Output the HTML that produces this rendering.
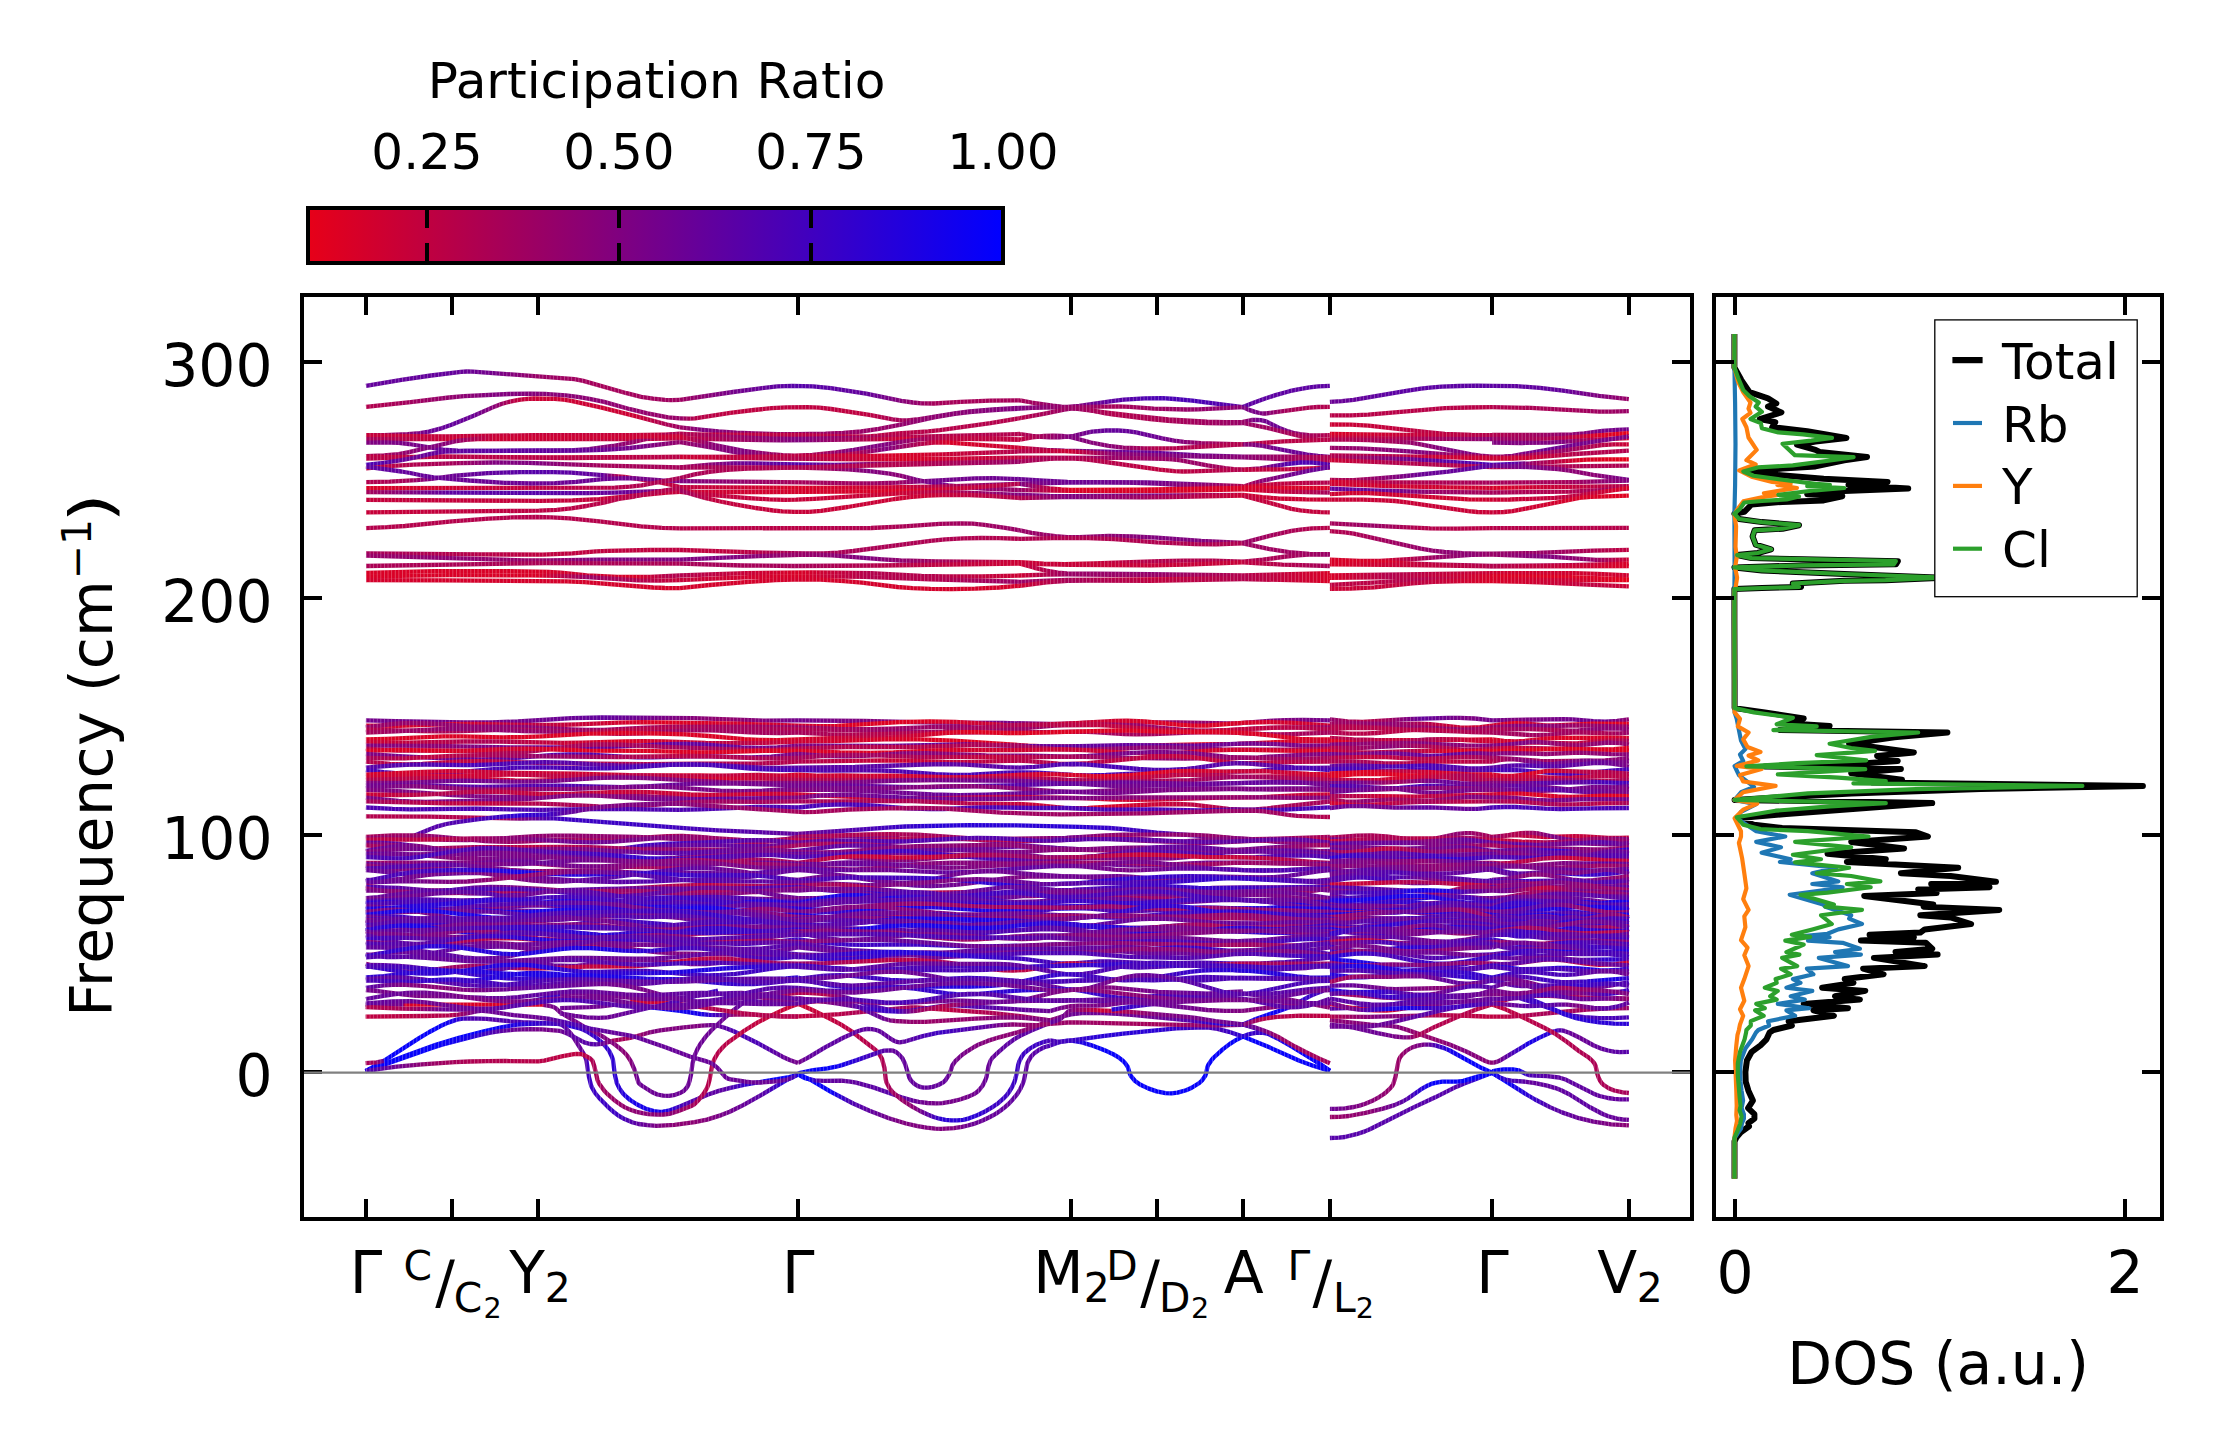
<!DOCTYPE html>
<html lang="en"><head><meta charset="utf-8"><title>Phonon band structure</title>
<style>html,body{margin:0;padding:0;background:#fff}svg{display:block}text{font-family:'DejaVu Sans','Liberation Sans',sans-serif;fill:#000}</style></head><body>
<svg width="2222" height="1455" viewBox="0 0 2222 1455">
<rect width="2222" height="1455" fill="#fff"/>
<defs><linearGradient id="cb" x1="0" x2="1" y1="0" y2="0"><stop offset="0" stop-color="#e70018"/><stop offset="1" stop-color="#0000ff"/></linearGradient><linearGradient id="g1" gradientUnits="userSpaceOnUse" x1="366" x2="680"><stop offset="0" stop-color="#63009c"/><stop offset=".274" stop-color="#63009c"/><stop offset=".411" stop-color="#75008a"/><stop offset=".548" stop-color="#990066"/><stop offset=".755" stop-color="#a60059"/><stop offset="1" stop-color="#9f0060"/></linearGradient><linearGradient id="g2" gradientUnits="userSpaceOnUse" x1="366" x2="680"><stop offset="0" stop-color="#b3004c"/><stop offset=".411" stop-color="#80007f"/><stop offset="1" stop-color="#980067"/></linearGradient><linearGradient id="g3" gradientUnits="userSpaceOnUse" x1="366" x2="680"><stop offset="0" stop-color="#a60059"/><stop offset=".137" stop-color="#8c0073"/><stop offset=".201" stop-color="#6b0094"/><stop offset=".274" stop-color="#63009c"/><stop offset=".342" stop-color="#6b0094"/><stop offset=".411" stop-color="#8c0073"/><stop offset=".478" stop-color="#bf0040"/><stop offset=".548" stop-color="#cc0033"/><stop offset=".855" stop-color="#cc0033"/><stop offset="1" stop-color="#9d0062"/></linearGradient><linearGradient id="g4" gradientUnits="userSpaceOnUse" x1="366" x2="680"><stop offset="0" stop-color="#a60059"/><stop offset=".274" stop-color="#cc0033"/><stop offset="1" stop-color="#c0003f"/></linearGradient><linearGradient id="g5" gradientUnits="userSpaceOnUse" x1="366" x2="680"><stop offset="0" stop-color="#80007f"/><stop offset=".201" stop-color="#75008a"/><stop offset=".251" stop-color="#63009c"/><stop offset=".342" stop-color="#5c00a3"/><stop offset=".548" stop-color="#5c00a3"/><stop offset="1" stop-color="#b3004c"/></linearGradient><linearGradient id="g6" gradientUnits="userSpaceOnUse" x1="366" x2="680"><stop offset="0" stop-color="#b3004c"/><stop offset=".201" stop-color="#80007f"/><stop offset=".274" stop-color="#8c0073"/><stop offset=".411" stop-color="#cc0033"/><stop offset="1" stop-color="#cc0033"/></linearGradient><linearGradient id="g7" gradientUnits="userSpaceOnUse" x1="366" x2="680"><stop offset="0" stop-color="#4a00b5"/><stop offset=".137" stop-color="#6b0094"/><stop offset=".342" stop-color="#5c00a3"/><stop offset=".654" stop-color="#63009c"/><stop offset=".855" stop-color="#75008a"/><stop offset="1" stop-color="#94006b"/></linearGradient><linearGradient id="g8" gradientUnits="userSpaceOnUse" x1="366" x2="680"><stop offset="0" stop-color="#bf0040"/><stop offset=".274" stop-color="#a60059"/><stop offset=".411" stop-color="#80007f"/><stop offset=".548" stop-color="#80007f"/><stop offset=".755" stop-color="#a60059"/><stop offset="1" stop-color="#a60059"/></linearGradient><linearGradient id="g9" gradientUnits="userSpaceOnUse" x1="366" x2="680"><stop offset="0" stop-color="#b3004c"/><stop offset=".137" stop-color="#a60059"/><stop offset=".201" stop-color="#80007f"/><stop offset=".274" stop-color="#6b0094"/><stop offset=".548" stop-color="#5500aa"/><stop offset=".755" stop-color="#63009c"/><stop offset=".805" stop-color="#b3004c"/><stop offset=".855" stop-color="#bf0040"/><stop offset="1" stop-color="#bf0040"/></linearGradient><linearGradient id="g10" gradientUnits="userSpaceOnUse" x1="366" x2="680"><stop offset="0" stop-color="#5c00a3"/><stop offset=".274" stop-color="#6b0094"/><stop offset=".755" stop-color="#6b0094"/><stop offset="1" stop-color="#80007f"/></linearGradient><linearGradient id="g11" gradientUnits="userSpaceOnUse" x1="366" x2="680"><stop offset="0" stop-color="#d90026"/><stop offset="1" stop-color="#ab0054"/></linearGradient><linearGradient id="g12" gradientUnits="userSpaceOnUse" x1="366" x2="680"><stop offset="0" stop-color="#a60059"/><stop offset=".274" stop-color="#5c00a3"/><stop offset=".548" stop-color="#5500aa"/><stop offset=".855" stop-color="#6b0094"/><stop offset="1" stop-color="#a0005f"/></linearGradient><linearGradient id="g13" gradientUnits="userSpaceOnUse" x1="366" x2="680"><stop offset="0" stop-color="#c70038"/><stop offset="1" stop-color="#b3004c"/></linearGradient><linearGradient id="g14" gradientUnits="userSpaceOnUse" x1="366" x2="680"><stop offset="0" stop-color="#a60059"/><stop offset=".548" stop-color="#bf0040"/><stop offset="1" stop-color="#bf0040"/></linearGradient><linearGradient id="g15" gradientUnits="userSpaceOnUse" x1="366" x2="680"><stop offset="0" stop-color="#990066"/><stop offset=".274" stop-color="#8c0073"/><stop offset=".548" stop-color="#990066"/><stop offset=".755" stop-color="#80007f"/><stop offset="1" stop-color="#80007f"/></linearGradient><linearGradient id="g16" gradientUnits="userSpaceOnUse" x1="366" x2="680"><stop offset="0" stop-color="#d90026"/><stop offset=".548" stop-color="#d90026"/><stop offset=".704" stop-color="#cc0033"/><stop offset=".855" stop-color="#d90026"/><stop offset=".958" stop-color="#b3004c"/><stop offset="1" stop-color="#b3004c"/></linearGradient><linearGradient id="g17" gradientUnits="userSpaceOnUse" x1="366" x2="680"><stop offset="0" stop-color="#d90026"/><stop offset=".548" stop-color="#d90026"/><stop offset=".704" stop-color="#990066"/><stop offset="1" stop-color="#c70038"/></linearGradient><linearGradient id="g18" gradientUnits="userSpaceOnUse" x1="680" x2="1020"><stop offset="0" stop-color="#9f0060"/><stop offset=".153" stop-color="#75008a"/><stop offset=".347" stop-color="#5500aa"/><stop offset=".547" stop-color="#63009c"/><stop offset=".747" stop-color="#a60059"/><stop offset="1" stop-color="#a60059"/></linearGradient><linearGradient id="g19" gradientUnits="userSpaceOnUse" x1="680" x2="1020"><stop offset="0" stop-color="#980067"/><stop offset=".046" stop-color="#b60049"/><stop offset=".153" stop-color="#bf0040"/><stop offset=".547" stop-color="#bf0040"/><stop offset=".747" stop-color="#8c0073"/><stop offset="1" stop-color="#80007f"/></linearGradient><linearGradient id="g20" gradientUnits="userSpaceOnUse" x1="680" x2="1020"><stop offset="0" stop-color="#9d0062"/><stop offset=".07" stop-color="#80007f"/><stop offset=".279" stop-color="#990066"/><stop offset=".547" stop-color="#990066"/><stop offset="1" stop-color="#80007f"/></linearGradient><linearGradient id="g21" gradientUnits="userSpaceOnUse" x1="680" x2="1020"><stop offset="0" stop-color="#c0003f"/><stop offset="1" stop-color="#b3004c"/></linearGradient><linearGradient id="g22" gradientUnits="userSpaceOnUse" x1="680" x2="1020"><stop offset="0" stop-color="#b3004c"/><stop offset=".347" stop-color="#80007f"/><stop offset=".651" stop-color="#b3004c"/><stop offset="1" stop-color="#b3004c"/></linearGradient><linearGradient id="g23" gradientUnits="userSpaceOnUse" x1="680" x2="1020"><stop offset="0" stop-color="#c0003f"/><stop offset=".347" stop-color="#80007f"/><stop offset=".651" stop-color="#cc0033"/><stop offset="1" stop-color="#bf0040"/></linearGradient><linearGradient id="g24" gradientUnits="userSpaceOnUse" x1="680" x2="1020"><stop offset="0" stop-color="#cc0033"/><stop offset=".093" stop-color="#8c0073"/><stop offset=".186" stop-color="#80007f"/><stop offset=".347" stop-color="#b3004c"/><stop offset=".418" stop-color="#a60059"/><stop offset=".511" stop-color="#80007f"/><stop offset=".604" stop-color="#80007f"/><stop offset=".79" stop-color="#bf0040"/><stop offset="1" stop-color="#bf0040"/></linearGradient><linearGradient id="g25" gradientUnits="userSpaceOnUse" x1="680" x2="1020"><stop offset="0" stop-color="#94006b"/><stop offset=".186" stop-color="#80007f"/><stop offset=".279" stop-color="#990066"/><stop offset=".347" stop-color="#cc0033"/><stop offset=".418" stop-color="#cc0033"/><stop offset=".511" stop-color="#b3004c"/><stop offset=".604" stop-color="#80007f"/><stop offset=".79" stop-color="#d90026"/><stop offset="1" stop-color="#cc0033"/></linearGradient><linearGradient id="g26" gradientUnits="userSpaceOnUse" x1="680" x2="1020"><stop offset="0" stop-color="#bf0040"/><stop offset=".347" stop-color="#bf0040"/><stop offset=".651" stop-color="#d90026"/><stop offset="1" stop-color="#b3004c"/></linearGradient><linearGradient id="g27" gradientUnits="userSpaceOnUse" x1="680" x2="1020"><stop offset="0" stop-color="#cc0033"/><stop offset=".347" stop-color="#b3004c"/><stop offset=".651" stop-color="#d90026"/><stop offset="1" stop-color="#bf0040"/></linearGradient><linearGradient id="g28" gradientUnits="userSpaceOnUse" x1="680" x2="1020"><stop offset="0" stop-color="#a60059"/><stop offset=".186" stop-color="#6b0094"/><stop offset=".347" stop-color="#5500aa"/><stop offset=".465" stop-color="#6b0094"/><stop offset=".651" stop-color="#b3004c"/><stop offset="1" stop-color="#a60059"/></linearGradient><linearGradient id="g29" gradientUnits="userSpaceOnUse" x1="680" x2="1020"><stop offset="0" stop-color="#a60059"/><stop offset=".347" stop-color="#b3004c"/><stop offset=".558" stop-color="#80007f"/><stop offset=".651" stop-color="#8c0073"/><stop offset=".744" stop-color="#6b0094"/><stop offset=".837" stop-color="#8c0073"/><stop offset="1" stop-color="#990066"/></linearGradient><linearGradient id="g30" gradientUnits="userSpaceOnUse" x1="680" x2="1020"><stop offset="0" stop-color="#ab0054"/><stop offset=".651" stop-color="#b3004c"/><stop offset="1" stop-color="#990066"/></linearGradient><linearGradient id="g31" gradientUnits="userSpaceOnUse" x1="680" x2="1020"><stop offset="0" stop-color="#80007f"/><stop offset=".347" stop-color="#a60059"/><stop offset=".651" stop-color="#990066"/><stop offset=".744" stop-color="#75008a"/><stop offset="1" stop-color="#6b0094"/></linearGradient><linearGradient id="g32" gradientUnits="userSpaceOnUse" x1="680" x2="1020"><stop offset="0" stop-color="#bf0040"/><stop offset=".347" stop-color="#d90026"/><stop offset=".651" stop-color="#cc0033"/><stop offset="1" stop-color="#80007f"/></linearGradient><linearGradient id="g33" gradientUnits="userSpaceOnUse" x1="680" x2="1020"><stop offset="0" stop-color="#b3004c"/><stop offset=".046" stop-color="#cc0033"/><stop offset=".651" stop-color="#d90026"/><stop offset="1" stop-color="#b3004c"/></linearGradient><linearGradient id="g34" gradientUnits="userSpaceOnUse" x1="680" x2="1020"><stop offset="0" stop-color="#c0003f"/><stop offset=".651" stop-color="#cc0033"/><stop offset="1" stop-color="#80007f"/></linearGradient><linearGradient id="g35" gradientUnits="userSpaceOnUse" x1="680" x2="1020"><stop offset="0" stop-color="#a0005f"/><stop offset=".093" stop-color="#c1003e"/><stop offset=".347" stop-color="#c70038"/><stop offset=".697" stop-color="#cc0033"/><stop offset="1" stop-color="#b3004c"/></linearGradient><linearGradient id="g36" gradientUnits="userSpaceOnUse" x1="680" x2="1020"><stop offset="0" stop-color="#b70048"/><stop offset=".347" stop-color="#ba0045"/><stop offset="1" stop-color="#990066"/></linearGradient><linearGradient id="g37" gradientUnits="userSpaceOnUse" x1="680" x2="1020"><stop offset="0" stop-color="#bf0040"/><stop offset=".153" stop-color="#bf0040"/><stop offset=".347" stop-color="#a60059"/><stop offset="1" stop-color="#b3004c"/></linearGradient><linearGradient id="g38" gradientUnits="userSpaceOnUse" x1="680" x2="1020"><stop offset="0" stop-color="#80007f"/><stop offset=".153" stop-color="#80007f"/><stop offset=".347" stop-color="#990066"/><stop offset=".547" stop-color="#80007f"/><stop offset="1" stop-color="#cc0033"/></linearGradient><linearGradient id="g39" gradientUnits="userSpaceOnUse" x1="680" x2="1020"><stop offset="0" stop-color="#a70058"/><stop offset=".347" stop-color="#a60059"/><stop offset="1" stop-color="#cc0033"/></linearGradient><linearGradient id="g40" gradientUnits="userSpaceOnUse" x1="680" x2="1020"><stop offset="0" stop-color="#b3004c"/><stop offset=".347" stop-color="#d90026"/><stop offset=".558" stop-color="#b3004c"/><stop offset=".744" stop-color="#b3004c"/><stop offset="1" stop-color="#cc0033"/></linearGradient><linearGradient id="g41" gradientUnits="userSpaceOnUse" x1="680" x2="1020"><stop offset="0" stop-color="#c70038"/><stop offset=".347" stop-color="#d90026"/><stop offset=".558" stop-color="#b3004c"/><stop offset=".744" stop-color="#b3004c"/><stop offset="1" stop-color="#990066"/></linearGradient><linearGradient id="g42" gradientUnits="userSpaceOnUse" x1="1020" x2="1242.8"><stop offset="0" stop-color="#a60059"/><stop offset=".228" stop-color="#8c0073"/><stop offset=".324" stop-color="#6b0094"/><stop offset=".422" stop-color="#5c00a3"/><stop offset=".613" stop-color="#4a00b5"/><stop offset=".808" stop-color="#4a00b5"/><stop offset="1" stop-color="#5c00a3"/></linearGradient><linearGradient id="g43" gradientUnits="userSpaceOnUse" x1="1020" x2="1242.8"><stop offset="0" stop-color="#80007f"/><stop offset=".422" stop-color="#a60059"/><stop offset="1" stop-color="#8c0073"/></linearGradient><linearGradient id="g44" gradientUnits="userSpaceOnUse" x1="1020" x2="1242.8"><stop offset="0" stop-color="#80007f"/><stop offset=".422" stop-color="#b3004c"/><stop offset="1" stop-color="#990066"/></linearGradient><linearGradient id="g45" gradientUnits="userSpaceOnUse" x1="1020" x2="1242.8"><stop offset="0" stop-color="#b3004c"/><stop offset=".228" stop-color="#990066"/><stop offset=".422" stop-color="#b3004c"/><stop offset="1" stop-color="#990066"/></linearGradient><linearGradient id="g46" gradientUnits="userSpaceOnUse" x1="1020" x2="1242.8"><stop offset="0" stop-color="#b3004c"/><stop offset=".324" stop-color="#6b0094"/><stop offset=".422" stop-color="#63009c"/><stop offset=".613" stop-color="#6b0094"/><stop offset=".808" stop-color="#990066"/><stop offset="1" stop-color="#b3004c"/></linearGradient><linearGradient id="g47" gradientUnits="userSpaceOnUse" x1="1020" x2="1242.8"><stop offset="0" stop-color="#bf0040"/><stop offset=".228" stop-color="#80007f"/><stop offset=".422" stop-color="#8c0073"/><stop offset=".613" stop-color="#b3004c"/><stop offset="1" stop-color="#b3004c"/></linearGradient><linearGradient id="g48" gradientUnits="userSpaceOnUse" x1="1020" x2="1242.8"><stop offset="0" stop-color="#cc0033"/><stop offset=".228" stop-color="#80007f"/><stop offset=".422" stop-color="#6b0094"/><stop offset=".613" stop-color="#63009c"/><stop offset="1" stop-color="#80007f"/></linearGradient><linearGradient id="g49" gradientUnits="userSpaceOnUse" x1="1020" x2="1242.8"><stop offset="0" stop-color="#b3004c"/><stop offset=".228" stop-color="#cc0033"/><stop offset=".422" stop-color="#8c0073"/><stop offset=".808" stop-color="#80007f"/><stop offset="1" stop-color="#8c0073"/></linearGradient><linearGradient id="g50" gradientUnits="userSpaceOnUse" x1="1020" x2="1242.8"><stop offset="0" stop-color="#bf0040"/><stop offset=".422" stop-color="#990066"/><stop offset=".808" stop-color="#990066"/><stop offset="1" stop-color="#b3004c"/></linearGradient><linearGradient id="g51" gradientUnits="userSpaceOnUse" x1="1020" x2="1242.8"><stop offset="0" stop-color="#a60059"/><stop offset=".613" stop-color="#bf0040"/><stop offset="1" stop-color="#b3004c"/></linearGradient><linearGradient id="g52" gradientUnits="userSpaceOnUse" x1="1020" x2="1242.8"><stop offset="0" stop-color="#6b0094"/><stop offset=".613" stop-color="#6b0094"/><stop offset=".808" stop-color="#80007f"/><stop offset="1" stop-color="#b3004c"/></linearGradient><linearGradient id="g53" gradientUnits="userSpaceOnUse" x1="1020" x2="1242.8"><stop offset="0" stop-color="#80007f"/><stop offset=".228" stop-color="#6b0094"/><stop offset=".613" stop-color="#75008a"/><stop offset="1" stop-color="#b3004c"/></linearGradient><linearGradient id="g54" gradientUnits="userSpaceOnUse" x1="1020" x2="1242.8"><stop offset="0" stop-color="#80007f"/><stop offset=".228" stop-color="#e60019"/><stop offset="1" stop-color="#d90026"/></linearGradient><linearGradient id="g55" gradientUnits="userSpaceOnUse" x1="1020" x2="1242.8"><stop offset="0" stop-color="#990066"/><stop offset=".228" stop-color="#d90026"/><stop offset="1" stop-color="#d90026"/></linearGradient><linearGradient id="g56" gradientUnits="userSpaceOnUse" x1="1020" x2="1242.8"><stop offset="0" stop-color="#80007f"/><stop offset=".228" stop-color="#75008a"/><stop offset=".613" stop-color="#80007f"/><stop offset="1" stop-color="#bf0040"/></linearGradient><linearGradient id="g57" gradientUnits="userSpaceOnUse" x1="1020" x2="1242.8"><stop offset="0" stop-color="#b3004c"/><stop offset=".228" stop-color="#80007f"/><stop offset="1" stop-color="#cc0033"/></linearGradient><linearGradient id="g58" gradientUnits="userSpaceOnUse" x1="1020" x2="1242.8"><stop offset="0" stop-color="#990066"/><stop offset=".228" stop-color="#990066"/><stop offset=".613" stop-color="#80007f"/><stop offset=".808" stop-color="#80007f"/><stop offset="1" stop-color="#990066"/></linearGradient><linearGradient id="g59" gradientUnits="userSpaceOnUse" x1="1020" x2="1242.8"><stop offset="0" stop-color="#cc0033"/><stop offset=".228" stop-color="#cc0033"/><stop offset=".613" stop-color="#b3004c"/><stop offset="1" stop-color="#b3004c"/></linearGradient><linearGradient id="g60" gradientUnits="userSpaceOnUse" x1="1020" x2="1242.8"><stop offset="0" stop-color="#cc0033"/><stop offset=".228" stop-color="#990066"/><stop offset=".613" stop-color="#8c0073"/><stop offset="1" stop-color="#b3004c"/></linearGradient><linearGradient id="g61" gradientUnits="userSpaceOnUse" x1="1020" x2="1242.8"><stop offset="0" stop-color="#cc0033"/><stop offset=".228" stop-color="#990066"/><stop offset=".613" stop-color="#990066"/><stop offset="1" stop-color="#b3004c"/></linearGradient><linearGradient id="g62" gradientUnits="userSpaceOnUse" x1="1020" x2="1242.8"><stop offset="0" stop-color="#990066"/><stop offset=".613" stop-color="#cc0033"/><stop offset="1" stop-color="#b3004c"/></linearGradient><linearGradient id="g63" gradientUnits="userSpaceOnUse" x1="1020" x2="1242.8"><stop offset="0" stop-color="#cc0033"/><stop offset=".228" stop-color="#a60059"/><stop offset=".613" stop-color="#bf0040"/><stop offset="1" stop-color="#b3004c"/></linearGradient><linearGradient id="g64" gradientUnits="userSpaceOnUse" x1="1242.8" x2="1329.8"><stop offset="0" stop-color="#80007f"/><stop offset=".14" stop-color="#75008a"/><stop offset=".496" stop-color="#a60059"/><stop offset="1" stop-color="#b3004c"/></linearGradient><linearGradient id="g65" gradientUnits="userSpaceOnUse" x1="1242.8" x2="1329.8"><stop offset="0" stop-color="#990066"/><stop offset=".158" stop-color="#75008a"/><stop offset=".413" stop-color="#6b0094"/><stop offset=".776" stop-color="#a60059"/><stop offset="1" stop-color="#b3004c"/></linearGradient><linearGradient id="g66" gradientUnits="userSpaceOnUse" x1="1242.8" x2="1329.8"><stop offset="0" stop-color="#990066"/><stop offset="1" stop-color="#b3004c"/></linearGradient><linearGradient id="g67" gradientUnits="userSpaceOnUse" x1="1242.8" x2="1329.8"><stop offset="0" stop-color="#8c0073"/><stop offset=".496" stop-color="#6b0094"/><stop offset=".74" stop-color="#6b0094"/><stop offset="1" stop-color="#80007f"/></linearGradient><linearGradient id="g68" gradientUnits="userSpaceOnUse" x1="1242.8" x2="1329.8"><stop offset="0" stop-color="#8c0073"/><stop offset="1" stop-color="#b3004c"/></linearGradient><linearGradient id="g69" gradientUnits="userSpaceOnUse" x1="1242.8" x2="1329.8"><stop offset="0" stop-color="#8c0073"/><stop offset="1" stop-color="#b3004c"/></linearGradient><linearGradient id="g70" gradientUnits="userSpaceOnUse" x1="1242.8" x2="1329.8"><stop offset="0" stop-color="#b3004c"/><stop offset=".496" stop-color="#5500aa"/><stop offset=".685" stop-color="#4a00b5"/><stop offset="1" stop-color="#5500aa"/></linearGradient><linearGradient id="g71" gradientUnits="userSpaceOnUse" x1="1242.8" x2="1329.8"><stop offset="0" stop-color="#b3004c"/><stop offset=".231" stop-color="#8c0073"/><stop offset=".496" stop-color="#75008a"/><stop offset="1" stop-color="#63009c"/></linearGradient><linearGradient id="g72" gradientUnits="userSpaceOnUse" x1="1242.8" x2="1329.8"><stop offset="0" stop-color="#cc0033"/><stop offset="1" stop-color="#b3004c"/></linearGradient><linearGradient id="g73" gradientUnits="userSpaceOnUse" x1="1242.8" x2="1329.8"><stop offset="0" stop-color="#d90026"/><stop offset="1" stop-color="#a60059"/></linearGradient><linearGradient id="g74" gradientUnits="userSpaceOnUse" x1="1242.8" x2="1329.8"><stop offset="0" stop-color="#990066"/><stop offset="1" stop-color="#b80047"/></linearGradient><linearGradient id="g75" gradientUnits="userSpaceOnUse" x1="1242.8" x2="1329.8"><stop offset="0" stop-color="#b3004c"/><stop offset="1" stop-color="#990066"/></linearGradient><linearGradient id="g76" gradientUnits="userSpaceOnUse" x1="1242.8" x2="1329.8"><stop offset="0" stop-color="#bf0040"/><stop offset="1" stop-color="#a60059"/></linearGradient><linearGradient id="g77" gradientUnits="userSpaceOnUse" x1="1242.8" x2="1329.8"><stop offset="0" stop-color="#b3004c"/><stop offset="1" stop-color="#d90026"/></linearGradient><linearGradient id="g78" gradientUnits="userSpaceOnUse" x1="1242.8" x2="1329.8"><stop offset="0" stop-color="#b3004c"/><stop offset="1" stop-color="#d90026"/></linearGradient><linearGradient id="g79" gradientUnits="userSpaceOnUse" x1="1242.8" x2="1329.8"><stop offset="0" stop-color="#b3004c"/><stop offset="1" stop-color="#d90026"/></linearGradient><linearGradient id="g80" gradientUnits="userSpaceOnUse" x1="1242.8" x2="1329.8"><stop offset="0" stop-color="#b3004c"/><stop offset="1" stop-color="#d90026"/></linearGradient><linearGradient id="g81" gradientUnits="userSpaceOnUse" x1="1329.9" x2="1492.1"><stop offset="0" stop-color="#6b0094"/><stop offset=".365" stop-color="#5c00a3"/><stop offset="1" stop-color="#5c00a3"/></linearGradient><linearGradient id="g82" gradientUnits="userSpaceOnUse" x1="1329.9" x2="1492.1"><stop offset="0" stop-color="#cc0033"/><stop offset="1" stop-color="#b3004c"/></linearGradient><linearGradient id="g83" gradientUnits="userSpaceOnUse" x1="1329.9" x2="1492.1"><stop offset="0" stop-color="#d90026"/><stop offset="1" stop-color="#b3004c"/></linearGradient><linearGradient id="g84" gradientUnits="userSpaceOnUse" x1="1329.9" x2="1492.1"><stop offset="0" stop-color="#cc0033"/><stop offset="1" stop-color="#8c0073"/></linearGradient><linearGradient id="g85" gradientUnits="userSpaceOnUse" x1="1329.9" x2="1492.1"><stop offset="0" stop-color="#b3004c"/><stop offset=".365" stop-color="#a60059"/><stop offset=".706" stop-color="#80007f"/><stop offset=".852" stop-color="#80007f"/><stop offset="1" stop-color="#990066"/></linearGradient><linearGradient id="g86" gradientUnits="userSpaceOnUse" x1="1329.9" x2="1492.1"><stop offset="0" stop-color="#990066"/><stop offset=".559" stop-color="#80007f"/><stop offset="1" stop-color="#bf0040"/></linearGradient><linearGradient id="g87" gradientUnits="userSpaceOnUse" x1="1329.9" x2="1492.1"><stop offset="0" stop-color="#b3004c"/><stop offset=".365" stop-color="#b3004c"/><stop offset=".657" stop-color="#cc0033"/><stop offset="1" stop-color="#cc0033"/></linearGradient><linearGradient id="g88" gradientUnits="userSpaceOnUse" x1="1329.9" x2="1492.1"><stop offset="0" stop-color="#b3004c"/><stop offset=".657" stop-color="#5c00a3"/><stop offset="1" stop-color="#4a00b5"/></linearGradient><linearGradient id="g89" gradientUnits="userSpaceOnUse" x1="1329.9" x2="1492.1"><stop offset="0" stop-color="#cc0033"/><stop offset=".365" stop-color="#b3004c"/><stop offset="1" stop-color="#b3004c"/></linearGradient><linearGradient id="g90" gradientUnits="userSpaceOnUse" x1="1329.9" x2="1492.1"><stop offset="0" stop-color="#b3004c"/><stop offset=".17" stop-color="#a60059"/><stop offset=".559" stop-color="#6b0094"/><stop offset="1" stop-color="#5c00a3"/></linearGradient><linearGradient id="g91" gradientUnits="userSpaceOnUse" x1="1329.9" x2="1492.1"><stop offset="0" stop-color="#d90026"/><stop offset=".365" stop-color="#b3004c"/><stop offset="1" stop-color="#a60059"/></linearGradient><linearGradient id="g92" gradientUnits="userSpaceOnUse" x1="1329.9" x2="1492.1"><stop offset="0" stop-color="#63009c"/><stop offset=".365" stop-color="#6b0094"/><stop offset=".657" stop-color="#990066"/><stop offset="1" stop-color="#a60059"/></linearGradient><linearGradient id="g93" gradientUnits="userSpaceOnUse" x1="1329.9" x2="1492.1"><stop offset="0" stop-color="#a60059"/><stop offset=".267" stop-color="#990066"/><stop offset=".559" stop-color="#b3004c"/><stop offset="1" stop-color="#ba0045"/></linearGradient><linearGradient id="g94" gradientUnits="userSpaceOnUse" x1="1329.9" x2="1492.1"><stop offset="0" stop-color="#b3004c"/><stop offset=".754" stop-color="#8c0073"/><stop offset="1" stop-color="#990066"/></linearGradient><linearGradient id="g95" gradientUnits="userSpaceOnUse" x1="1329.9" x2="1492.1"><stop offset="0" stop-color="#d90026"/><stop offset=".365" stop-color="#cc0033"/><stop offset=".657" stop-color="#990066"/><stop offset=".852" stop-color="#8c0073"/><stop offset="1" stop-color="#990066"/></linearGradient><linearGradient id="g96" gradientUnits="userSpaceOnUse" x1="1329.9" x2="1492.1"><stop offset="0" stop-color="#d90026"/><stop offset=".365" stop-color="#d90026"/><stop offset=".657" stop-color="#b3004c"/><stop offset="1" stop-color="#a60059"/></linearGradient><linearGradient id="g97" gradientUnits="userSpaceOnUse" x1="1329.9" x2="1492.1"><stop offset="0" stop-color="#d90026"/><stop offset="1" stop-color="#b3004c"/></linearGradient><linearGradient id="g98" gradientUnits="userSpaceOnUse" x1="1329.9" x2="1492.1"><stop offset="0" stop-color="#d90026"/><stop offset=".365" stop-color="#b3004c"/><stop offset="1" stop-color="#cc0033"/></linearGradient><linearGradient id="g99" gradientUnits="userSpaceOnUse" x1="1329.9" x2="1492.1"><stop offset="0" stop-color="#d90026"/><stop offset=".365" stop-color="#b3004c"/><stop offset="1" stop-color="#d90026"/></linearGradient><linearGradient id="g100" gradientUnits="userSpaceOnUse" x1="1329.9" x2="1492.1"><stop offset="0" stop-color="#bf0040"/><stop offset=".559" stop-color="#b3004c"/><stop offset="1" stop-color="#d90026"/></linearGradient><linearGradient id="g101" gradientUnits="userSpaceOnUse" x1="1329.9" x2="1492.1"><stop offset="0" stop-color="#cc0033"/><stop offset=".559" stop-color="#bf0040"/><stop offset="1" stop-color="#d90026"/></linearGradient><linearGradient id="g102" gradientUnits="userSpaceOnUse" x1="1492.1" x2="1628.8"><stop offset="0" stop-color="#5c00a3"/><stop offset=".518" stop-color="#63009c"/><stop offset="1" stop-color="#990066"/></linearGradient><linearGradient id="g103" gradientUnits="userSpaceOnUse" x1="1492.1" x2="1628.8"><stop offset="0" stop-color="#b3004c"/><stop offset="1" stop-color="#990066"/></linearGradient><linearGradient id="g104" gradientUnits="userSpaceOnUse" x1="1492.1" x2="1628.8"><stop offset="0" stop-color="#b3004c"/><stop offset=".634" stop-color="#8c0073"/><stop offset=".807" stop-color="#75008a"/><stop offset="1" stop-color="#75008a"/></linearGradient><linearGradient id="g105" gradientUnits="userSpaceOnUse" x1="1492.1" x2="1628.8"><stop offset="0" stop-color="#990066"/><stop offset=".518" stop-color="#b3004c"/><stop offset=".749" stop-color="#d90026"/><stop offset="1" stop-color="#e60019"/></linearGradient><linearGradient id="g106" gradientUnits="userSpaceOnUse" x1="1492.1" x2="1628.8"><stop offset="0" stop-color="#80007f"/><stop offset=".518" stop-color="#80007f"/><stop offset=".749" stop-color="#b3004c"/><stop offset="1" stop-color="#cc0033"/></linearGradient><linearGradient id="g107" gradientUnits="userSpaceOnUse" x1="1492.1" x2="1628.8"><stop offset="0" stop-color="#990066"/><stop offset=".402" stop-color="#6b0094"/><stop offset="1" stop-color="#80007f"/></linearGradient><linearGradient id="g108" gradientUnits="userSpaceOnUse" x1="1492.1" x2="1628.8"><stop offset="0" stop-color="#bf0040"/><stop offset=".518" stop-color="#990066"/><stop offset="1" stop-color="#cc0033"/></linearGradient><linearGradient id="g109" gradientUnits="userSpaceOnUse" x1="1492.1" x2="1628.8"><stop offset="0" stop-color="#cc0033"/><stop offset=".287" stop-color="#cc0033"/><stop offset=".634" stop-color="#b3004c"/><stop offset="1" stop-color="#b3004c"/></linearGradient><linearGradient id="g110" gradientUnits="userSpaceOnUse" x1="1492.1" x2="1628.8"><stop offset="0" stop-color="#4a00b5"/><stop offset=".171" stop-color="#5c00a3"/><stop offset=".287" stop-color="#990066"/><stop offset=".634" stop-color="#d90026"/><stop offset="1" stop-color="#e60019"/></linearGradient><linearGradient id="g111" gradientUnits="userSpaceOnUse" x1="1492.1" x2="1628.8"><stop offset="0" stop-color="#6b0094"/><stop offset=".518" stop-color="#8c0073"/><stop offset=".749" stop-color="#8c0073"/><stop offset="1" stop-color="#75008a"/></linearGradient><linearGradient id="g112" gradientUnits="userSpaceOnUse" x1="1492.1" x2="1628.8"><stop offset="0" stop-color="#a60059"/><stop offset=".518" stop-color="#a60059"/><stop offset="1" stop-color="#80007f"/></linearGradient><linearGradient id="g113" gradientUnits="userSpaceOnUse" x1="1492.1" x2="1628.8"><stop offset="0" stop-color="#d90026"/><stop offset="1" stop-color="#b3004c"/></linearGradient><linearGradient id="g114" gradientUnits="userSpaceOnUse" x1="1492.1" x2="1628.8"><stop offset="0" stop-color="#a60059"/><stop offset=".518" stop-color="#b3004c"/><stop offset="1" stop-color="#990066"/></linearGradient><linearGradient id="g115" gradientUnits="userSpaceOnUse" x1="1492.1" x2="1628.8"><stop offset="0" stop-color="#cc0033"/><stop offset=".634" stop-color="#bf0040"/><stop offset="1" stop-color="#d90026"/></linearGradient><linearGradient id="g116" gradientUnits="userSpaceOnUse" x1="1492.1" x2="1628.8"><stop offset="0" stop-color="#c70038"/><stop offset="1" stop-color="#e0001f"/></linearGradient><linearGradient id="g117" gradientUnits="userSpaceOnUse" x1="1492.1" x2="1628.8"><stop offset="0" stop-color="#990066"/><stop offset=".402" stop-color="#990066"/><stop offset="1" stop-color="#bf0040"/></linearGradient><linearGradient id="g118" gradientUnits="userSpaceOnUse" x1="1492.1" x2="1628.8"><stop offset="0" stop-color="#990066"/><stop offset=".402" stop-color="#80007f"/><stop offset=".749" stop-color="#990066"/><stop offset="1" stop-color="#cc0033"/></linearGradient><linearGradient id="g119" gradientUnits="userSpaceOnUse" x1="1492.1" x2="1628.8"><stop offset="0" stop-color="#a60059"/><stop offset=".518" stop-color="#b3004c"/><stop offset="1" stop-color="#d90026"/></linearGradient><linearGradient id="g120" gradientUnits="userSpaceOnUse" x1="1492.1" x2="1628.8"><stop offset="0" stop-color="#b3004c"/><stop offset="1" stop-color="#d90026"/></linearGradient><linearGradient id="g121" gradientUnits="userSpaceOnUse" x1="1492.1" x2="1628.8"><stop offset="0" stop-color="#d90026"/><stop offset=".518" stop-color="#cc0033"/><stop offset="1" stop-color="#e60019"/></linearGradient><linearGradient id="g122" gradientUnits="userSpaceOnUse" x1="1492.1" x2="1628.8"><stop offset="0" stop-color="#d90026"/><stop offset=".749" stop-color="#bf0040"/><stop offset="1" stop-color="#cc0033"/></linearGradient><linearGradient id="g123" gradientUnits="userSpaceOnUse" x1="365.6" x2="798"><stop offset="0" stop-color="#0500fa"/><stop offset=".167" stop-color="#0500fa"/><stop offset=".2" stop-color="#1600e9"/><stop offset=".235" stop-color="#4a00b5"/><stop offset=".289" stop-color="#5500aa"/><stop offset=".399" stop-color="#4a00b5"/><stop offset=".45" stop-color="#1600e9"/><stop offset=".504" stop-color="#3b00c4"/><stop offset=".59" stop-color="#2900d6"/><stop offset=".612" stop-color="#1600e9"/><stop offset=".688" stop-color="#1600e9"/><stop offset=".734" stop-color="#4a00b5"/><stop offset=".774" stop-color="#5c00a3"/><stop offset=".828" stop-color="#5c00a3"/><stop offset=".937" stop-color="#0500fa"/><stop offset="1" stop-color="#0500fa"/></linearGradient><linearGradient id="g124" gradientUnits="userSpaceOnUse" x1="365.6" x2="798"><stop offset="0" stop-color="#0500fa"/><stop offset=".289" stop-color="#0500fa"/><stop offset=".45" stop-color="#4a00b5"/><stop offset=".478" stop-color="#6b0094"/><stop offset=".505" stop-color="#63009c"/><stop offset=".515" stop-color="#3b00c4"/><stop offset=".58" stop-color="#3b00c4"/><stop offset=".68" stop-color="#80007f"/><stop offset=".72" stop-color="#8c0073"/><stop offset=".761" stop-color="#8c0073"/><stop offset=".923" stop-color="#5500aa"/><stop offset="1" stop-color="#0500fa"/></linearGradient><linearGradient id="g125" gradientUnits="userSpaceOnUse" x1="365.6" x2="798"><stop offset="0" stop-color="#0500fa"/><stop offset=".153" stop-color="#0500fa"/><stop offset=".235" stop-color="#1600e9"/><stop offset=".289" stop-color="#4a00b5"/><stop offset=".343" stop-color="#6b0094"/><stop offset=".399" stop-color="#75008a"/><stop offset=".437" stop-color="#75008a"/><stop offset=".477" stop-color="#5c00a3"/><stop offset=".531" stop-color="#5500aa"/><stop offset=".552" stop-color="#6b0094"/><stop offset=".571" stop-color="#a60059"/><stop offset=".612" stop-color="#a60059"/><stop offset=".666" stop-color="#80007f"/><stop offset=".774" stop-color="#80007f"/><stop offset=".856" stop-color="#4a00b5"/><stop offset=".91" stop-color="#4a00b5"/><stop offset="1" stop-color="#75008a"/></linearGradient><linearGradient id="g126" gradientUnits="userSpaceOnUse" x1="365.6" x2="798"><stop offset="0" stop-color="#4a00b5"/><stop offset=".153" stop-color="#990066"/><stop offset=".235" stop-color="#ad0052"/><stop offset=".498" stop-color="#bf0040"/><stop offset=".55" stop-color="#9e0061"/><stop offset=".626" stop-color="#8c0073"/><stop offset=".707" stop-color="#8c0073"/><stop offset=".788" stop-color="#b3004c"/><stop offset="1" stop-color="#cc0033"/></linearGradient><linearGradient id="g127" gradientUnits="userSpaceOnUse" x1="365.6" x2="383.9"><stop offset="0" stop-color="#a60059"/><stop offset=".427" stop-color="#a60059"/><stop offset="1" stop-color="#6b0094"/></linearGradient><linearGradient id="g128" gradientUnits="userSpaceOnUse" x1="365.6" x2="798"><stop offset="0" stop-color="#6b0094"/><stop offset=".086" stop-color="#75008a"/><stop offset=".091" stop-color="#d90026"/><stop offset=".408" stop-color="#d90026"/><stop offset=".413" stop-color="#80007f"/><stop offset=".437" stop-color="#75008a"/><stop offset=".504" stop-color="#75008a"/><stop offset=".607" stop-color="#8c0073"/><stop offset=".631" stop-color="#6b0094"/><stop offset=".842" stop-color="#6b0094"/><stop offset=".883" stop-color="#5c00a3"/><stop offset="1" stop-color="#6b0094"/></linearGradient><linearGradient id="g129" gradientUnits="userSpaceOnUse" x1="365.6" x2="798"><stop offset="0" stop-color="#b3004c"/><stop offset=".099" stop-color="#a60059"/><stop offset=".18" stop-color="#6b0094"/><stop offset=".399" stop-color="#6b0094"/><stop offset=".478" stop-color="#4a00b5"/><stop offset=".558" stop-color="#63009c"/><stop offset=".937" stop-color="#6b0094"/><stop offset=".975" stop-color="#63009c"/><stop offset="1" stop-color="#2900d6"/></linearGradient><linearGradient id="g130" gradientUnits="userSpaceOnUse" x1="365.6" x2="572.3"><stop offset="0" stop-color="#bf0040"/><stop offset=".419" stop-color="#b3004c"/><stop offset=".547" stop-color="#6b0094"/><stop offset=".887" stop-color="#3b00c4"/><stop offset="1" stop-color="#3b00c4"/></linearGradient><linearGradient id="g131" gradientUnits="userSpaceOnUse" x1="624.4" x2="798"><stop offset="0" stop-color="#2900d6"/><stop offset=".168" stop-color="#0500fa"/><stop offset=".438" stop-color="#1600e9"/><stop offset=".573" stop-color="#5c00a3"/><stop offset=".64" stop-color="#990066"/><stop offset=".775" stop-color="#b3004c"/><stop offset="1" stop-color="#bf0040"/></linearGradient><linearGradient id="g132" gradientUnits="userSpaceOnUse" x1="630.2" x2="798"><stop offset="0" stop-color="#cc0033"/><stop offset=".209" stop-color="#cc0033"/><stop offset=".488" stop-color="#b3004c"/><stop offset="1" stop-color="#b3004c"/></linearGradient><linearGradient id="g133" gradientUnits="userSpaceOnUse" x1="560" x2="718"><stop offset="0" stop-color="#6b0094"/><stop offset=".333" stop-color="#6b0094"/><stop offset="1" stop-color="#3b00c4"/></linearGradient><linearGradient id="g134" gradientUnits="userSpaceOnUse" x1="560" x2="798"><stop offset="0" stop-color="#75008a"/><stop offset=".344" stop-color="#75008a"/><stop offset=".59" stop-color="#5c00a3"/><stop offset=".737" stop-color="#5c00a3"/><stop offset=".885" stop-color="#990066"/><stop offset="1" stop-color="#b3004c"/></linearGradient><linearGradient id="g135" gradientUnits="userSpaceOnUse" x1="735.5" x2="798"><stop offset="0" stop-color="#5c00a3"/><stop offset=".375" stop-color="#5c00a3"/><stop offset="1" stop-color="#80007f"/></linearGradient><linearGradient id="g136" gradientUnits="userSpaceOnUse" x1="798" x2="1050"><stop offset="0" stop-color="#0500fa"/><stop offset=".131" stop-color="#0500fa"/><stop offset=".201" stop-color="#4a00b5"/><stop offset=".409" stop-color="#80007f"/><stop offset=".618" stop-color="#80007f"/><stop offset=".688" stop-color="#6b0094"/><stop offset=".925" stop-color="#5c00a3"/><stop offset="1" stop-color="#4a00b5"/></linearGradient><linearGradient id="g137" gradientUnits="userSpaceOnUse" x1="798" x2="1050"><stop offset="0" stop-color="#0500fa"/><stop offset=".038" stop-color="#0500fa"/><stop offset=".084" stop-color="#5c00a3"/><stop offset=".177" stop-color="#63009c"/><stop offset=".386" stop-color="#5500aa"/><stop offset=".526" stop-color="#75008a"/><stop offset=".665" stop-color="#75008a"/><stop offset=".827" stop-color="#5c00a3"/><stop offset="1" stop-color="#5c00a3"/></linearGradient><linearGradient id="g138" gradientUnits="userSpaceOnUse" x1="798" x2="1050"><stop offset="0" stop-color="#cc0033"/><stop offset=".317" stop-color="#b3004c"/><stop offset=".456" stop-color="#8c0073"/><stop offset=".572" stop-color="#2900d6"/><stop offset=".711" stop-color="#2900d6"/><stop offset=".758" stop-color="#3b00c4"/><stop offset=".967" stop-color="#3b00c4"/><stop offset="1" stop-color="#4a00b5"/></linearGradient><linearGradient id="g139" gradientUnits="userSpaceOnUse" x1="798" x2="1050"><stop offset="0" stop-color="#0500fa"/><stop offset=".131" stop-color="#0500fa"/><stop offset=".368" stop-color="#63009c"/><stop offset=".586" stop-color="#63009c"/><stop offset=".632" stop-color="#75008a"/><stop offset=".804" stop-color="#8c0073"/><stop offset="1" stop-color="#8c0073"/></linearGradient><linearGradient id="g140" gradientUnits="userSpaceOnUse" x1="798" x2="1050"><stop offset="0" stop-color="#75008a"/><stop offset=".038" stop-color="#63009c"/><stop offset=".108" stop-color="#5c00a3"/><stop offset=".396" stop-color="#63009c"/><stop offset=".572" stop-color="#3b00c4"/><stop offset=".758" stop-color="#63009c"/><stop offset=".851" stop-color="#8c0073"/><stop offset="1" stop-color="#990066"/></linearGradient><linearGradient id="g141" gradientUnits="userSpaceOnUse" x1="798" x2="1050"><stop offset="0" stop-color="#bf0040"/><stop offset=".108" stop-color="#bf0040"/><stop offset=".386" stop-color="#990066"/><stop offset=".572" stop-color="#bf0040"/><stop offset="1" stop-color="#990066"/></linearGradient><linearGradient id="g142" gradientUnits="userSpaceOnUse" x1="798" x2="1050"><stop offset="0" stop-color="#bf0040"/><stop offset=".084" stop-color="#b3004c"/><stop offset=".247" stop-color="#5c00a3"/><stop offset=".34" stop-color="#6b0094"/><stop offset=".386" stop-color="#8c0073"/><stop offset=".526" stop-color="#990066"/><stop offset="1" stop-color="#80007f"/></linearGradient><linearGradient id="g143" gradientUnits="userSpaceOnUse" x1="798" x2="1050"><stop offset="0" stop-color="#b3004c"/><stop offset=".108" stop-color="#b3004c"/><stop offset=".201" stop-color="#5c00a3"/><stop offset=".27" stop-color="#4a00b5"/><stop offset=".433" stop-color="#5500aa"/><stop offset=".618" stop-color="#4a00b5"/><stop offset="1" stop-color="#6b0094"/></linearGradient><linearGradient id="g144" gradientUnits="userSpaceOnUse" x1="798" x2="1050"><stop offset="0" stop-color="#80007f"/><stop offset=".108" stop-color="#80007f"/><stop offset=".201" stop-color="#6b0094"/><stop offset=".293" stop-color="#3b00c4"/><stop offset=".386" stop-color="#3b00c4"/><stop offset=".479" stop-color="#990066"/><stop offset=".572" stop-color="#b3004c"/><stop offset=".665" stop-color="#80007f"/><stop offset=".804" stop-color="#6b0094"/><stop offset="1" stop-color="#6b0094"/></linearGradient><linearGradient id="g145" gradientUnits="userSpaceOnUse" x1="1050" x2="1242.9"><stop offset="0" stop-color="#4a00b5"/><stop offset=".263" stop-color="#0500fa"/><stop offset="1" stop-color="#0500fa"/></linearGradient><linearGradient id="g146" gradientUnits="userSpaceOnUse" x1="1050" x2="1242.9"><stop offset="0" stop-color="#4a00b5"/><stop offset=".228" stop-color="#2900d6"/><stop offset=".553" stop-color="#2900d6"/><stop offset=".858" stop-color="#4a00b5"/><stop offset="1" stop-color="#2900d6"/></linearGradient><linearGradient id="g147" gradientUnits="userSpaceOnUse" x1="1050" x2="1242.9"><stop offset="0" stop-color="#990066"/><stop offset=".553" stop-color="#a60059"/><stop offset="1" stop-color="#80007f"/></linearGradient><linearGradient id="g148" gradientUnits="userSpaceOnUse" x1="1050" x2="1242.9"><stop offset="0" stop-color="#8c0073"/><stop offset=".108" stop-color="#6b0094"/><stop offset=".553" stop-color="#6b0094"/><stop offset=".718" stop-color="#5500aa"/><stop offset=".858" stop-color="#2900d6"/><stop offset="1" stop-color="#2900d6"/></linearGradient><linearGradient id="g149" gradientUnits="userSpaceOnUse" x1="1050" x2="1242.9"><stop offset="0" stop-color="#5c00a3"/><stop offset=".108" stop-color="#80007f"/><stop offset=".263" stop-color="#cc0033"/><stop offset=".553" stop-color="#80007f"/><stop offset="1" stop-color="#6b0094"/></linearGradient><linearGradient id="g150" gradientUnits="userSpaceOnUse" x1="1111.6" x2="1242.9"><stop offset="0" stop-color="#2900d6"/><stop offset=".343" stop-color="#4a00b5"/><stop offset="1" stop-color="#63009c"/></linearGradient><linearGradient id="g151" gradientUnits="userSpaceOnUse" x1="1050" x2="1242.9"><stop offset="0" stop-color="#6b0094"/><stop offset=".108" stop-color="#5c00a3"/><stop offset=".298" stop-color="#5c00a3"/><stop offset="1" stop-color="#80007f"/></linearGradient><linearGradient id="g152" gradientUnits="userSpaceOnUse" x1="1050" x2="1242.9"><stop offset="0" stop-color="#6b0094"/><stop offset=".108" stop-color="#80007f"/><stop offset=".508" stop-color="#6b0094"/><stop offset="1" stop-color="#6b0094"/></linearGradient><linearGradient id="g153" gradientUnits="userSpaceOnUse" x1="1242.9" x2="1329.9"><stop offset="0" stop-color="#2900d6"/><stop offset=".151" stop-color="#3b00c4"/><stop offset=".616" stop-color="#0500fa"/><stop offset="1" stop-color="#0500fa"/></linearGradient><linearGradient id="g154" gradientUnits="userSpaceOnUse" x1="1242.9" x2="1329.9"><stop offset="0" stop-color="#2900d6"/><stop offset=".151" stop-color="#3b00c4"/><stop offset=".616" stop-color="#0500fa"/><stop offset="1" stop-color="#0500fa"/></linearGradient><linearGradient id="g155" gradientUnits="userSpaceOnUse" x1="1242.9" x2="1329.9"><stop offset="0" stop-color="#6b0094"/><stop offset=".151" stop-color="#6b0094"/><stop offset=".399" stop-color="#990066"/><stop offset="1" stop-color="#a60059"/></linearGradient><linearGradient id="g156" gradientUnits="userSpaceOnUse" x1="1242.9" x2="1323.5"><stop offset="0" stop-color="#2900d6"/><stop offset=".33" stop-color="#0500fa"/><stop offset="1" stop-color="#4a00b5"/></linearGradient><linearGradient id="g157" gradientUnits="userSpaceOnUse" x1="1242.9" x2="1329.9"><stop offset="0" stop-color="#80007f"/><stop offset=".228" stop-color="#b3004c"/><stop offset="1" stop-color="#bf0040"/></linearGradient><linearGradient id="g158" gradientUnits="userSpaceOnUse" x1="1242.9" x2="1329.9"><stop offset="0" stop-color="#80007f"/><stop offset="1" stop-color="#990066"/></linearGradient><linearGradient id="g159" gradientUnits="userSpaceOnUse" x1="1242.9" x2="1329.9"><stop offset="0" stop-color="#63009c"/><stop offset="1" stop-color="#8c0073"/></linearGradient><linearGradient id="g160" gradientUnits="userSpaceOnUse" x1="1329.9" x2="1492.1"><stop offset="0" stop-color="#5500aa"/><stop offset=".782" stop-color="#5500aa"/><stop offset="1" stop-color="#0500fa"/></linearGradient><linearGradient id="g161" gradientUnits="userSpaceOnUse" x1="1329.9" x2="1492.1"><stop offset="0" stop-color="#990066"/><stop offset=".25" stop-color="#8c0073"/><stop offset=".472" stop-color="#5500aa"/><stop offset=".631" stop-color="#0500fa"/><stop offset="1" stop-color="#0500fa"/></linearGradient><linearGradient id="g162" gradientUnits="userSpaceOnUse" x1="1329.9" x2="1492.1"><stop offset="0" stop-color="#6b0094"/><stop offset=".427" stop-color="#990066"/><stop offset=".578" stop-color="#75008a"/><stop offset=".738" stop-color="#1600e9"/><stop offset=".827" stop-color="#0500fa"/><stop offset="1" stop-color="#0500fa"/></linearGradient><linearGradient id="g163" gradientUnits="userSpaceOnUse" x1="1329.9" x2="1628.9"><stop offset="0" stop-color="#8c0073"/><stop offset=".208" stop-color="#80007f"/><stop offset=".304" stop-color="#990066"/><stop offset=".448" stop-color="#80007f"/><stop offset=".542" stop-color="#8c0073"/><stop offset=".665" stop-color="#1600e9"/><stop offset=".737" stop-color="#2900d6"/><stop offset=".786" stop-color="#63009c"/><stop offset=".834" stop-color="#6b0094"/><stop offset="1" stop-color="#5500aa"/></linearGradient><linearGradient id="g164" gradientUnits="userSpaceOnUse" x1="1329.9" x2="1628.9"><stop offset="0" stop-color="#6b0094"/><stop offset=".159" stop-color="#6b0094"/><stop offset=".256" stop-color="#80007f"/><stop offset=".294" stop-color="#a60059"/><stop offset=".352" stop-color="#b3004c"/><stop offset=".542" stop-color="#b3004c"/><stop offset=".593" stop-color="#bf0040"/><stop offset=".786" stop-color="#b3004c"/><stop offset="1" stop-color="#80007f"/></linearGradient><linearGradient id="g165" gradientUnits="userSpaceOnUse" x1="1329.9" x2="1628.9"><stop offset="0" stop-color="#b3004c"/><stop offset=".159" stop-color="#80007f"/><stop offset=".256" stop-color="#8c0073"/><stop offset=".352" stop-color="#b3004c"/><stop offset=".542" stop-color="#bf0040"/><stop offset=".737" stop-color="#a60059"/><stop offset="1" stop-color="#990066"/></linearGradient><linearGradient id="g166" gradientUnits="userSpaceOnUse" x1="1492.1" x2="1628.9"><stop offset="0" stop-color="#0500fa"/><stop offset=".111" stop-color="#0500fa"/><stop offset=".426" stop-color="#5500aa"/><stop offset="1" stop-color="#8c0073"/></linearGradient><linearGradient id="g167" gradientUnits="userSpaceOnUse" x1="1492.1" x2="1628.9"><stop offset="0" stop-color="#0500fa"/><stop offset=".111" stop-color="#3b00c4"/><stop offset=".268" stop-color="#63009c"/><stop offset=".689" stop-color="#5c00a3"/><stop offset="1" stop-color="#6b0094"/></linearGradient><linearGradient id="g168" gradientUnits="userSpaceOnUse" x1="1492.1" x2="1628.9"><stop offset="0" stop-color="#0500fa"/><stop offset=".184" stop-color="#0500fa"/><stop offset=".268" stop-color="#4a00b5"/><stop offset=".426" stop-color="#5c00a3"/><stop offset="1" stop-color="#63009c"/></linearGradient><linearGradient id="g169" gradientUnits="userSpaceOnUse" x1="1492.1" x2="1628.9"><stop offset="0" stop-color="#bf0040"/><stop offset="1" stop-color="#a60059"/></linearGradient><linearGradient id="g170" gradientUnits="userSpaceOnUse" x1="1492.1" x2="1628.9"><stop offset="0" stop-color="#4a00b5"/><stop offset=".374" stop-color="#3b00c4"/><stop offset="1" stop-color="#4a00b5"/></linearGradient><linearGradient id="g171" gradientUnits="userSpaceOnUse" x1="1507.2" x2="1628.9"><stop offset="0" stop-color="#4a00b5"/><stop offset=".473" stop-color="#2900d6"/><stop offset="1" stop-color="#2900d6"/></linearGradient><linearGradient id="g172" gradientUnits="userSpaceOnUse" x1="1329.9" x2="1492.1"><stop offset="0" stop-color="#5c00a3"/><stop offset=".383" stop-color="#4a00b5"/><stop offset="1" stop-color="#5c00a3"/></linearGradient><linearGradient id="g173" gradientUnits="userSpaceOnUse" x1="1329.9" x2="1492.1"><stop offset="0" stop-color="#d90026"/><stop offset=".205" stop-color="#e0001f"/><stop offset=".383" stop-color="#cc0033"/><stop offset=".56" stop-color="#80007f"/><stop offset=".738" stop-color="#6b0094"/><stop offset="1" stop-color="#6b0094"/></linearGradient><linearGradient id="g174" gradientUnits="userSpaceOnUse" x1="1329.9" x2="1628.9"><stop offset="0" stop-color="#a60059"/><stop offset=".111" stop-color="#990066"/><stop offset=".256" stop-color="#5c00a3"/><stop offset=".4" stop-color="#5c00a3"/><stop offset=".689" stop-color="#990066"/><stop offset="1" stop-color="#75008a"/></linearGradient><linearGradient id="g175" gradientUnits="userSpaceOnUse" x1="1329.9" x2="1492.1"><stop offset="0" stop-color="#6b0094"/><stop offset=".294" stop-color="#6b0094"/><stop offset=".649" stop-color="#5500aa"/><stop offset="1" stop-color="#6b0094"/></linearGradient><linearGradient id="g176" gradientUnits="userSpaceOnUse" x1="365.9" x2="798"><stop offset="0" stop-color="#73008c"/><stop offset=".306" stop-color="#770088"/><stop offset=".556" stop-color="#62009d"/><stop offset=".833" stop-color="#93006c"/><stop offset="1" stop-color="#73008c"/></linearGradient><linearGradient id="g177" gradientUnits="userSpaceOnUse" x1="365.9" x2="798"><stop offset="0" stop-color="#cc0033"/><stop offset=".139" stop-color="#d80027"/><stop offset=".389" stop-color="#bc0043"/><stop offset=".694" stop-color="#de0021"/><stop offset="1" stop-color="#cc0033"/></linearGradient><linearGradient id="g178" gradientUnits="userSpaceOnUse" x1="365.9" x2="798"><stop offset="0" stop-color="#990066"/><stop offset=".361" stop-color="#8b0074"/><stop offset=".667" stop-color="#a5005a"/><stop offset="1" stop-color="#990066"/></linearGradient><linearGradient id="g179" gradientUnits="userSpaceOnUse" x1="365.9" x2="798"><stop offset="0" stop-color="#b2004c"/><stop offset=".333" stop-color="#a3005c"/><stop offset=".611" stop-color="#bc0043"/><stop offset=".861" stop-color="#a1005e"/><stop offset="1" stop-color="#b2004d"/></linearGradient><linearGradient id="g180" gradientUnits="userSpaceOnUse" x1="365.9" x2="798"><stop offset="0" stop-color="#a60059"/><stop offset=".194" stop-color="#8f0070"/><stop offset="1" stop-color="#a60059"/></linearGradient><linearGradient id="g181" gradientUnits="userSpaceOnUse" x1="365.9" x2="798"><stop offset="0" stop-color="#cc0033"/><stop offset=".278" stop-color="#ab0054"/><stop offset=".583" stop-color="#dc0023"/><stop offset=".861" stop-color="#b90046"/><stop offset="1" stop-color="#cc0033"/></linearGradient><linearGradient id="g182" gradientUnits="userSpaceOnUse" x1="365.9" x2="798"><stop offset="0" stop-color="#800080"/><stop offset=".167" stop-color="#8d0072"/><stop offset=".417" stop-color="#680097"/><stop offset=".806" stop-color="#5e00a1"/><stop offset="1" stop-color="#800080"/></linearGradient><linearGradient id="g183" gradientUnits="userSpaceOnUse" x1="365.9" x2="798"><stop offset="0" stop-color="#b2004c"/><stop offset=".75" stop-color="#a3005c"/><stop offset="1" stop-color="#b2004c"/></linearGradient><linearGradient id="g184" gradientUnits="userSpaceOnUse" x1="365.9" x2="798"><stop offset="0" stop-color="#d90026"/><stop offset=".139" stop-color="#dd0022"/><stop offset=".333" stop-color="#cc0033"/><stop offset=".5" stop-color="#de0021"/><stop offset="1" stop-color="#d90026"/></linearGradient><linearGradient id="g185" gradientUnits="userSpaceOnUse" x1="365.9" x2="798"><stop offset="0" stop-color="#800080"/><stop offset=".583" stop-color="#4700b8"/><stop offset="1" stop-color="#800080"/></linearGradient><linearGradient id="g186" gradientUnits="userSpaceOnUse" x1="365.9" x2="798"><stop offset="0" stop-color="#a60059"/><stop offset=".139" stop-color="#c1003e"/><stop offset=".417" stop-color="#960069"/><stop offset=".722" stop-color="#bb0044"/><stop offset="1" stop-color="#a60059"/></linearGradient><linearGradient id="g187" gradientUnits="userSpaceOnUse" x1="365.9" x2="798"><stop offset="0" stop-color="#b2004c"/><stop offset=".167" stop-color="#c3003c"/><stop offset=".472" stop-color="#af0050"/><stop offset="1" stop-color="#b2004c"/></linearGradient><linearGradient id="g188" gradientUnits="userSpaceOnUse" x1="365.9" x2="798"><stop offset="0" stop-color="#5900a6"/><stop offset=".25" stop-color="#4700b8"/><stop offset=".611" stop-color="#64009b"/><stop offset="1" stop-color="#5900a6"/></linearGradient><linearGradient id="g189" gradientUnits="userSpaceOnUse" x1="365.9" x2="798"><stop offset="0" stop-color="#d90026"/><stop offset=".278" stop-color="#c90036"/><stop offset="1" stop-color="#d90026"/></linearGradient><linearGradient id="g190" gradientUnits="userSpaceOnUse" x1="365.9" x2="798"><stop offset="0" stop-color="#cc0033"/><stop offset=".194" stop-color="#d2002d"/><stop offset=".556" stop-color="#b5004a"/><stop offset="1" stop-color="#cc0033"/></linearGradient><linearGradient id="g191" gradientUnits="userSpaceOnUse" x1="365.9" x2="798"><stop offset="0" stop-color="#b2004c"/><stop offset=".333" stop-color="#cf0030"/><stop offset=".611" stop-color="#b4004b"/><stop offset=".833" stop-color="#d4002b"/><stop offset="1" stop-color="#b3004c"/></linearGradient><linearGradient id="g192" gradientUnits="userSpaceOnUse" x1="365.9" x2="798"><stop offset="0" stop-color="#800080"/><stop offset=".194" stop-color="#70008f"/><stop offset=".778" stop-color="#860079"/><stop offset="1" stop-color="#800080"/></linearGradient><linearGradient id="g193" gradientUnits="userSpaceOnUse" x1="365.9" x2="798"><stop offset="0" stop-color="#73008c"/><stop offset=".194" stop-color="#5900a6"/><stop offset=".5" stop-color="#5000af"/><stop offset=".833" stop-color="#75008a"/><stop offset="1" stop-color="#73008c"/></linearGradient><linearGradient id="g194" gradientUnits="userSpaceOnUse" x1="365.9" x2="798"><stop offset="0" stop-color="#73008c"/><stop offset=".306" stop-color="#9e0061"/><stop offset=".611" stop-color="#770088"/><stop offset=".861" stop-color="#7e0081"/><stop offset="1" stop-color="#73008c"/></linearGradient><linearGradient id="g195" gradientUnits="userSpaceOnUse" x1="365.9" x2="798"><stop offset="0" stop-color="#800080"/><stop offset=".333" stop-color="#7e0081"/><stop offset=".583" stop-color="#91006e"/><stop offset=".861" stop-color="#7b0084"/><stop offset="1" stop-color="#800080"/></linearGradient><linearGradient id="g196" gradientUnits="userSpaceOnUse" x1="365.9" x2="798"><stop offset="0" stop-color="#cc0033"/><stop offset=".167" stop-color="#b1004e"/><stop offset=".417" stop-color="#c5003a"/><stop offset="1" stop-color="#cc0033"/></linearGradient><linearGradient id="g197" gradientUnits="userSpaceOnUse" x1="365.9" x2="798"><stop offset="0" stop-color="#800080"/><stop offset=".306" stop-color="#770088"/><stop offset=".556" stop-color="#870078"/><stop offset=".833" stop-color="#63009c"/><stop offset="1" stop-color="#800080"/></linearGradient><linearGradient id="g198" gradientUnits="userSpaceOnUse" x1="365.9" x2="798"><stop offset="0" stop-color="#a60059"/><stop offset=".25" stop-color="#c4003b"/><stop offset=".639" stop-color="#990066"/><stop offset="1" stop-color="#a60059"/></linearGradient><linearGradient id="g199" gradientUnits="userSpaceOnUse" x1="365.9" x2="798"><stop offset="0" stop-color="#4d00b2"/><stop offset="1" stop-color="#4d00b2"/></linearGradient><linearGradient id="g200" gradientUnits="userSpaceOnUse" x1="798" x2="1329.9"><stop offset="0" stop-color="#73008c"/><stop offset=".136" stop-color="#82007d"/><stop offset=".386" stop-color="#770088"/><stop offset=".659" stop-color="#a1005e"/><stop offset="1" stop-color="#73008c"/></linearGradient><linearGradient id="g201" gradientUnits="userSpaceOnUse" x1="798" x2="1329.9"><stop offset="0" stop-color="#cc0033"/><stop offset=".091" stop-color="#de0021"/><stop offset=".227" stop-color="#dc0023"/><stop offset=".432" stop-color="#bf0040"/><stop offset=".727" stop-color="#dd0022"/><stop offset="1" stop-color="#cc0033"/></linearGradient><linearGradient id="g202" gradientUnits="userSpaceOnUse" x1="798" x2="1329.9"><stop offset="0" stop-color="#990066"/><stop offset="1" stop-color="#990066"/></linearGradient><linearGradient id="g203" gradientUnits="userSpaceOnUse" x1="798" x2="1329.9"><stop offset="0" stop-color="#b2004c"/><stop offset=".182" stop-color="#95006a"/><stop offset=".545" stop-color="#bf0040"/><stop offset=".818" stop-color="#c4003b"/><stop offset="1" stop-color="#b2004c"/></linearGradient><linearGradient id="g204" gradientUnits="userSpaceOnUse" x1="798" x2="1329.9"><stop offset="0" stop-color="#a60059"/><stop offset=".159" stop-color="#b60049"/><stop offset=".455" stop-color="#a3005c"/><stop offset="1" stop-color="#a60059"/></linearGradient><linearGradient id="g205" gradientUnits="userSpaceOnUse" x1="798" x2="1329.9"><stop offset="0" stop-color="#d90026"/><stop offset=".136" stop-color="#bd0042"/><stop offset=".318" stop-color="#de0021"/><stop offset="1" stop-color="#d90026"/></linearGradient><linearGradient id="g206" gradientUnits="userSpaceOnUse" x1="798" x2="1329.9"><stop offset="0" stop-color="#cc0033"/><stop offset=".273" stop-color="#de0021"/><stop offset=".886" stop-color="#de0021"/><stop offset="1" stop-color="#cc0033"/></linearGradient><linearGradient id="g207" gradientUnits="userSpaceOnUse" x1="798" x2="1329.9"><stop offset="0" stop-color="#800080"/><stop offset=".182" stop-color="#660099"/><stop offset=".682" stop-color="#61009e"/><stop offset="1" stop-color="#800080"/></linearGradient><linearGradient id="g208" gradientUnits="userSpaceOnUse" x1="798" x2="1329.9"><stop offset="0" stop-color="#b2004c"/><stop offset=".227" stop-color="#b70048"/><stop offset=".75" stop-color="#82007d"/><stop offset=".864" stop-color="#8c0073"/><stop offset="1" stop-color="#b2004d"/></linearGradient><linearGradient id="g209" gradientUnits="userSpaceOnUse" x1="798" x2="1329.9"><stop offset="0" stop-color="#d90026"/><stop offset=".182" stop-color="#dc0023"/><stop offset=".523" stop-color="#c80037"/><stop offset="1" stop-color="#d90026"/></linearGradient><linearGradient id="g210" gradientUnits="userSpaceOnUse" x1="798" x2="1329.9"><stop offset="0" stop-color="#800080"/><stop offset=".341" stop-color="#8b0074"/><stop offset=".614" stop-color="#770088"/><stop offset=".864" stop-color="#85007a"/><stop offset="1" stop-color="#800080"/></linearGradient><linearGradient id="g211" gradientUnits="userSpaceOnUse" x1="798" x2="1329.9"><stop offset="0" stop-color="#a60059"/><stop offset=".136" stop-color="#a0005f"/><stop offset=".364" stop-color="#c5003a"/><stop offset=".659" stop-color="#8b0074"/><stop offset="1" stop-color="#a60059"/></linearGradient><linearGradient id="g212" gradientUnits="userSpaceOnUse" x1="798" x2="1329.9"><stop offset="0" stop-color="#b2004c"/><stop offset=".182" stop-color="#cb0034"/><stop offset=".455" stop-color="#b4004b"/><stop offset=".773" stop-color="#c2003d"/><stop offset="1" stop-color="#b2004c"/></linearGradient><linearGradient id="g213" gradientUnits="userSpaceOnUse" x1="798" x2="1329.9"><stop offset="0" stop-color="#5900a6"/><stop offset=".364" stop-color="#5b00a4"/><stop offset=".591" stop-color="#4700b8"/><stop offset=".864" stop-color="#5d00a2"/><stop offset="1" stop-color="#5900a6"/></linearGradient><linearGradient id="g214" gradientUnits="userSpaceOnUse" x1="798" x2="1329.9"><stop offset="0" stop-color="#4d00b2"/><stop offset=".114" stop-color="#5900a6"/><stop offset=".25" stop-color="#4700b8"/><stop offset="1" stop-color="#4d00b2"/></linearGradient><linearGradient id="g215" gradientUnits="userSpaceOnUse" x1="798" x2="1329.9"><stop offset="0" stop-color="#d90026"/><stop offset=".341" stop-color="#cd0032"/><stop offset=".659" stop-color="#de0021"/><stop offset=".864" stop-color="#c60039"/><stop offset="1" stop-color="#d90026"/></linearGradient><linearGradient id="g216" gradientUnits="userSpaceOnUse" x1="798" x2="1329.9"><stop offset="0" stop-color="#cc0033"/><stop offset=".523" stop-color="#ce0031"/><stop offset=".818" stop-color="#b1004e"/><stop offset="1" stop-color="#cc0033"/></linearGradient><linearGradient id="g217" gradientUnits="userSpaceOnUse" x1="798" x2="1329.9"><stop offset="0" stop-color="#b2004c"/><stop offset=".841" stop-color="#a1005e"/><stop offset="1" stop-color="#b2004c"/></linearGradient><linearGradient id="g218" gradientUnits="userSpaceOnUse" x1="798" x2="1329.9"><stop offset="0" stop-color="#800080"/><stop offset=".614" stop-color="#680097"/><stop offset="1" stop-color="#800080"/></linearGradient><linearGradient id="g219" gradientUnits="userSpaceOnUse" x1="798" x2="1329.9"><stop offset="0" stop-color="#73008c"/><stop offset=".341" stop-color="#4c00b3"/><stop offset=".614" stop-color="#73008c"/><stop offset=".864" stop-color="#61009e"/><stop offset="1" stop-color="#73008c"/></linearGradient><linearGradient id="g220" gradientUnits="userSpaceOnUse" x1="798" x2="1329.9"><stop offset="0" stop-color="#73008c"/><stop offset=".386" stop-color="#8d0072"/><stop offset=".727" stop-color="#73008c"/><stop offset="1" stop-color="#73008c"/></linearGradient><linearGradient id="g221" gradientUnits="userSpaceOnUse" x1="798" x2="1329.9"><stop offset="0" stop-color="#800080"/><stop offset=".341" stop-color="#63009c"/><stop offset=".705" stop-color="#7c0083"/><stop offset="1" stop-color="#800080"/></linearGradient><linearGradient id="g222" gradientUnits="userSpaceOnUse" x1="798" x2="1329.9"><stop offset="0" stop-color="#cc0033"/><stop offset=".364" stop-color="#b90046"/><stop offset=".591" stop-color="#d2002d"/><stop offset=".841" stop-color="#bb0044"/><stop offset="1" stop-color="#cc0033"/></linearGradient><linearGradient id="g223" gradientUnits="userSpaceOnUse" x1="798" x2="1329.9"><stop offset="0" stop-color="#800080"/><stop offset=".182" stop-color="#670098"/><stop offset=".818" stop-color="#960069"/><stop offset="1" stop-color="#80007f"/></linearGradient><linearGradient id="g224" gradientUnits="userSpaceOnUse" x1="798" x2="1329.9"><stop offset="0" stop-color="#a60059"/><stop offset=".25" stop-color="#ae0051"/><stop offset=".568" stop-color="#db0024"/><stop offset=".864" stop-color="#aa0055"/><stop offset="1" stop-color="#a60059"/></linearGradient><linearGradient id="g225" gradientUnits="userSpaceOnUse" x1="1329.9" x2="1492.1"><stop offset="0" stop-color="#93006c"/><stop offset=".214" stop-color="#b70048"/><stop offset=".357" stop-color="#a3005c"/><stop offset=".571" stop-color="#64009b"/><stop offset=".857" stop-color="#7d0082"/><stop offset="1" stop-color="#73008c"/></linearGradient><linearGradient id="g226" gradientUnits="userSpaceOnUse" x1="1329.9" x2="1492.1"><stop offset="0" stop-color="#a2005d"/><stop offset=".357" stop-color="#8a0075"/><stop offset=".714" stop-color="#c60039"/><stop offset="1" stop-color="#cc0033"/></linearGradient><linearGradient id="g227" gradientUnits="userSpaceOnUse" x1="1329.9" x2="1492.1"><stop offset="0" stop-color="#b3004c"/><stop offset=".143" stop-color="#b2004d"/><stop offset=".429" stop-color="#92006d"/><stop offset="1" stop-color="#990066"/></linearGradient><linearGradient id="g228" gradientUnits="userSpaceOnUse" x1="1329.9" x2="1492.1"><stop offset="0" stop-color="#b60049"/><stop offset=".5" stop-color="#b60049"/><stop offset=".786" stop-color="#90006f"/><stop offset="1" stop-color="#b2004d"/></linearGradient><linearGradient id="g229" gradientUnits="userSpaceOnUse" x1="1329.9" x2="1492.1"><stop offset="0" stop-color="#ab0054"/><stop offset=".143" stop-color="#b80047"/><stop offset=".714" stop-color="#b70048"/><stop offset="1" stop-color="#a60059"/></linearGradient><linearGradient id="g230" gradientUnits="userSpaceOnUse" x1="1329.9" x2="1492.1"><stop offset="0" stop-color="#ba0045"/><stop offset=".214" stop-color="#b3004c"/><stop offset=".571" stop-color="#d80027"/><stop offset="1" stop-color="#d90026"/></linearGradient><linearGradient id="g231" gradientUnits="userSpaceOnUse" x1="1329.9" x2="1492.1"><stop offset="0" stop-color="#de0021"/><stop offset=".571" stop-color="#a90056"/><stop offset=".857" stop-color="#cd0032"/><stop offset="1" stop-color="#cc0033"/></linearGradient><linearGradient id="g232" gradientUnits="userSpaceOnUse" x1="1329.9" x2="1492.1"><stop offset="0" stop-color="#80007f"/><stop offset=".357" stop-color="#980067"/><stop offset=".571" stop-color="#81007e"/><stop offset=".857" stop-color="#8d0072"/><stop offset="1" stop-color="#800080"/></linearGradient><linearGradient id="g233" gradientUnits="userSpaceOnUse" x1="1329.9" x2="1492.1"><stop offset="0" stop-color="#b80047"/><stop offset=".357" stop-color="#890076"/><stop offset=".643" stop-color="#b1004e"/><stop offset="1" stop-color="#b2004c"/></linearGradient><linearGradient id="g234" gradientUnits="userSpaceOnUse" x1="1329.9" x2="1492.1"><stop offset="0" stop-color="#cb0034"/><stop offset=".143" stop-color="#b70048"/><stop offset=".5" stop-color="#b4004b"/><stop offset=".786" stop-color="#de0021"/><stop offset="1" stop-color="#d90026"/></linearGradient><linearGradient id="g235" gradientUnits="userSpaceOnUse" x1="1329.9" x2="1492.1"><stop offset="0" stop-color="#73008c"/><stop offset=".214" stop-color="#7e0081"/><stop offset=".714" stop-color="#5b00a4"/><stop offset="1" stop-color="#800080"/></linearGradient><linearGradient id="g236" gradientUnits="userSpaceOnUse" x1="1329.9" x2="1492.1"><stop offset="0" stop-color="#b2004d"/><stop offset=".214" stop-color="#c4003b"/><stop offset="1" stop-color="#a60059"/></linearGradient><linearGradient id="g237" gradientUnits="userSpaceOnUse" x1="1329.9" x2="1492.1"><stop offset="0" stop-color="#ac0053"/><stop offset=".214" stop-color="#a70058"/><stop offset=".714" stop-color="#c1003e"/><stop offset="1" stop-color="#b2004c"/></linearGradient><linearGradient id="g238" gradientUnits="userSpaceOnUse" x1="1329.9" x2="1492.1"><stop offset="0" stop-color="#63009c"/><stop offset=".5" stop-color="#4700b8"/><stop offset="1" stop-color="#5900a6"/></linearGradient><linearGradient id="g239" gradientUnits="userSpaceOnUse" x1="1329.9" x2="1492.1"><stop offset="0" stop-color="#4700b8"/><stop offset=".643" stop-color="#4700b8"/><stop offset=".857" stop-color="#64009b"/><stop offset="1" stop-color="#4d00b2"/></linearGradient><linearGradient id="g240" gradientUnits="userSpaceOnUse" x1="1329.9" x2="1492.1"><stop offset="0" stop-color="#db0024"/><stop offset=".214" stop-color="#de0021"/><stop offset=".429" stop-color="#c1003e"/><stop offset=".643" stop-color="#d3002c"/><stop offset=".857" stop-color="#c90036"/><stop offset="1" stop-color="#d90026"/></linearGradient><linearGradient id="g241" gradientUnits="userSpaceOnUse" x1="1329.9" x2="1492.1"><stop offset="0" stop-color="#dd0022"/><stop offset=".571" stop-color="#de0021"/><stop offset=".786" stop-color="#ad0052"/><stop offset=".857" stop-color="#a90056"/><stop offset="1" stop-color="#cc0033"/></linearGradient><linearGradient id="g242" gradientUnits="userSpaceOnUse" x1="1329.9" x2="1492.1"><stop offset="0" stop-color="#b3004c"/><stop offset=".429" stop-color="#d70028"/><stop offset=".857" stop-color="#aa0055"/><stop offset="1" stop-color="#b2004c"/></linearGradient><linearGradient id="g243" gradientUnits="userSpaceOnUse" x1="1329.9" x2="1492.1"><stop offset="0" stop-color="#760089"/><stop offset=".143" stop-color="#690096"/><stop offset=".357" stop-color="#9c0063"/><stop offset=".429" stop-color="#9f0060"/><stop offset=".714" stop-color="#660099"/><stop offset="1" stop-color="#800080"/></linearGradient><linearGradient id="g244" gradientUnits="userSpaceOnUse" x1="1329.9" x2="1492.1"><stop offset="0" stop-color="#4700b8"/><stop offset=".214" stop-color="#5d00a2"/><stop offset=".429" stop-color="#4700b8"/><stop offset=".571" stop-color="#4a00b5"/><stop offset="1" stop-color="#73008c"/></linearGradient><linearGradient id="g245" gradientUnits="userSpaceOnUse" x1="1329.9" x2="1492.1"><stop offset="0" stop-color="#7f0080"/><stop offset=".143" stop-color="#780087"/><stop offset=".357" stop-color="#8c0073"/><stop offset=".786" stop-color="#8c0073"/><stop offset="1" stop-color="#73008c"/></linearGradient><linearGradient id="g246" gradientUnits="userSpaceOnUse" x1="1329.9" x2="1492.1"><stop offset="0" stop-color="#780087"/><stop offset=".143" stop-color="#6c0093"/><stop offset=".429" stop-color="#7c0083"/><stop offset=".714" stop-color="#70008f"/><stop offset="1" stop-color="#800080"/></linearGradient><linearGradient id="g247" gradientUnits="userSpaceOnUse" x1="1329.9" x2="1492.1"><stop offset="0" stop-color="#a70058"/><stop offset=".357" stop-color="#cf0030"/><stop offset=".643" stop-color="#b90046"/><stop offset="1" stop-color="#cc0033"/></linearGradient><linearGradient id="g248" gradientUnits="userSpaceOnUse" x1="1329.9" x2="1492.1"><stop offset="0" stop-color="#b4004b"/><stop offset=".214" stop-color="#8c0073"/><stop offset=".5" stop-color="#a60059"/><stop offset=".857" stop-color="#7f0080"/><stop offset="1" stop-color="#800080"/></linearGradient><linearGradient id="g249" gradientUnits="userSpaceOnUse" x1="1329.9" x2="1492.1"><stop offset="0" stop-color="#d2002d"/><stop offset=".286" stop-color="#c70038"/><stop offset=".571" stop-color="#a5005a"/><stop offset=".857" stop-color="#bb0044"/><stop offset="1" stop-color="#a60059"/></linearGradient><linearGradient id="g250" gradientUnits="userSpaceOnUse" x1="1329.9" x2="1492.1"><stop offset="0" stop-color="#6b0094"/><stop offset=".286" stop-color="#760089"/><stop offset=".571" stop-color="#5f00a0"/><stop offset=".857" stop-color="#670098"/><stop offset="1" stop-color="#4d00b2"/></linearGradient><linearGradient id="g251" gradientUnits="userSpaceOnUse" x1="1492.1" x2="1628.9"><stop offset="0" stop-color="#73008c"/><stop offset=".182" stop-color="#80007f"/><stop offset=".818" stop-color="#6b0094"/><stop offset="1" stop-color="#91006e"/></linearGradient><linearGradient id="g252" gradientUnits="userSpaceOnUse" x1="1492.1" x2="1628.9"><stop offset="0" stop-color="#cc0033"/><stop offset=".182" stop-color="#de0021"/><stop offset=".364" stop-color="#bd0042"/><stop offset=".636" stop-color="#de0021"/><stop offset="1" stop-color="#de0021"/></linearGradient><linearGradient id="g253" gradientUnits="userSpaceOnUse" x1="1492.1" x2="1628.9"><stop offset="0" stop-color="#990066"/><stop offset=".273" stop-color="#7e0081"/><stop offset=".636" stop-color="#9c0063"/><stop offset=".818" stop-color="#91006e"/><stop offset="1" stop-color="#9a0065"/></linearGradient><linearGradient id="g254" gradientUnits="userSpaceOnUse" x1="1492.1" x2="1628.9"><stop offset="0" stop-color="#b2004c"/><stop offset=".182" stop-color="#a0005f"/><stop offset=".455" stop-color="#af0050"/><stop offset=".727" stop-color="#8a0075"/><stop offset="1" stop-color="#8f0070"/></linearGradient><linearGradient id="g255" gradientUnits="userSpaceOnUse" x1="1492.1" x2="1628.9"><stop offset="0" stop-color="#a60059"/><stop offset=".455" stop-color="#9d0062"/><stop offset=".818" stop-color="#ae0051"/><stop offset="1" stop-color="#970068"/></linearGradient><linearGradient id="g256" gradientUnits="userSpaceOnUse" x1="1492.1" x2="1628.9"><stop offset="0" stop-color="#d90026"/><stop offset=".182" stop-color="#cc0033"/><stop offset=".545" stop-color="#de0021"/><stop offset="1" stop-color="#d1002e"/></linearGradient><linearGradient id="g257" gradientUnits="userSpaceOnUse" x1="1492.1" x2="1628.9"><stop offset="0" stop-color="#cc0033"/><stop offset=".182" stop-color="#ce0031"/><stop offset=".455" stop-color="#b3004c"/><stop offset=".818" stop-color="#c3003c"/><stop offset="1" stop-color="#a80057"/></linearGradient><linearGradient id="g258" gradientUnits="userSpaceOnUse" x1="1492.1" x2="1628.9"><stop offset="0" stop-color="#800080"/><stop offset=".182" stop-color="#7a0085"/><stop offset=".545" stop-color="#990066"/><stop offset=".818" stop-color="#8d0072"/><stop offset="1" stop-color="#970068"/></linearGradient><linearGradient id="g259" gradientUnits="userSpaceOnUse" x1="1492.1" x2="1628.9"><stop offset="0" stop-color="#b2004c"/><stop offset=".091" stop-color="#c70038"/><stop offset=".182" stop-color="#ca0035"/><stop offset=".364" stop-color="#ac0053"/><stop offset=".455" stop-color="#af0050"/><stop offset=".636" stop-color="#d5002a"/><stop offset="1" stop-color="#de0021"/></linearGradient><linearGradient id="g260" gradientUnits="userSpaceOnUse" x1="1492.1" x2="1628.9"><stop offset="0" stop-color="#800080"/><stop offset=".545" stop-color="#94006b"/><stop offset="1" stop-color="#860079"/></linearGradient><linearGradient id="g261" gradientUnits="userSpaceOnUse" x1="1492.1" x2="1628.9"><stop offset="0" stop-color="#a60059"/><stop offset=".273" stop-color="#990066"/><stop offset=".545" stop-color="#a1005e"/><stop offset="1" stop-color="#860079"/></linearGradient><linearGradient id="g262" gradientUnits="userSpaceOnUse" x1="1492.1" x2="1628.9"><stop offset="0" stop-color="#b2004c"/><stop offset=".364" stop-color="#660099"/><stop offset=".636" stop-color="#7c0083"/><stop offset=".818" stop-color="#6f0090"/><stop offset="1" stop-color="#7c0083"/></linearGradient><linearGradient id="g263" gradientUnits="userSpaceOnUse" x1="1492.1" x2="1628.9"><stop offset="0" stop-color="#5900a6"/><stop offset=".273" stop-color="#5200ad"/><stop offset=".818" stop-color="#670098"/><stop offset="1" stop-color="#7b0084"/></linearGradient><linearGradient id="g264" gradientUnits="userSpaceOnUse" x1="1492.1" x2="1628.9"><stop offset="0" stop-color="#d90026"/><stop offset=".273" stop-color="#de0021"/><stop offset=".545" stop-color="#bf0040"/><stop offset="1" stop-color="#b1004e"/></linearGradient><linearGradient id="g265" gradientUnits="userSpaceOnUse" x1="1492.1" x2="1628.9"><stop offset="0" stop-color="#cc0033"/><stop offset="1" stop-color="#b60049"/></linearGradient><linearGradient id="g266" gradientUnits="userSpaceOnUse" x1="1492.1" x2="1628.9"><stop offset="0" stop-color="#b2004c"/><stop offset=".182" stop-color="#bd0042"/><stop offset=".545" stop-color="#94006b"/><stop offset=".818" stop-color="#b90046"/><stop offset="1" stop-color="#a90056"/></linearGradient><linearGradient id="g267" gradientUnits="userSpaceOnUse" x1="1492.1" x2="1628.9"><stop offset="0" stop-color="#800080"/><stop offset=".182" stop-color="#7f0080"/><stop offset=".364" stop-color="#5800a7"/><stop offset=".636" stop-color="#5f00a0"/><stop offset=".818" stop-color="#4700b8"/><stop offset="1" stop-color="#4700b8"/></linearGradient><linearGradient id="g268" gradientUnits="userSpaceOnUse" x1="1492.1" x2="1628.9"><stop offset="0" stop-color="#73008c"/><stop offset=".182" stop-color="#5c00a3"/><stop offset=".455" stop-color="#74008b"/><stop offset=".636" stop-color="#690096"/><stop offset="1" stop-color="#70008f"/></linearGradient><linearGradient id="g269" gradientUnits="userSpaceOnUse" x1="1492.1" x2="1628.9"><stop offset="0" stop-color="#73008c"/><stop offset=".182" stop-color="#74008b"/><stop offset=".364" stop-color="#8c0073"/><stop offset=".636" stop-color="#72008d"/><stop offset="1" stop-color="#7e0081"/></linearGradient><linearGradient id="g270" gradientUnits="userSpaceOnUse" x1="1492.1" x2="1628.9"><stop offset="0" stop-color="#800080"/><stop offset=".364" stop-color="#5400ab"/><stop offset="1" stop-color="#7c0083"/></linearGradient><linearGradient id="g271" gradientUnits="userSpaceOnUse" x1="1492.1" x2="1628.9"><stop offset="0" stop-color="#cc0033"/><stop offset=".273" stop-color="#dd0022"/><stop offset=".636" stop-color="#d1002e"/><stop offset=".727" stop-color="#dd0022"/><stop offset="1" stop-color="#de0021"/></linearGradient><linearGradient id="g272" gradientUnits="userSpaceOnUse" x1="1492.1" x2="1628.9"><stop offset="0" stop-color="#800080"/><stop offset="1" stop-color="#73008c"/></linearGradient><linearGradient id="g273" gradientUnits="userSpaceOnUse" x1="1492.1" x2="1628.9"><stop offset="0" stop-color="#a60059"/><stop offset=".182" stop-color="#b5004a"/><stop offset=".455" stop-color="#a80057"/><stop offset=".818" stop-color="#b90046"/><stop offset="1" stop-color="#a80057"/></linearGradient><linearGradient id="g274" gradientUnits="userSpaceOnUse" x1="365.9" x2="900"><stop offset="0" stop-color="#b3004c"/><stop offset=".239" stop-color="#b3004c"/><stop offset=".343" stop-color="#4a00b5"/><stop offset=".371" stop-color="#3b00c4"/><stop offset=".543" stop-color="#3b00c4"/><stop offset="1" stop-color="#80007f"/></linearGradient><linearGradient id="g275" gradientUnits="userSpaceOnUse" x1="404.3" x2="1330"><stop offset="0" stop-color="#5c00a3"/><stop offset=".082" stop-color="#4a00b5"/><stop offset=".123" stop-color="#2900d6"/><stop offset=".156" stop-color="#3b00c4"/><stop offset=".173" stop-color="#5c00a3"/><stop offset=".222" stop-color="#80007f"/><stop offset=".272" stop-color="#80007f"/><stop offset=".425" stop-color="#a60059"/><stop offset=".914" stop-color="#990066"/><stop offset="1" stop-color="#b3004c"/></linearGradient><linearGradient id="g276" gradientUnits="userSpaceOnUse" x1="798" x2="1330"><stop offset="0" stop-color="#6b0094"/><stop offset=".258" stop-color="#2900d6"/><stop offset=".513" stop-color="#2900d6"/><stop offset=".765" stop-color="#5500aa"/><stop offset="1" stop-color="#63009c"/></linearGradient><linearGradient id="g277" gradientUnits="userSpaceOnUse" x1="365.9" x2="798"><stop offset="0" stop-color="#a90056"/><stop offset=".194" stop-color="#8c0073"/><stop offset=".5" stop-color="#a4005b"/><stop offset="1" stop-color="#a90056"/></linearGradient><linearGradient id="g278" gradientUnits="userSpaceOnUse" x1="365.9" x2="798"><stop offset="0" stop-color="#bb0044"/><stop offset=".167" stop-color="#bb0044"/><stop offset=".417" stop-color="#74008b"/><stop offset=".528" stop-color="#690096"/><stop offset="1" stop-color="#bb0044"/></linearGradient><linearGradient id="g279" gradientUnits="userSpaceOnUse" x1="365.9" x2="798"><stop offset="0" stop-color="#63009c"/><stop offset=".694" stop-color="#4300bc"/><stop offset="1" stop-color="#63009c"/></linearGradient><linearGradient id="g280" gradientUnits="userSpaceOnUse" x1="365.9" x2="798"><stop offset="0" stop-color="#75008a"/><stop offset=".083" stop-color="#95006a"/><stop offset=".167" stop-color="#a0005f"/><stop offset=".444" stop-color="#63009c"/><stop offset=".861" stop-color="#60009f"/><stop offset="1" stop-color="#75008a"/></linearGradient><linearGradient id="g281" gradientUnits="userSpaceOnUse" x1="365.9" x2="798"><stop offset="0" stop-color="#a4005b"/><stop offset=".139" stop-color="#9b0064"/><stop offset=".389" stop-color="#be0041"/><stop offset=".722" stop-color="#8f0070"/><stop offset="1" stop-color="#a4005b"/></linearGradient><linearGradient id="g282" gradientUnits="userSpaceOnUse" x1="365.9" x2="798"><stop offset="0" stop-color="#5e00a1"/><stop offset=".139" stop-color="#82007d"/><stop offset=".278" stop-color="#8d0072"/><stop offset=".472" stop-color="#7d0082"/><stop offset=".806" stop-color="#3e00c1"/><stop offset="1" stop-color="#5e00a1"/></linearGradient><linearGradient id="g283" gradientUnits="userSpaceOnUse" x1="365.9" x2="798"><stop offset="0" stop-color="#84007b"/><stop offset=".167" stop-color="#6e0091"/><stop offset=".444" stop-color="#82007d"/><stop offset=".75" stop-color="#5700a8"/><stop offset="1" stop-color="#84007b"/></linearGradient><linearGradient id="g284" gradientUnits="userSpaceOnUse" x1="365.9" x2="798"><stop offset="0" stop-color="#5d00a2"/><stop offset=".194" stop-color="#85007a"/><stop offset=".472" stop-color="#64009b"/><stop offset=".778" stop-color="#6c0093"/><stop offset="1" stop-color="#5d00a2"/></linearGradient><linearGradient id="g285" gradientUnits="userSpaceOnUse" x1="365.9" x2="798"><stop offset="0" stop-color="#6f0090"/><stop offset=".778" stop-color="#84007b"/><stop offset="1" stop-color="#6f0090"/></linearGradient><linearGradient id="g286" gradientUnits="userSpaceOnUse" x1="365.9" x2="798"><stop offset="0" stop-color="#5100ae"/><stop offset=".139" stop-color="#4400bb"/><stop offset=".361" stop-color="#5d00a2"/><stop offset=".639" stop-color="#3200cd"/><stop offset=".861" stop-color="#5600a9"/><stop offset="1" stop-color="#5100ae"/></linearGradient><linearGradient id="g287" gradientUnits="userSpaceOnUse" x1="365.9" x2="798"><stop offset="0" stop-color="#a4005b"/><stop offset=".111" stop-color="#870078"/><stop offset=".222" stop-color="#7d0082"/><stop offset=".583" stop-color="#a5005a"/><stop offset="1" stop-color="#a4005b"/></linearGradient><linearGradient id="g288" gradientUnits="userSpaceOnUse" x1="365.9" x2="798"><stop offset="0" stop-color="#6a0095"/><stop offset=".139" stop-color="#770088"/><stop offset=".389" stop-color="#670098"/><stop offset=".611" stop-color="#84007b"/><stop offset=".861" stop-color="#660099"/><stop offset="1" stop-color="#6a0095"/></linearGradient><linearGradient id="g289" gradientUnits="userSpaceOnUse" x1="365.9" x2="798"><stop offset="0" stop-color="#8f0070"/><stop offset=".139" stop-color="#83007c"/><stop offset=".583" stop-color="#85007a"/><stop offset=".861" stop-color="#a0005f"/><stop offset="1" stop-color="#8f0070"/></linearGradient><linearGradient id="g290" gradientUnits="userSpaceOnUse" x1="365.9" x2="798"><stop offset="0" stop-color="#71008e"/><stop offset=".167" stop-color="#8e0071"/><stop offset=".417" stop-color="#690096"/><stop offset=".694" stop-color="#84007b"/><stop offset="1" stop-color="#71008e"/></linearGradient><linearGradient id="g291" gradientUnits="userSpaceOnUse" x1="365.9" x2="798"><stop offset="0" stop-color="#5400ab"/><stop offset=".139" stop-color="#5400ab"/><stop offset=".417" stop-color="#91006e"/><stop offset=".667" stop-color="#6e0091"/><stop offset="1" stop-color="#5400ab"/></linearGradient><linearGradient id="g292" gradientUnits="userSpaceOnUse" x1="365.9" x2="798"><stop offset="0" stop-color="#670098"/><stop offset=".361" stop-color="#71008e"/><stop offset=".667" stop-color="#5200ad"/><stop offset="1" stop-color="#670098"/></linearGradient><linearGradient id="g293" gradientUnits="userSpaceOnUse" x1="365.9" x2="798"><stop offset="0" stop-color="#6b0094"/><stop offset=".333" stop-color="#82007d"/><stop offset=".639" stop-color="#4c00b3"/><stop offset=".861" stop-color="#6f0090"/><stop offset="1" stop-color="#6b0094"/></linearGradient><linearGradient id="g294" gradientUnits="userSpaceOnUse" x1="365.9" x2="798"><stop offset="0" stop-color="#4e00b1"/><stop offset=".139" stop-color="#4300bc"/><stop offset=".361" stop-color="#1900e6"/><stop offset="1" stop-color="#4e00b1"/></linearGradient><linearGradient id="g295" gradientUnits="userSpaceOnUse" x1="365.9" x2="798"><stop offset="0" stop-color="#61009e"/><stop offset=".333" stop-color="#95006a"/><stop offset=".417" stop-color="#8d0072"/><stop offset=".639" stop-color="#5200ad"/><stop offset="1" stop-color="#61009e"/></linearGradient><linearGradient id="g296" gradientUnits="userSpaceOnUse" x1="365.9" x2="798"><stop offset="0" stop-color="#9a0065"/><stop offset=".528" stop-color="#9b0064"/><stop offset=".806" stop-color="#bc0043"/><stop offset="1" stop-color="#9a0065"/></linearGradient><linearGradient id="g297" gradientUnits="userSpaceOnUse" x1="365.9" x2="798"><stop offset="0" stop-color="#4e00b1"/><stop offset=".194" stop-color="#6e0091"/><stop offset=".417" stop-color="#5e00a1"/><stop offset=".667" stop-color="#660099"/><stop offset="1" stop-color="#4e00b1"/></linearGradient><linearGradient id="g298" gradientUnits="userSpaceOnUse" x1="365.9" x2="798"><stop offset="0" stop-color="#91006e"/><stop offset=".111" stop-color="#60009f"/><stop offset=".194" stop-color="#5600a9"/><stop offset=".5" stop-color="#9c0063"/><stop offset=".833" stop-color="#a2005d"/><stop offset="1" stop-color="#91006e"/></linearGradient><linearGradient id="g299" gradientUnits="userSpaceOnUse" x1="365.9" x2="798"><stop offset="0" stop-color="#74008b"/><stop offset=".139" stop-color="#9f0060"/><stop offset=".25" stop-color="#ab0054"/><stop offset=".833" stop-color="#8a0075"/><stop offset="1" stop-color="#74008b"/></linearGradient><linearGradient id="g300" gradientUnits="userSpaceOnUse" x1="365.9" x2="798"><stop offset="0" stop-color="#6d0092"/><stop offset=".25" stop-color="#4d00b2"/><stop offset=".556" stop-color="#5100ae"/><stop offset=".833" stop-color="#6f0090"/><stop offset="1" stop-color="#6d0092"/></linearGradient><linearGradient id="g301" gradientUnits="userSpaceOnUse" x1="365.9" x2="798"><stop offset="0" stop-color="#7f0080"/><stop offset=".361" stop-color="#4e00b1"/><stop offset=".667" stop-color="#73008c"/><stop offset="1" stop-color="#7f0080"/></linearGradient><linearGradient id="g302" gradientUnits="userSpaceOnUse" x1="365.9" x2="798"><stop offset="0" stop-color="#5a00a5"/><stop offset=".139" stop-color="#4f00b0"/><stop offset=".389" stop-color="#6e0091"/><stop offset=".667" stop-color="#4000bf"/><stop offset="1" stop-color="#5a00a5"/></linearGradient><linearGradient id="g303" gradientUnits="userSpaceOnUse" x1="365.9" x2="798"><stop offset="0" stop-color="#4300bc"/><stop offset=".194" stop-color="#1e00e1"/><stop offset=".5" stop-color="#1900e6"/><stop offset=".75" stop-color="#1b00e4"/><stop offset="1" stop-color="#4300bc"/></linearGradient><linearGradient id="g304" gradientUnits="userSpaceOnUse" x1="365.9" x2="798"><stop offset="0" stop-color="#2a00d5"/><stop offset=".25" stop-color="#3700c8"/><stop offset=".75" stop-color="#2000df"/><stop offset="1" stop-color="#2a00d5"/></linearGradient><linearGradient id="g305" gradientUnits="userSpaceOnUse" x1="365.9" x2="798"><stop offset="0" stop-color="#4e00b1"/><stop offset=".167" stop-color="#4300bc"/><stop offset=".611" stop-color="#4400bb"/><stop offset=".861" stop-color="#5700a8"/><stop offset="1" stop-color="#4e00b1"/></linearGradient><linearGradient id="g306" gradientUnits="userSpaceOnUse" x1="365.9" x2="798"><stop offset="0" stop-color="#65009a"/><stop offset=".333" stop-color="#780087"/><stop offset=".75" stop-color="#3900c6"/><stop offset=".861" stop-color="#4300bc"/><stop offset="1" stop-color="#65009a"/></linearGradient><linearGradient id="g307" gradientUnits="userSpaceOnUse" x1="365.9" x2="798"><stop offset="0" stop-color="#6d0092"/><stop offset=".222" stop-color="#8c0073"/><stop offset=".583" stop-color="#5a00a5"/><stop offset="1" stop-color="#6d0092"/></linearGradient><linearGradient id="g308" gradientUnits="userSpaceOnUse" x1="365.9" x2="798"><stop offset="0" stop-color="#3800c7"/><stop offset=".389" stop-color="#1900e6"/><stop offset=".556" stop-color="#1a00e5"/><stop offset=".833" stop-color="#3d00c2"/><stop offset="1" stop-color="#3800c7"/></linearGradient><linearGradient id="g309" gradientUnits="userSpaceOnUse" x1="365.9" x2="798"><stop offset="0" stop-color="#1e00e1"/><stop offset=".417" stop-color="#3600c9"/><stop offset="1" stop-color="#1e00e1"/></linearGradient><linearGradient id="g310" gradientUnits="userSpaceOnUse" x1="365.9" x2="798"><stop offset="0" stop-color="#4800b7"/><stop offset=".139" stop-color="#5d00a2"/><stop offset=".389" stop-color="#4c00b3"/><stop offset=".694" stop-color="#7f0080"/><stop offset="1" stop-color="#4800b7"/></linearGradient><linearGradient id="g311" gradientUnits="userSpaceOnUse" x1="365.9" x2="798"><stop offset="0" stop-color="#7c0083"/><stop offset=".167" stop-color="#71008e"/><stop offset=".361" stop-color="#9c0063"/><stop offset=".472" stop-color="#a5005a"/><stop offset=".833" stop-color="#9c0063"/><stop offset="1" stop-color="#7c0083"/></linearGradient><linearGradient id="g312" gradientUnits="userSpaceOnUse" x1="365.9" x2="798"><stop offset="0" stop-color="#73008c"/><stop offset=".139" stop-color="#7c0083"/><stop offset=".389" stop-color="#4b00b4"/><stop offset=".611" stop-color="#6d0092"/><stop offset=".861" stop-color="#5a00a5"/><stop offset="1" stop-color="#73008c"/></linearGradient><linearGradient id="g313" gradientUnits="userSpaceOnUse" x1="365.9" x2="798"><stop offset="0" stop-color="#1e00e1"/><stop offset=".333" stop-color="#1900e6"/><stop offset=".556" stop-color="#2c00d3"/><stop offset=".75" stop-color="#1900e6"/><stop offset="1" stop-color="#1e00e1"/></linearGradient><linearGradient id="g314" gradientUnits="userSpaceOnUse" x1="365.9" x2="798"><stop offset="0" stop-color="#4b00b4"/><stop offset=".167" stop-color="#3400cb"/><stop offset=".389" stop-color="#4000bf"/><stop offset=".639" stop-color="#3700c8"/><stop offset="1" stop-color="#4b00b4"/></linearGradient><linearGradient id="g315" gradientUnits="userSpaceOnUse" x1="365.9" x2="798"><stop offset="0" stop-color="#8d0072"/><stop offset=".167" stop-color="#5e00a1"/><stop offset=".444" stop-color="#680097"/><stop offset=".694" stop-color="#5500aa"/><stop offset=".833" stop-color="#64009b"/><stop offset="1" stop-color="#8d0072"/></linearGradient><linearGradient id="g316" gradientUnits="userSpaceOnUse" x1="365.9" x2="798"><stop offset="0" stop-color="#5400ab"/><stop offset=".806" stop-color="#3d00c2"/><stop offset="1" stop-color="#5400ab"/></linearGradient><linearGradient id="g317" gradientUnits="userSpaceOnUse" x1="365.9" x2="798"><stop offset="0" stop-color="#7a0085"/><stop offset=".139" stop-color="#870078"/><stop offset=".556" stop-color="#82007d"/><stop offset=".833" stop-color="#61009e"/><stop offset="1" stop-color="#7a0085"/></linearGradient><linearGradient id="g318" gradientUnits="userSpaceOnUse" x1="365.9" x2="798"><stop offset="0" stop-color="#670098"/><stop offset=".139" stop-color="#690096"/><stop offset=".389" stop-color="#3400cb"/><stop offset=".639" stop-color="#5500aa"/><stop offset=".889" stop-color="#5200ad"/><stop offset="1" stop-color="#670098"/></linearGradient><linearGradient id="g319" gradientUnits="userSpaceOnUse" x1="365.9" x2="798"><stop offset="0" stop-color="#62009d"/><stop offset=".361" stop-color="#4b00b4"/><stop offset=".639" stop-color="#62009d"/><stop offset="1" stop-color="#62009d"/></linearGradient><linearGradient id="g320" gradientUnits="userSpaceOnUse" x1="365.9" x2="798"><stop offset="0" stop-color="#6a0095"/><stop offset=".25" stop-color="#5300ac"/><stop offset=".556" stop-color="#73008c"/><stop offset=".833" stop-color="#5d00a2"/><stop offset="1" stop-color="#6a0095"/></linearGradient><linearGradient id="g321" gradientUnits="userSpaceOnUse" x1="365.9" x2="798"><stop offset="0" stop-color="#3f00c0"/><stop offset=".194" stop-color="#3400cb"/><stop offset=".556" stop-color="#5d00a2"/><stop offset="1" stop-color="#3f00c0"/></linearGradient><linearGradient id="g322" gradientUnits="userSpaceOnUse" x1="365.9" x2="798"><stop offset="0" stop-color="#5400ab"/><stop offset=".194" stop-color="#5d00a2"/><stop offset=".806" stop-color="#3800c7"/><stop offset="1" stop-color="#5400ab"/></linearGradient><linearGradient id="g323" gradientUnits="userSpaceOnUse" x1="365.9" x2="798"><stop offset="0" stop-color="#660099"/><stop offset=".667" stop-color="#8e0071"/><stop offset="1" stop-color="#660099"/></linearGradient><linearGradient id="g324" gradientUnits="userSpaceOnUse" x1="365.9" x2="798"><stop offset="0" stop-color="#4300bc"/><stop offset=".111" stop-color="#660099"/><stop offset=".194" stop-color="#6f0090"/><stop offset=".611" stop-color="#5300ac"/><stop offset=".833" stop-color="#3500ca"/><stop offset="1" stop-color="#4300bc"/></linearGradient><linearGradient id="g325" gradientUnits="userSpaceOnUse" x1="365.9" x2="798"><stop offset="0" stop-color="#3500ca"/><stop offset=".111" stop-color="#1900e6"/><stop offset=".222" stop-color="#1a00e5"/><stop offset=".389" stop-color="#3700c8"/><stop offset=".639" stop-color="#1d00e2"/><stop offset=".889" stop-color="#3700c8"/><stop offset="1" stop-color="#3500ca"/></linearGradient><linearGradient id="g326" gradientUnits="userSpaceOnUse" x1="365.9" x2="798"><stop offset="0" stop-color="#8a0075"/><stop offset=".167" stop-color="#7c0083"/><stop offset=".444" stop-color="#a70058"/><stop offset=".861" stop-color="#9b0064"/><stop offset="1" stop-color="#8a0075"/></linearGradient><linearGradient id="g327" gradientUnits="userSpaceOnUse" x1="365.9" x2="798"><stop offset="0" stop-color="#5a00a5"/><stop offset=".139" stop-color="#65009a"/><stop offset=".361" stop-color="#3700c8"/><stop offset=".611" stop-color="#5100ae"/><stop offset=".833" stop-color="#3600c9"/><stop offset=".917" stop-color="#3f00c0"/><stop offset="1" stop-color="#5a00a5"/></linearGradient><linearGradient id="g328" gradientUnits="userSpaceOnUse" x1="365.9" x2="798"><stop offset="0" stop-color="#73008c"/><stop offset=".139" stop-color="#7d0082"/><stop offset=".389" stop-color="#5a00a5"/><stop offset=".667" stop-color="#7f0080"/><stop offset="1" stop-color="#73008c"/></linearGradient><linearGradient id="g329" gradientUnits="userSpaceOnUse" x1="365.9" x2="798"><stop offset="0" stop-color="#5800a7"/><stop offset=".389" stop-color="#7e0081"/><stop offset=".694" stop-color="#5400ab"/><stop offset="1" stop-color="#5800a7"/></linearGradient><linearGradient id="g330" gradientUnits="userSpaceOnUse" x1="365.9" x2="798"><stop offset="0" stop-color="#3b00c4"/><stop offset=".139" stop-color="#5e00a1"/><stop offset=".389" stop-color="#4f00b0"/><stop offset=".611" stop-color="#6b0094"/><stop offset=".889" stop-color="#3d00c2"/><stop offset="1" stop-color="#3b00c4"/></linearGradient><linearGradient id="g331" gradientUnits="userSpaceOnUse" x1="365.9" x2="798"><stop offset="0" stop-color="#91006e"/><stop offset=".361" stop-color="#ba0045"/><stop offset=".611" stop-color="#980067"/><stop offset=".861" stop-color="#a4005b"/><stop offset="1" stop-color="#91006e"/></linearGradient><linearGradient id="g332" gradientUnits="userSpaceOnUse" x1="365.9" x2="798"><stop offset="0" stop-color="#61009e"/><stop offset=".139" stop-color="#5700a8"/><stop offset=".417" stop-color="#2400db"/><stop offset=".694" stop-color="#4d00b2"/><stop offset="1" stop-color="#61009e"/></linearGradient><linearGradient id="g333" gradientUnits="userSpaceOnUse" x1="365.9" x2="798"><stop offset="0" stop-color="#4e00b1"/><stop offset=".167" stop-color="#62009d"/><stop offset=".722" stop-color="#74008b"/><stop offset="1" stop-color="#4e00b1"/></linearGradient><linearGradient id="g334" gradientUnits="userSpaceOnUse" x1="365.9" x2="798"><stop offset="0" stop-color="#61009e"/><stop offset=".139" stop-color="#5c00a3"/><stop offset=".778" stop-color="#83007c"/><stop offset="1" stop-color="#61009e"/></linearGradient><linearGradient id="g335" gradientUnits="userSpaceOnUse" x1="365.9" x2="798"><stop offset="0" stop-color="#4e00b1"/><stop offset=".361" stop-color="#70008f"/><stop offset=".611" stop-color="#5200ad"/><stop offset=".861" stop-color="#5c00a3"/><stop offset="1" stop-color="#4e00b1"/></linearGradient><linearGradient id="g336" gradientUnits="userSpaceOnUse" x1="365.9" x2="798"><stop offset="0" stop-color="#74008b"/><stop offset=".25" stop-color="#5300ac"/><stop offset=".583" stop-color="#780087"/><stop offset=".833" stop-color="#660099"/><stop offset="1" stop-color="#74008b"/></linearGradient><linearGradient id="g337" gradientUnits="userSpaceOnUse" x1="365.9" x2="798"><stop offset="0" stop-color="#3b00c4"/><stop offset=".139" stop-color="#2a00d5"/><stop offset=".556" stop-color="#1c00e3"/><stop offset=".833" stop-color="#5300ac"/><stop offset="1" stop-color="#3b00c4"/></linearGradient><linearGradient id="g338" gradientUnits="userSpaceOnUse" x1="365.9" x2="798"><stop offset="0" stop-color="#4e00b1"/><stop offset=".167" stop-color="#660099"/><stop offset=".639" stop-color="#6c0093"/><stop offset="1" stop-color="#4e00b1"/></linearGradient><linearGradient id="g339" gradientUnits="userSpaceOnUse" x1="365.9" x2="798"><stop offset="0" stop-color="#9a0065"/><stop offset=".278" stop-color="#9f0060"/><stop offset=".556" stop-color="#c70038"/><stop offset=".722" stop-color="#c60039"/><stop offset="1" stop-color="#9a0065"/></linearGradient><linearGradient id="g340" gradientUnits="userSpaceOnUse" x1="365.9" x2="798"><stop offset="0" stop-color="#61009e"/><stop offset=".139" stop-color="#5400ab"/><stop offset=".417" stop-color="#63009c"/><stop offset=".722" stop-color="#4600b9"/><stop offset="1" stop-color="#61009e"/></linearGradient><linearGradient id="g341" gradientUnits="userSpaceOnUse" x1="365.9" x2="798"><stop offset="0" stop-color="#3b00c4"/><stop offset=".361" stop-color="#1f00e0"/><stop offset=".639" stop-color="#4500ba"/><stop offset="1" stop-color="#3b00c4"/></linearGradient><linearGradient id="g342" gradientUnits="userSpaceOnUse" x1="365.9" x2="798"><stop offset="0" stop-color="#4e00b1"/><stop offset=".194" stop-color="#3600c9"/><stop offset=".5" stop-color="#3400cb"/><stop offset=".778" stop-color="#1b00e4"/><stop offset=".889" stop-color="#2a00d5"/><stop offset="1" stop-color="#4e00b1"/></linearGradient><linearGradient id="g343" gradientUnits="userSpaceOnUse" x1="365.9" x2="798"><stop offset="0" stop-color="#3100ce"/><stop offset=".472" stop-color="#1900e6"/><stop offset=".667" stop-color="#1900e6"/><stop offset=".861" stop-color="#3b00c4"/><stop offset="1" stop-color="#3100ce"/></linearGradient><linearGradient id="g344" gradientUnits="userSpaceOnUse" x1="365.9" x2="798"><stop offset="0" stop-color="#4e00b1"/><stop offset=".361" stop-color="#1a00e5"/><stop offset=".833" stop-color="#3200cd"/><stop offset="1" stop-color="#4e00b1"/></linearGradient><linearGradient id="g345" gradientUnits="userSpaceOnUse" x1="365.9" x2="798"><stop offset="0" stop-color="#61009e"/><stop offset=".361" stop-color="#4900b6"/><stop offset=".639" stop-color="#61009e"/><stop offset="1" stop-color="#61009e"/></linearGradient><linearGradient id="g346" gradientUnits="userSpaceOnUse" x1="365.9" x2="798"><stop offset="0" stop-color="#4e00b1"/><stop offset=".167" stop-color="#3100ce"/><stop offset=".5" stop-color="#62009d"/><stop offset="1" stop-color="#4e00b1"/></linearGradient><linearGradient id="g347" gradientUnits="userSpaceOnUse" x1="365.9" x2="798"><stop offset="0" stop-color="#5700a8"/><stop offset=".083" stop-color="#7e0081"/><stop offset=".167" stop-color="#8c0073"/><stop offset=".389" stop-color="#5f00a0"/><stop offset=".639" stop-color="#780087"/><stop offset=".861" stop-color="#5500aa"/><stop offset="1" stop-color="#5700a8"/></linearGradient><linearGradient id="g348" gradientUnits="userSpaceOnUse" x1="365.9" x2="798"><stop offset="0" stop-color="#74008b"/><stop offset=".139" stop-color="#7a0085"/><stop offset=".389" stop-color="#5e00a1"/><stop offset=".611" stop-color="#6a0095"/><stop offset=".833" stop-color="#5900a6"/><stop offset="1" stop-color="#74008b"/></linearGradient><linearGradient id="g349" gradientUnits="userSpaceOnUse" x1="365.9" x2="798"><stop offset="0" stop-color="#61009e"/><stop offset=".25" stop-color="#7b0084"/><stop offset="1" stop-color="#61009e"/></linearGradient><linearGradient id="g350" gradientUnits="userSpaceOnUse" x1="365.9" x2="798"><stop offset="0" stop-color="#61009e"/><stop offset=".167" stop-color="#72008d"/><stop offset=".444" stop-color="#4900b6"/><stop offset=".722" stop-color="#64009b"/><stop offset="1" stop-color="#61009e"/></linearGradient><linearGradient id="g351" gradientUnits="userSpaceOnUse" x1="798" x2="1329.9"><stop offset="0" stop-color="#a90056"/><stop offset=".159" stop-color="#b0004f"/><stop offset=".455" stop-color="#8a0075"/><stop offset=".841" stop-color="#960069"/><stop offset="1" stop-color="#a90056"/></linearGradient><linearGradient id="g352" gradientUnits="userSpaceOnUse" x1="798" x2="1329.9"><stop offset="0" stop-color="#8c0073"/><stop offset=".409" stop-color="#6e0091"/><stop offset="1" stop-color="#8c0073"/></linearGradient><linearGradient id="g353" gradientUnits="userSpaceOnUse" x1="798" x2="1329.9"><stop offset="0" stop-color="#bb0044"/><stop offset=".182" stop-color="#ae0051"/><stop offset=".477" stop-color="#b70048"/><stop offset=".773" stop-color="#93006c"/><stop offset=".864" stop-color="#9a0065"/><stop offset="1" stop-color="#bb0044"/></linearGradient><linearGradient id="g354" gradientUnits="userSpaceOnUse" x1="798" x2="1329.9"><stop offset="0" stop-color="#63009c"/><stop offset=".182" stop-color="#5000af"/><stop offset="1" stop-color="#63009c"/></linearGradient><linearGradient id="g355" gradientUnits="userSpaceOnUse" x1="798" x2="1329.9"><stop offset="0" stop-color="#75008a"/><stop offset=".159" stop-color="#5e00a1"/><stop offset=".386" stop-color="#72008d"/><stop offset=".659" stop-color="#61009e"/><stop offset="1" stop-color="#75008a"/></linearGradient><linearGradient id="g356" gradientUnits="userSpaceOnUse" x1="798" x2="1329.9"><stop offset="0" stop-color="#a4005b"/><stop offset=".136" stop-color="#a70058"/><stop offset=".318" stop-color="#6d0092"/><stop offset=".409" stop-color="#5f00a0"/><stop offset=".636" stop-color="#83007c"/><stop offset=".864" stop-color="#7e0081"/><stop offset="1" stop-color="#a4005b"/></linearGradient><linearGradient id="g357" gradientUnits="userSpaceOnUse" x1="798" x2="1329.9"><stop offset="0" stop-color="#5e00a1"/><stop offset=".273" stop-color="#65009a"/><stop offset=".614" stop-color="#9b0064"/><stop offset="1" stop-color="#5e00a1"/></linearGradient><linearGradient id="g358" gradientUnits="userSpaceOnUse" x1="798" x2="1329.9"><stop offset="0" stop-color="#84007b"/><stop offset=".386" stop-color="#8e0071"/><stop offset=".75" stop-color="#74008b"/><stop offset="1" stop-color="#84007b"/></linearGradient><linearGradient id="g359" gradientUnits="userSpaceOnUse" x1="798" x2="1329.9"><stop offset="0" stop-color="#5d00a2"/><stop offset=".318" stop-color="#860079"/><stop offset=".636" stop-color="#64009b"/><stop offset="1" stop-color="#5d00a2"/></linearGradient><linearGradient id="g360" gradientUnits="userSpaceOnUse" x1="798" x2="1329.9"><stop offset="0" stop-color="#6f0090"/><stop offset=".159" stop-color="#880077"/><stop offset=".386" stop-color="#790086"/><stop offset=".636" stop-color="#83007c"/><stop offset=".864" stop-color="#670098"/><stop offset="1" stop-color="#6f0090"/></linearGradient><linearGradient id="g361" gradientUnits="userSpaceOnUse" x1="798" x2="1329.9"><stop offset="0" stop-color="#5100ae"/><stop offset=".205" stop-color="#4000bf"/><stop offset=".568" stop-color="#5700a8"/><stop offset="1" stop-color="#5100ae"/></linearGradient><linearGradient id="g362" gradientUnits="userSpaceOnUse" x1="798" x2="1329.9"><stop offset="0" stop-color="#a4005b"/><stop offset=".091" stop-color="#c70038"/><stop offset=".25" stop-color="#c60039"/><stop offset=".409" stop-color="#990066"/><stop offset=".477" stop-color="#9c0063"/><stop offset=".636" stop-color="#c70038"/><stop offset=".818" stop-color="#c70038"/><stop offset="1" stop-color="#a4005b"/></linearGradient><linearGradient id="g363" gradientUnits="userSpaceOnUse" x1="798" x2="1329.9"><stop offset="0" stop-color="#6a0095"/><stop offset=".341" stop-color="#5600a9"/><stop offset=".727" stop-color="#780087"/><stop offset="1" stop-color="#6a0095"/></linearGradient><linearGradient id="g364" gradientUnits="userSpaceOnUse" x1="798" x2="1329.9"><stop offset="0" stop-color="#8f0070"/><stop offset=".318" stop-color="#85007a"/><stop offset=".682" stop-color="#a80057"/><stop offset="1" stop-color="#8f0070"/></linearGradient><linearGradient id="g365" gradientUnits="userSpaceOnUse" x1="798" x2="1329.9"><stop offset="0" stop-color="#71008e"/><stop offset=".136" stop-color="#680097"/><stop offset=".386" stop-color="#870078"/><stop offset=".614" stop-color="#72008d"/><stop offset=".864" stop-color="#7f0080"/><stop offset="1" stop-color="#71008e"/></linearGradient><linearGradient id="g366" gradientUnits="userSpaceOnUse" x1="798" x2="1329.9"><stop offset="0" stop-color="#5400ab"/><stop offset=".136" stop-color="#72008d"/><stop offset=".386" stop-color="#5700a8"/><stop offset=".614" stop-color="#7a0085"/><stop offset=".864" stop-color="#4b00b4"/><stop offset="1" stop-color="#5400ab"/></linearGradient><linearGradient id="g367" gradientUnits="userSpaceOnUse" x1="798" x2="1329.9"><stop offset="0" stop-color="#670098"/><stop offset=".159" stop-color="#60009f"/><stop offset=".409" stop-color="#7d0082"/><stop offset=".705" stop-color="#5f00a0"/><stop offset="1" stop-color="#670098"/></linearGradient><linearGradient id="g368" gradientUnits="userSpaceOnUse" x1="798" x2="1329.9"><stop offset="0" stop-color="#4e00b1"/><stop offset=".136" stop-color="#4a00b5"/><stop offset=".409" stop-color="#2400db"/><stop offset="1" stop-color="#4e00b1"/></linearGradient><linearGradient id="g369" gradientUnits="userSpaceOnUse" x1="798" x2="1329.9"><stop offset="0" stop-color="#61009e"/><stop offset=".159" stop-color="#7d0082"/><stop offset=".273" stop-color="#80007f"/><stop offset=".773" stop-color="#3200cd"/><stop offset=".864" stop-color="#3b00c4"/><stop offset="1" stop-color="#61009e"/></linearGradient><linearGradient id="g370" gradientUnits="userSpaceOnUse" x1="798" x2="1329.9"><stop offset="0" stop-color="#9a0065"/><stop offset=".182" stop-color="#bc0043"/><stop offset=".568" stop-color="#8f0070"/><stop offset=".818" stop-color="#880077"/><stop offset="1" stop-color="#9a0065"/></linearGradient><linearGradient id="g371" gradientUnits="userSpaceOnUse" x1="798" x2="1329.9"><stop offset="0" stop-color="#4e00b1"/><stop offset=".159" stop-color="#2b00d4"/><stop offset=".432" stop-color="#5500aa"/><stop offset=".75" stop-color="#3400cb"/><stop offset="1" stop-color="#4e00b1"/></linearGradient><linearGradient id="g372" gradientUnits="userSpaceOnUse" x1="798" x2="1329.9"><stop offset="0" stop-color="#91006e"/><stop offset=".114" stop-color="#70008f"/><stop offset=".205" stop-color="#660099"/><stop offset=".568" stop-color="#990066"/><stop offset="1" stop-color="#91006e"/></linearGradient><linearGradient id="g373" gradientUnits="userSpaceOnUse" x1="798" x2="1329.9"><stop offset="0" stop-color="#74008b"/><stop offset=".273" stop-color="#5a00a5"/><stop offset="1" stop-color="#74008b"/></linearGradient><linearGradient id="g374" gradientUnits="userSpaceOnUse" x1="798" x2="1329.9"><stop offset="0" stop-color="#6d0092"/><stop offset=".545" stop-color="#60009f"/><stop offset="1" stop-color="#6d0092"/></linearGradient><linearGradient id="g375" gradientUnits="userSpaceOnUse" x1="798" x2="1329.9"><stop offset="0" stop-color="#7f0080"/><stop offset=".114" stop-color="#5600a9"/><stop offset=".205" stop-color="#4c00b3"/><stop offset=".477" stop-color="#74008b"/><stop offset=".75" stop-color="#6e0091"/><stop offset="1" stop-color="#7f0080"/></linearGradient><linearGradient id="g376" gradientUnits="userSpaceOnUse" x1="798" x2="1329.9"><stop offset="0" stop-color="#4300bc"/><stop offset=".205" stop-color="#3900c6"/><stop offset=".545" stop-color="#4a00b5"/><stop offset="1" stop-color="#4300bc"/></linearGradient><linearGradient id="g377" gradientUnits="userSpaceOnUse" x1="798" x2="1329.9"><stop offset="0" stop-color="#2a00d5"/><stop offset=".045" stop-color="#1900e6"/><stop offset=".364" stop-color="#1900e6"/><stop offset=".523" stop-color="#3400cb"/><stop offset=".682" stop-color="#1900e6"/><stop offset=".955" stop-color="#1900e6"/><stop offset="1" stop-color="#2a00d5"/></linearGradient><linearGradient id="g378" gradientUnits="userSpaceOnUse" x1="798" x2="1329.9"><stop offset="0" stop-color="#4e00b1"/><stop offset=".205" stop-color="#5e00a1"/><stop offset=".545" stop-color="#2800d7"/><stop offset=".841" stop-color="#5200ad"/><stop offset="1" stop-color="#4e00b1"/></linearGradient><linearGradient id="g379" gradientUnits="userSpaceOnUse" x1="798" x2="1329.9"><stop offset="0" stop-color="#65009a"/><stop offset=".182" stop-color="#5000af"/><stop offset=".5" stop-color="#670098"/><stop offset="1" stop-color="#65009a"/></linearGradient><linearGradient id="g380" gradientUnits="userSpaceOnUse" x1="798" x2="1329.9"><stop offset="0" stop-color="#6d0092"/><stop offset=".182" stop-color="#4e00b1"/><stop offset=".636" stop-color="#3400cb"/><stop offset="1" stop-color="#6d0092"/></linearGradient><linearGradient id="g381" gradientUnits="userSpaceOnUse" x1="798" x2="1329.9"><stop offset="0" stop-color="#3800c7"/><stop offset=".159" stop-color="#3700c8"/><stop offset=".341" stop-color="#1900e6"/><stop offset=".614" stop-color="#1900e6"/><stop offset="1" stop-color="#3800c7"/></linearGradient><linearGradient id="g382" gradientUnits="userSpaceOnUse" x1="798" x2="1329.9"><stop offset="0" stop-color="#1e00e1"/><stop offset=".364" stop-color="#1a00e5"/><stop offset=".568" stop-color="#2f00d0"/><stop offset=".841" stop-color="#1a00e5"/><stop offset="1" stop-color="#1e00e1"/></linearGradient><linearGradient id="g383" gradientUnits="userSpaceOnUse" x1="798" x2="1329.9"><stop offset="0" stop-color="#4800b7"/><stop offset=".114" stop-color="#2d00d2"/><stop offset=".227" stop-color="#2300dc"/><stop offset=".636" stop-color="#5500aa"/><stop offset="1" stop-color="#4800b7"/></linearGradient><linearGradient id="g384" gradientUnits="userSpaceOnUse" x1="798" x2="1329.9"><stop offset="0" stop-color="#7c0083"/><stop offset=".386" stop-color="#a2005d"/><stop offset=".614" stop-color="#93006c"/><stop offset=".841" stop-color="#980067"/><stop offset="1" stop-color="#7c0083"/></linearGradient><linearGradient id="g385" gradientUnits="userSpaceOnUse" x1="798" x2="1329.9"><stop offset="0" stop-color="#73008c"/><stop offset=".159" stop-color="#880077"/><stop offset=".477" stop-color="#65009a"/><stop offset=".773" stop-color="#7b0084"/><stop offset="1" stop-color="#73008c"/></linearGradient><linearGradient id="g386" gradientUnits="userSpaceOnUse" x1="798" x2="1329.9"><stop offset="0" stop-color="#1e00e1"/><stop offset=".409" stop-color="#4900b6"/><stop offset=".841" stop-color="#3300cc"/><stop offset="1" stop-color="#1e00e1"/></linearGradient><linearGradient id="g387" gradientUnits="userSpaceOnUse" x1="798" x2="1329.9"><stop offset="0" stop-color="#4b00b4"/><stop offset=".523" stop-color="#4000bf"/><stop offset="1" stop-color="#4b00b4"/></linearGradient><linearGradient id="g388" gradientUnits="userSpaceOnUse" x1="798" x2="1329.9"><stop offset="0" stop-color="#8d0072"/><stop offset=".205" stop-color="#a70058"/><stop offset=".455" stop-color="#980067"/><stop offset=".773" stop-color="#a2005d"/><stop offset="1" stop-color="#8d0072"/></linearGradient><linearGradient id="g389" gradientUnits="userSpaceOnUse" x1="798" x2="1329.9"><stop offset="0" stop-color="#5400ab"/><stop offset=".364" stop-color="#2000df"/><stop offset=".591" stop-color="#3700c8"/><stop offset=".841" stop-color="#2a00d5"/><stop offset="1" stop-color="#5400ab"/></linearGradient><linearGradient id="g390" gradientUnits="userSpaceOnUse" x1="798" x2="1329.9"><stop offset="0" stop-color="#7a0085"/><stop offset=".227" stop-color="#870078"/><stop offset=".545" stop-color="#780087"/><stop offset=".818" stop-color="#990066"/><stop offset="1" stop-color="#7a0085"/></linearGradient><linearGradient id="g391" gradientUnits="userSpaceOnUse" x1="798" x2="1329.9"><stop offset="0" stop-color="#670098"/><stop offset=".159" stop-color="#4700b8"/><stop offset=".386" stop-color="#660099"/><stop offset=".636" stop-color="#5000af"/><stop offset=".864" stop-color="#680097"/><stop offset="1" stop-color="#670098"/></linearGradient><linearGradient id="g392" gradientUnits="userSpaceOnUse" x1="798" x2="1329.9"><stop offset="0" stop-color="#62009d"/><stop offset=".341" stop-color="#3e00c1"/><stop offset=".659" stop-color="#6d0092"/><stop offset="1" stop-color="#62009d"/></linearGradient><linearGradient id="g393" gradientUnits="userSpaceOnUse" x1="798" x2="1329.9"><stop offset="0" stop-color="#6a0095"/><stop offset=".477" stop-color="#74008b"/><stop offset=".795" stop-color="#a80057"/><stop offset=".886" stop-color="#9b0064"/><stop offset="1" stop-color="#6a0095"/></linearGradient><linearGradient id="g394" gradientUnits="userSpaceOnUse" x1="798" x2="1329.9"><stop offset="0" stop-color="#3f00c0"/><stop offset=".205" stop-color="#1900e6"/><stop offset=".705" stop-color="#1900e6"/><stop offset=".864" stop-color="#3600c9"/><stop offset="1" stop-color="#3f00c0"/></linearGradient><linearGradient id="g395" gradientUnits="userSpaceOnUse" x1="798" x2="1329.9"><stop offset="0" stop-color="#5400ab"/><stop offset=".25" stop-color="#61009e"/><stop offset="1" stop-color="#5400ab"/></linearGradient><linearGradient id="g396" gradientUnits="userSpaceOnUse" x1="798" x2="1329.9"><stop offset="0" stop-color="#660099"/><stop offset=".409" stop-color="#4f00b0"/><stop offset=".773" stop-color="#83007c"/><stop offset="1" stop-color="#660099"/></linearGradient><linearGradient id="g397" gradientUnits="userSpaceOnUse" x1="798" x2="1329.9"><stop offset="0" stop-color="#4300bc"/><stop offset=".091" stop-color="#6c0093"/><stop offset=".182" stop-color="#7a0085"/><stop offset=".432" stop-color="#5600a9"/><stop offset=".727" stop-color="#75008a"/><stop offset="1" stop-color="#4300bc"/></linearGradient><linearGradient id="g398" gradientUnits="userSpaceOnUse" x1="798" x2="1329.9"><stop offset="0" stop-color="#3500ca"/><stop offset=".136" stop-color="#1900e6"/><stop offset=".318" stop-color="#1900e6"/><stop offset=".523" stop-color="#2d00d2"/><stop offset=".818" stop-color="#2400db"/><stop offset="1" stop-color="#3500ca"/></linearGradient><linearGradient id="g399" gradientUnits="userSpaceOnUse" x1="798" x2="1329.9"><stop offset="0" stop-color="#8a0075"/><stop offset=".386" stop-color="#5900a6"/><stop offset=".636" stop-color="#780087"/><stop offset=".864" stop-color="#790086"/><stop offset="1" stop-color="#8a0075"/></linearGradient><linearGradient id="g400" gradientUnits="userSpaceOnUse" x1="798" x2="1329.9"><stop offset="0" stop-color="#5a00a5"/><stop offset=".25" stop-color="#770088"/><stop offset=".636" stop-color="#880077"/><stop offset=".795" stop-color="#80007f"/><stop offset="1" stop-color="#5a00a5"/></linearGradient><linearGradient id="g401" gradientUnits="userSpaceOnUse" x1="798" x2="1329.9"><stop offset="0" stop-color="#73008c"/><stop offset=".318" stop-color="#9d0062"/><stop offset=".659" stop-color="#70008f"/><stop offset="1" stop-color="#73008c"/></linearGradient><linearGradient id="g402" gradientUnits="userSpaceOnUse" x1="798" x2="1329.9"><stop offset="0" stop-color="#5800a7"/><stop offset=".341" stop-color="#4700b8"/><stop offset=".659" stop-color="#7d0082"/><stop offset="1" stop-color="#5800a7"/></linearGradient><linearGradient id="g403" gradientUnits="userSpaceOnUse" x1="798" x2="1329.9"><stop offset="0" stop-color="#3b00c4"/><stop offset=".523" stop-color="#3d00c2"/><stop offset=".818" stop-color="#5500aa"/><stop offset="1" stop-color="#3b00c4"/></linearGradient><linearGradient id="g404" gradientUnits="userSpaceOnUse" x1="798" x2="1329.9"><stop offset="0" stop-color="#91006e"/><stop offset=".114" stop-color="#6e0091"/><stop offset=".227" stop-color="#64009b"/><stop offset=".818" stop-color="#a1005e"/><stop offset="1" stop-color="#91006e"/></linearGradient><linearGradient id="g405" gradientUnits="userSpaceOnUse" x1="798" x2="1329.9"><stop offset="0" stop-color="#61009e"/><stop offset=".136" stop-color="#5700a8"/><stop offset=".386" stop-color="#7a0085"/><stop offset=".614" stop-color="#3e00c1"/><stop offset=".705" stop-color="#3500ca"/><stop offset="1" stop-color="#61009e"/></linearGradient><linearGradient id="g406" gradientUnits="userSpaceOnUse" x1="798" x2="1329.9"><stop offset="0" stop-color="#4e00b1"/><stop offset=".182" stop-color="#72008d"/><stop offset=".659" stop-color="#84007b"/><stop offset=".795" stop-color="#780087"/><stop offset="1" stop-color="#4e00b1"/></linearGradient><linearGradient id="g407" gradientUnits="userSpaceOnUse" x1="798" x2="1329.9"><stop offset="0" stop-color="#61009e"/><stop offset=".159" stop-color="#770088"/><stop offset=".409" stop-color="#5e00a1"/><stop offset=".614" stop-color="#6a0095"/><stop offset=".864" stop-color="#5800a7"/><stop offset="1" stop-color="#61009e"/></linearGradient><linearGradient id="g408" gradientUnits="userSpaceOnUse" x1="798" x2="1329.9"><stop offset="0" stop-color="#4e00b1"/><stop offset=".159" stop-color="#75008a"/><stop offset=".386" stop-color="#5500aa"/><stop offset=".682" stop-color="#6e0091"/><stop offset="1" stop-color="#4e00b1"/></linearGradient><linearGradient id="g409" gradientUnits="userSpaceOnUse" x1="798" x2="1329.9"><stop offset="0" stop-color="#74008b"/><stop offset=".318" stop-color="#690096"/><stop offset=".636" stop-color="#8b0074"/><stop offset="1" stop-color="#74008b"/></linearGradient><linearGradient id="g410" gradientUnits="userSpaceOnUse" x1="798" x2="1329.9"><stop offset="0" stop-color="#3b00c4"/><stop offset=".136" stop-color="#3200cd"/><stop offset=".386" stop-color="#4a00b5"/><stop offset=".818" stop-color="#5500aa"/><stop offset="1" stop-color="#3b00c4"/></linearGradient><linearGradient id="g411" gradientUnits="userSpaceOnUse" x1="798" x2="1329.9"><stop offset="0" stop-color="#4e00b1"/><stop offset=".114" stop-color="#2d00d2"/><stop offset=".205" stop-color="#2400db"/><stop offset=".523" stop-color="#4a00b5"/><stop offset="1" stop-color="#4e00b1"/></linearGradient><linearGradient id="g412" gradientUnits="userSpaceOnUse" x1="798" x2="1329.9"><stop offset="0" stop-color="#9a0065"/><stop offset=".136" stop-color="#b70048"/><stop offset=".341" stop-color="#b0004f"/><stop offset=".5" stop-color="#c70038"/><stop offset=".75" stop-color="#c70038"/><stop offset=".886" stop-color="#a4005b"/><stop offset="1" stop-color="#9a0065"/></linearGradient><linearGradient id="g413" gradientUnits="userSpaceOnUse" x1="798" x2="1329.9"><stop offset="0" stop-color="#61009e"/><stop offset=".159" stop-color="#4300bc"/><stop offset=".364" stop-color="#4b00b4"/><stop offset=".568" stop-color="#3d00c2"/><stop offset=".864" stop-color="#680097"/><stop offset="1" stop-color="#61009e"/></linearGradient><linearGradient id="g414" gradientUnits="userSpaceOnUse" x1="798" x2="1329.9"><stop offset="0" stop-color="#3b00c4"/><stop offset=".227" stop-color="#4a00b5"/><stop offset=".568" stop-color="#3100ce"/><stop offset=".841" stop-color="#4200bd"/><stop offset="1" stop-color="#3b00c4"/></linearGradient><linearGradient id="g415" gradientUnits="userSpaceOnUse" x1="798" x2="1329.9"><stop offset="0" stop-color="#4e00b1"/><stop offset=".318" stop-color="#6b0094"/><stop offset=".636" stop-color="#4500ba"/><stop offset="1" stop-color="#4e00b1"/></linearGradient><linearGradient id="g416" gradientUnits="userSpaceOnUse" x1="798" x2="1329.9"><stop offset="0" stop-color="#3100ce"/><stop offset=".114" stop-color="#3600c9"/><stop offset=".341" stop-color="#1d00e2"/><stop offset=".614" stop-color="#4c00b3"/><stop offset=".864" stop-color="#2100de"/><stop offset="1" stop-color="#3100ce"/></linearGradient><linearGradient id="g417" gradientUnits="userSpaceOnUse" x1="798" x2="1329.9"><stop offset="0" stop-color="#4e00b1"/><stop offset=".182" stop-color="#3a00c5"/><stop offset="1" stop-color="#4e00b1"/></linearGradient><linearGradient id="g418" gradientUnits="userSpaceOnUse" x1="798" x2="1329.9"><stop offset="0" stop-color="#61009e"/><stop offset=".159" stop-color="#73008c"/><stop offset=".477" stop-color="#4900b6"/><stop offset=".841" stop-color="#4b00b4"/><stop offset="1" stop-color="#61009e"/></linearGradient><linearGradient id="g419" gradientUnits="userSpaceOnUse" x1="798" x2="1329.9"><stop offset="0" stop-color="#4e00b1"/><stop offset=".136" stop-color="#60009f"/><stop offset=".364" stop-color="#5300ac"/><stop offset=".591" stop-color="#74008b"/><stop offset=".864" stop-color="#4200bd"/><stop offset="1" stop-color="#4e00b1"/></linearGradient><linearGradient id="g420" gradientUnits="userSpaceOnUse" x1="798" x2="1329.9"><stop offset="0" stop-color="#5700a8"/><stop offset=".227" stop-color="#3600c9"/><stop offset=".455" stop-color="#2900d6"/><stop offset=".841" stop-color="#5900a6"/><stop offset="1" stop-color="#5700a8"/></linearGradient><linearGradient id="g421" gradientUnits="userSpaceOnUse" x1="798" x2="1329.9"><stop offset="0" stop-color="#74008b"/><stop offset=".295" stop-color="#64009b"/><stop offset=".591" stop-color="#81007e"/><stop offset=".841" stop-color="#5800a7"/><stop offset="1" stop-color="#74008b"/></linearGradient><linearGradient id="g422" gradientUnits="userSpaceOnUse" x1="798" x2="1329.9"><stop offset="0" stop-color="#61009e"/><stop offset=".136" stop-color="#83007c"/><stop offset=".364" stop-color="#690096"/><stop offset=".614" stop-color="#8f0070"/><stop offset=".864" stop-color="#5500aa"/><stop offset="1" stop-color="#61009e"/></linearGradient><linearGradient id="g423" gradientUnits="userSpaceOnUse" x1="798" x2="1329.9"><stop offset="0" stop-color="#61009e"/><stop offset=".182" stop-color="#4700b8"/><stop offset=".818" stop-color="#780087"/><stop offset="1" stop-color="#61009e"/></linearGradient><linearGradient id="g424" gradientUnits="userSpaceOnUse" x1="1329.9" x2="1492.1"><stop offset="0" stop-color="#b1004e"/><stop offset=".143" stop-color="#a60059"/><stop offset=".5" stop-color="#b1004e"/><stop offset=".786" stop-color="#8d0072"/><stop offset="1" stop-color="#a90056"/></linearGradient><linearGradient id="g425" gradientUnits="userSpaceOnUse" x1="1329.9" x2="1492.1"><stop offset="0" stop-color="#690096"/><stop offset=".357" stop-color="#760089"/><stop offset=".643" stop-color="#5900a6"/><stop offset="1" stop-color="#8c0073"/></linearGradient><linearGradient id="g426" gradientUnits="userSpaceOnUse" x1="1329.9" x2="1492.1"><stop offset="0" stop-color="#c5003a"/><stop offset=".286" stop-color="#a60059"/><stop offset=".571" stop-color="#b80047"/><stop offset=".857" stop-color="#9f0060"/><stop offset="1" stop-color="#bb0044"/></linearGradient><linearGradient id="g427" gradientUnits="userSpaceOnUse" x1="1329.9" x2="1492.1"><stop offset="0" stop-color="#7b0084"/><stop offset=".571" stop-color="#870078"/><stop offset=".857" stop-color="#64009b"/><stop offset="1" stop-color="#63009c"/></linearGradient><linearGradient id="g428" gradientUnits="userSpaceOnUse" x1="1329.9" x2="1492.1"><stop offset="0" stop-color="#4b00b4"/><stop offset=".143" stop-color="#65009a"/><stop offset=".429" stop-color="#6a0095"/><stop offset=".643" stop-color="#7f0080"/><stop offset="1" stop-color="#75008a"/></linearGradient><linearGradient id="g429" gradientUnits="userSpaceOnUse" x1="1329.9" x2="1492.1"><stop offset="0" stop-color="#81007e"/><stop offset=".5" stop-color="#70008f"/><stop offset="1" stop-color="#a4005b"/></linearGradient><linearGradient id="g430" gradientUnits="userSpaceOnUse" x1="1329.9" x2="1492.1"><stop offset="0" stop-color="#5f00a0"/><stop offset=".143" stop-color="#6e0091"/><stop offset=".429" stop-color="#60009f"/><stop offset=".643" stop-color="#72008d"/><stop offset="1" stop-color="#5e00a1"/></linearGradient><linearGradient id="g431" gradientUnits="userSpaceOnUse" x1="1329.9" x2="1492.1"><stop offset="0" stop-color="#9a0065"/><stop offset=".357" stop-color="#bc0043"/><stop offset=".643" stop-color="#8a0075"/><stop offset=".857" stop-color="#9a0065"/><stop offset="1" stop-color="#84007b"/></linearGradient><linearGradient id="g432" gradientUnits="userSpaceOnUse" x1="1329.9" x2="1492.1"><stop offset="0" stop-color="#5800a7"/><stop offset=".571" stop-color="#7b0084"/><stop offset="1" stop-color="#5d00a2"/></linearGradient><linearGradient id="g433" gradientUnits="userSpaceOnUse" x1="1329.9" x2="1492.1"><stop offset="0" stop-color="#5c00a3"/><stop offset=".357" stop-color="#60009f"/><stop offset=".643" stop-color="#4300bc"/><stop offset=".857" stop-color="#6c0093"/><stop offset="1" stop-color="#6f0090"/></linearGradient><linearGradient id="g434" gradientUnits="userSpaceOnUse" x1="1329.9" x2="1492.1"><stop offset="0" stop-color="#2900d6"/><stop offset=".357" stop-color="#5800a7"/><stop offset=".714" stop-color="#2a00d5"/><stop offset="1" stop-color="#5100ae"/></linearGradient><linearGradient id="g435" gradientUnits="userSpaceOnUse" x1="1329.9" x2="1492.1"><stop offset="0" stop-color="#7a0085"/><stop offset=".214" stop-color="#6f0090"/><stop offset=".571" stop-color="#8f0070"/><stop offset=".786" stop-color="#63009c"/><stop offset=".857" stop-color="#670098"/><stop offset="1" stop-color="#a4005b"/></linearGradient><linearGradient id="g436" gradientUnits="userSpaceOnUse" x1="1329.9" x2="1492.1"><stop offset="0" stop-color="#71008e"/><stop offset=".5" stop-color="#92006d"/><stop offset=".786" stop-color="#880077"/><stop offset="1" stop-color="#6a0095"/></linearGradient><linearGradient id="g437" gradientUnits="userSpaceOnUse" x1="1329.9" x2="1492.1"><stop offset="0" stop-color="#8d0072"/><stop offset=".571" stop-color="#6b0094"/><stop offset=".857" stop-color="#8e0071"/><stop offset="1" stop-color="#8f0070"/></linearGradient><linearGradient id="g438" gradientUnits="userSpaceOnUse" x1="1329.9" x2="1492.1"><stop offset="0" stop-color="#760089"/><stop offset=".429" stop-color="#760089"/><stop offset=".714" stop-color="#92006d"/><stop offset="1" stop-color="#71008e"/></linearGradient><linearGradient id="g439" gradientUnits="userSpaceOnUse" x1="1329.9" x2="1492.1"><stop offset="0" stop-color="#5200ad"/><stop offset=".143" stop-color="#3700c8"/><stop offset=".857" stop-color="#680097"/><stop offset="1" stop-color="#5400ab"/></linearGradient><linearGradient id="g440" gradientUnits="userSpaceOnUse" x1="1329.9" x2="1492.1"><stop offset="0" stop-color="#71008e"/><stop offset=".214" stop-color="#5800a7"/><stop offset=".643" stop-color="#8e0071"/><stop offset="1" stop-color="#670098"/></linearGradient><linearGradient id="g441" gradientUnits="userSpaceOnUse" x1="1329.9" x2="1492.1"><stop offset="0" stop-color="#73008c"/><stop offset=".143" stop-color="#6f0090"/><stop offset=".357" stop-color="#4e00b1"/><stop offset=".429" stop-color="#5100ae"/><stop offset=".714" stop-color="#8e0071"/><stop offset="1" stop-color="#6b0094"/></linearGradient><linearGradient id="g442" gradientUnits="userSpaceOnUse" x1="1329.9" x2="1492.1"><stop offset="0" stop-color="#5100ae"/><stop offset=".143" stop-color="#5e00a1"/><stop offset=".429" stop-color="#4e00b1"/><stop offset=".643" stop-color="#63009c"/><stop offset="1" stop-color="#4e00b1"/></linearGradient><linearGradient id="g443" gradientUnits="userSpaceOnUse" x1="1329.9" x2="1492.1"><stop offset="0" stop-color="#5d00a2"/><stop offset=".286" stop-color="#4300bc"/><stop offset=".643" stop-color="#680097"/><stop offset="1" stop-color="#61009e"/></linearGradient><linearGradient id="g444" gradientUnits="userSpaceOnUse" x1="1329.9" x2="1492.1"><stop offset="0" stop-color="#c70038"/><stop offset=".286" stop-color="#c70038"/><stop offset=".571" stop-color="#a4005b"/><stop offset=".857" stop-color="#c70038"/><stop offset="1" stop-color="#9a0065"/></linearGradient><linearGradient id="g445" gradientUnits="userSpaceOnUse" x1="1329.9" x2="1492.1"><stop offset="0" stop-color="#5700a8"/><stop offset=".214" stop-color="#5100ae"/><stop offset=".571" stop-color="#6d0092"/><stop offset="1" stop-color="#4e00b1"/></linearGradient><linearGradient id="g446" gradientUnits="userSpaceOnUse" x1="1329.9" x2="1492.1"><stop offset="0" stop-color="#7d0082"/><stop offset=".143" stop-color="#7e0081"/><stop offset=".357" stop-color="#660099"/><stop offset=".714" stop-color="#a70058"/><stop offset="1" stop-color="#91006e"/></linearGradient><linearGradient id="g447" gradientUnits="userSpaceOnUse" x1="1329.9" x2="1492.1"><stop offset="0" stop-color="#680097"/><stop offset=".143" stop-color="#4400bb"/><stop offset=".357" stop-color="#3f00c0"/><stop offset=".5" stop-color="#1a00e5"/><stop offset=".643" stop-color="#1900e6"/><stop offset=".714" stop-color="#2000df"/><stop offset=".857" stop-color="#5b00a4"/><stop offset="1" stop-color="#74008b"/></linearGradient><linearGradient id="g448" gradientUnits="userSpaceOnUse" x1="1329.9" x2="1492.1"><stop offset="0" stop-color="#5b00a4"/><stop offset=".214" stop-color="#5500aa"/><stop offset=".571" stop-color="#2600d9"/><stop offset=".714" stop-color="#3000cf"/><stop offset="1" stop-color="#6d0092"/></linearGradient><linearGradient id="g449" gradientUnits="userSpaceOnUse" x1="1329.9" x2="1492.1"><stop offset="0" stop-color="#6c0093"/><stop offset=".143" stop-color="#74008b"/><stop offset=".357" stop-color="#63009c"/><stop offset=".643" stop-color="#75008a"/><stop offset=".857" stop-color="#680097"/><stop offset="1" stop-color="#7f0080"/></linearGradient><linearGradient id="g450" gradientUnits="userSpaceOnUse" x1="1329.9" x2="1492.1"><stop offset="0" stop-color="#4c00b3"/><stop offset=".357" stop-color="#4100be"/><stop offset=".571" stop-color="#680097"/><stop offset=".643" stop-color="#680097"/><stop offset=".857" stop-color="#4200bd"/><stop offset="1" stop-color="#5a00a5"/></linearGradient><linearGradient id="g451" gradientUnits="userSpaceOnUse" x1="1329.9" x2="1492.1"><stop offset="0" stop-color="#2800d7"/><stop offset=".071" stop-color="#1900e6"/><stop offset=".571" stop-color="#1900e6"/><stop offset="1" stop-color="#4300bc"/></linearGradient><linearGradient id="g452" gradientUnits="userSpaceOnUse" x1="1329.9" x2="1492.1"><stop offset="0" stop-color="#2900d6"/><stop offset=".429" stop-color="#3600c9"/><stop offset=".714" stop-color="#1d00e2"/><stop offset="1" stop-color="#2a00d5"/></linearGradient><linearGradient id="g453" gradientUnits="userSpaceOnUse" x1="1329.9" x2="1492.1"><stop offset="0" stop-color="#6c0093"/><stop offset=".143" stop-color="#90006f"/><stop offset=".429" stop-color="#64009b"/><stop offset=".643" stop-color="#61009e"/><stop offset=".857" stop-color="#4a00b5"/><stop offset="1" stop-color="#4e00b1"/></linearGradient><linearGradient id="g454" gradientUnits="userSpaceOnUse" x1="1329.9" x2="1492.1"><stop offset="0" stop-color="#4400bb"/><stop offset=".357" stop-color="#75008a"/><stop offset="1" stop-color="#65009a"/></linearGradient><linearGradient id="g455" gradientUnits="userSpaceOnUse" x1="1329.9" x2="1492.1"><stop offset="0" stop-color="#63009c"/><stop offset=".286" stop-color="#70008f"/><stop offset=".643" stop-color="#4600b9"/><stop offset="1" stop-color="#6d0092"/></linearGradient><linearGradient id="g456" gradientUnits="userSpaceOnUse" x1="1329.9" x2="1492.1"><stop offset="0" stop-color="#62009d"/><stop offset=".143" stop-color="#5000af"/><stop offset=".357" stop-color="#5500aa"/><stop offset=".643" stop-color="#3c00c3"/><stop offset=".857" stop-color="#4600b9"/><stop offset="1" stop-color="#3800c7"/></linearGradient><linearGradient id="g457" gradientUnits="userSpaceOnUse" x1="1329.9" x2="1492.1"><stop offset="0" stop-color="#1900e6"/><stop offset=".357" stop-color="#2400db"/><stop offset=".714" stop-color="#61009e"/><stop offset=".857" stop-color="#4e00b1"/><stop offset="1" stop-color="#1e00e1"/></linearGradient><linearGradient id="g458" gradientUnits="userSpaceOnUse" x1="1329.9" x2="1492.1"><stop offset="0" stop-color="#3300cc"/><stop offset=".143" stop-color="#1900e6"/><stop offset=".286" stop-color="#1900e6"/><stop offset=".357" stop-color="#2100de"/><stop offset=".571" stop-color="#64009b"/><stop offset=".643" stop-color="#6a0095"/><stop offset=".857" stop-color="#4c00b3"/><stop offset="1" stop-color="#4800b7"/></linearGradient><linearGradient id="g459" gradientUnits="userSpaceOnUse" x1="1329.9" x2="1492.1"><stop offset="0" stop-color="#9c0063"/><stop offset=".286" stop-color="#a3005c"/><stop offset=".714" stop-color="#680097"/><stop offset="1" stop-color="#7c0083"/></linearGradient><linearGradient id="g460" gradientUnits="userSpaceOnUse" x1="1329.9" x2="1492.1"><stop offset="0" stop-color="#670098"/><stop offset=".286" stop-color="#7b0084"/><stop offset=".571" stop-color="#680097"/><stop offset=".857" stop-color="#95006a"/><stop offset="1" stop-color="#73008c"/></linearGradient><linearGradient id="g461" gradientUnits="userSpaceOnUse" x1="1329.9" x2="1492.1"><stop offset="0" stop-color="#1e00e1"/><stop offset=".286" stop-color="#2f00d0"/><stop offset=".571" stop-color="#1900e6"/><stop offset=".857" stop-color="#4500ba"/><stop offset="1" stop-color="#1e00e1"/></linearGradient><linearGradient id="g462" gradientUnits="userSpaceOnUse" x1="1329.9" x2="1492.1"><stop offset="0" stop-color="#4100be"/><stop offset=".214" stop-color="#5300ac"/><stop offset=".5" stop-color="#4300bc"/><stop offset=".786" stop-color="#5800a7"/><stop offset="1" stop-color="#4b00b4"/></linearGradient><linearGradient id="g463" gradientUnits="userSpaceOnUse" x1="1329.9" x2="1492.1"><stop offset="0" stop-color="#9b0064"/><stop offset=".5" stop-color="#680097"/><stop offset=".857" stop-color="#980067"/><stop offset="1" stop-color="#8d0072"/></linearGradient><linearGradient id="g464" gradientUnits="userSpaceOnUse" x1="1329.9" x2="1492.1"><stop offset="0" stop-color="#2900d6"/><stop offset=".429" stop-color="#4500ba"/><stop offset="1" stop-color="#5400ab"/></linearGradient><linearGradient id="g465" gradientUnits="userSpaceOnUse" x1="1329.9" x2="1492.1"><stop offset="0" stop-color="#91006e"/><stop offset=".286" stop-color="#70008f"/><stop offset=".571" stop-color="#7d0082"/><stop offset=".857" stop-color="#62009d"/><stop offset="1" stop-color="#7a0085"/></linearGradient><linearGradient id="g466" gradientUnits="userSpaceOnUse" x1="1329.9" x2="1492.1"><stop offset="0" stop-color="#81007e"/><stop offset=".143" stop-color="#95006a"/><stop offset=".357" stop-color="#6d0092"/><stop offset=".571" stop-color="#5d00a2"/><stop offset=".786" stop-color="#3a00c5"/><stop offset=".857" stop-color="#3a00c5"/><stop offset="1" stop-color="#670098"/></linearGradient><linearGradient id="g467" gradientUnits="userSpaceOnUse" x1="1329.9" x2="1492.1"><stop offset="0" stop-color="#6d0092"/><stop offset=".214" stop-color="#5700a8"/><stop offset=".643" stop-color="#7b0084"/><stop offset="1" stop-color="#62009d"/></linearGradient><linearGradient id="g468" gradientUnits="userSpaceOnUse" x1="1329.9" x2="1492.1"><stop offset="0" stop-color="#6b0094"/><stop offset=".5" stop-color="#5300ac"/><stop offset="1" stop-color="#6a0095"/></linearGradient><linearGradient id="g469" gradientUnits="userSpaceOnUse" x1="1329.9" x2="1492.1"><stop offset="0" stop-color="#4d00b2"/><stop offset=".286" stop-color="#2300dc"/><stop offset=".714" stop-color="#5700a8"/><stop offset="1" stop-color="#3f00c0"/></linearGradient><linearGradient id="g470" gradientUnits="userSpaceOnUse" x1="1329.9" x2="1492.1"><stop offset="0" stop-color="#2e00d1"/><stop offset="1" stop-color="#5400ab"/></linearGradient><linearGradient id="g471" gradientUnits="userSpaceOnUse" x1="1329.9" x2="1492.1"><stop offset="0" stop-color="#7f0080"/><stop offset=".5" stop-color="#9e0061"/><stop offset=".786" stop-color="#73008c"/><stop offset="1" stop-color="#660099"/></linearGradient><linearGradient id="g472" gradientUnits="userSpaceOnUse" x1="1329.9" x2="1492.1"><stop offset="0" stop-color="#1900e6"/><stop offset=".214" stop-color="#1900e6"/><stop offset=".357" stop-color="#2c00d3"/><stop offset=".5" stop-color="#1900e6"/><stop offset=".714" stop-color="#1900e6"/><stop offset=".857" stop-color="#3900c6"/><stop offset="1" stop-color="#4300bc"/></linearGradient><linearGradient id="g473" gradientUnits="userSpaceOnUse" x1="1329.9" x2="1492.1"><stop offset="0" stop-color="#5900a6"/><stop offset=".143" stop-color="#5100ae"/><stop offset=".429" stop-color="#2000df"/><stop offset=".571" stop-color="#2500da"/><stop offset=".786" stop-color="#5000af"/><stop offset=".857" stop-color="#5100ae"/><stop offset="1" stop-color="#3500ca"/></linearGradient><linearGradient id="g474" gradientUnits="userSpaceOnUse" x1="1329.9" x2="1492.1"><stop offset="0" stop-color="#7f0080"/><stop offset=".429" stop-color="#72008d"/><stop offset=".786" stop-color="#90006f"/><stop offset="1" stop-color="#8a0075"/></linearGradient><linearGradient id="g475" gradientUnits="userSpaceOnUse" x1="1329.9" x2="1492.1"><stop offset="0" stop-color="#2e00d1"/><stop offset=".143" stop-color="#3600c9"/><stop offset=".5" stop-color="#84007b"/><stop offset=".786" stop-color="#5500aa"/><stop offset="1" stop-color="#5a00a5"/></linearGradient><linearGradient id="g476" gradientUnits="userSpaceOnUse" x1="1329.9" x2="1492.1"><stop offset="0" stop-color="#3800c7"/><stop offset=".5" stop-color="#770088"/><stop offset=".857" stop-color="#660099"/><stop offset="1" stop-color="#73008c"/></linearGradient><linearGradient id="g477" gradientUnits="userSpaceOnUse" x1="1329.9" x2="1492.1"><stop offset="0" stop-color="#5d00a2"/><stop offset=".357" stop-color="#860079"/><stop offset=".571" stop-color="#61009e"/><stop offset=".857" stop-color="#6d0092"/><stop offset="1" stop-color="#5800a7"/></linearGradient><linearGradient id="g478" gradientUnits="userSpaceOnUse" x1="1329.9" x2="1492.1"><stop offset="0" stop-color="#60009f"/><stop offset=".143" stop-color="#6e0091"/><stop offset=".357" stop-color="#5c00a3"/><stop offset=".643" stop-color="#70008f"/><stop offset=".857" stop-color="#4200bd"/><stop offset="1" stop-color="#3b00c4"/></linearGradient><linearGradient id="g479" gradientUnits="userSpaceOnUse" x1="1329.9" x2="1492.1"><stop offset="0" stop-color="#a2005d"/><stop offset=".071" stop-color="#be0041"/><stop offset=".143" stop-color="#c70038"/><stop offset=".429" stop-color="#c70038"/><stop offset=".714" stop-color="#92006d"/><stop offset="1" stop-color="#91006e"/></linearGradient><linearGradient id="g480" gradientUnits="userSpaceOnUse" x1="1329.9" x2="1492.1"><stop offset="0" stop-color="#6d0092"/><stop offset=".143" stop-color="#6e0091"/><stop offset=".357" stop-color="#4800b7"/><stop offset=".571" stop-color="#64009b"/><stop offset=".643" stop-color="#660099"/><stop offset=".857" stop-color="#4700b8"/><stop offset="1" stop-color="#61009e"/></linearGradient><linearGradient id="g481" gradientUnits="userSpaceOnUse" x1="1329.9" x2="1492.1"><stop offset="0" stop-color="#3c00c3"/><stop offset=".143" stop-color="#5800a7"/><stop offset=".429" stop-color="#2900d6"/><stop offset=".5" stop-color="#2900d6"/><stop offset=".786" stop-color="#5c00a3"/><stop offset="1" stop-color="#4e00b1"/></linearGradient><linearGradient id="g482" gradientUnits="userSpaceOnUse" x1="1329.9" x2="1492.1"><stop offset="0" stop-color="#780087"/><stop offset=".357" stop-color="#74008b"/><stop offset=".714" stop-color="#8b0074"/><stop offset="1" stop-color="#61009e"/></linearGradient><linearGradient id="g483" gradientUnits="userSpaceOnUse" x1="1329.9" x2="1492.1"><stop offset="0" stop-color="#3500ca"/><stop offset=".143" stop-color="#3500ca"/><stop offset=".429" stop-color="#64009b"/><stop offset=".714" stop-color="#4900b6"/><stop offset="1" stop-color="#4e00b1"/></linearGradient><linearGradient id="g484" gradientUnits="userSpaceOnUse" x1="1329.9" x2="1492.1"><stop offset="0" stop-color="#8b0074"/><stop offset=".143" stop-color="#92006d"/><stop offset=".429" stop-color="#680097"/><stop offset="1" stop-color="#74008b"/></linearGradient><linearGradient id="g485" gradientUnits="userSpaceOnUse" x1="1329.9" x2="1492.1"><stop offset="0" stop-color="#2500da"/><stop offset=".357" stop-color="#4900b6"/><stop offset=".786" stop-color="#2f00d0"/><stop offset="1" stop-color="#3b00c4"/></linearGradient><linearGradient id="g486" gradientUnits="userSpaceOnUse" x1="1329.9" x2="1492.1"><stop offset="0" stop-color="#1900e6"/><stop offset=".571" stop-color="#1b00e4"/><stop offset="1" stop-color="#4e00b1"/></linearGradient><linearGradient id="g487" gradientUnits="userSpaceOnUse" x1="1329.9" x2="1492.1"><stop offset="0" stop-color="#860079"/><stop offset=".643" stop-color="#82007d"/><stop offset="1" stop-color="#9a0065"/></linearGradient><linearGradient id="g488" gradientUnits="userSpaceOnUse" x1="1329.9" x2="1492.1"><stop offset="0" stop-color="#4200bd"/><stop offset=".286" stop-color="#3700c8"/><stop offset="1" stop-color="#61009e"/></linearGradient><linearGradient id="g489" gradientUnits="userSpaceOnUse" x1="1329.9" x2="1492.1"><stop offset="0" stop-color="#3400cb"/><stop offset=".214" stop-color="#1900e6"/><stop offset=".429" stop-color="#2c00d3"/><stop offset="1" stop-color="#3b00c4"/></linearGradient><linearGradient id="g490" gradientUnits="userSpaceOnUse" x1="1329.9" x2="1492.1"><stop offset="0" stop-color="#5400ab"/><stop offset=".214" stop-color="#4b00b4"/><stop offset=".714" stop-color="#5c00a3"/><stop offset="1" stop-color="#4e00b1"/></linearGradient><linearGradient id="g491" gradientUnits="userSpaceOnUse" x1="1329.9" x2="1492.1"><stop offset="0" stop-color="#2200dd"/><stop offset=".571" stop-color="#3c00c3"/><stop offset="1" stop-color="#3100ce"/></linearGradient><linearGradient id="g492" gradientUnits="userSpaceOnUse" x1="1329.9" x2="1492.1"><stop offset="0" stop-color="#3c00c3"/><stop offset=".214" stop-color="#3000cf"/><stop offset=".5" stop-color="#60009f"/><stop offset=".857" stop-color="#2e00d1"/><stop offset="1" stop-color="#4e00b1"/></linearGradient><linearGradient id="g493" gradientUnits="userSpaceOnUse" x1="1329.9" x2="1492.1"><stop offset="0" stop-color="#a70058"/><stop offset=".714" stop-color="#63009c"/><stop offset="1" stop-color="#61009e"/></linearGradient><linearGradient id="g494" gradientUnits="userSpaceOnUse" x1="1329.9" x2="1492.1"><stop offset="0" stop-color="#60009f"/><stop offset=".786" stop-color="#8f0070"/><stop offset=".857" stop-color="#85007a"/><stop offset="1" stop-color="#4e00b1"/></linearGradient><linearGradient id="g495" gradientUnits="userSpaceOnUse" x1="1329.9" x2="1492.1"><stop offset="0" stop-color="#2000df"/><stop offset=".286" stop-color="#2d00d2"/><stop offset=".571" stop-color="#72008d"/><stop offset=".643" stop-color="#74008b"/><stop offset=".857" stop-color="#4e00b1"/><stop offset="1" stop-color="#5700a8"/></linearGradient><linearGradient id="g496" gradientUnits="userSpaceOnUse" x1="1329.9" x2="1492.1"><stop offset="0" stop-color="#63009c"/><stop offset=".214" stop-color="#4000bf"/><stop offset=".357" stop-color="#3800c7"/><stop offset="1" stop-color="#74008b"/></linearGradient><linearGradient id="g497" gradientUnits="userSpaceOnUse" x1="1329.9" x2="1492.1"><stop offset="0" stop-color="#5a00a5"/><stop offset=".571" stop-color="#5900a6"/><stop offset=".857" stop-color="#6c0093"/><stop offset="1" stop-color="#61009e"/></linearGradient><linearGradient id="g498" gradientUnits="userSpaceOnUse" x1="1329.9" x2="1492.1"><stop offset="0" stop-color="#690096"/><stop offset=".071" stop-color="#790086"/><stop offset=".143" stop-color="#780087"/><stop offset=".357" stop-color="#1900e6"/><stop offset=".5" stop-color="#1a00e5"/><stop offset=".643" stop-color="#4000bf"/><stop offset=".857" stop-color="#3f00c0"/><stop offset="1" stop-color="#61009e"/></linearGradient><linearGradient id="g499" gradientUnits="userSpaceOnUse" x1="1492.1" x2="1628.9"><stop offset="0" stop-color="#a90056"/><stop offset=".364" stop-color="#c70038"/><stop offset="1" stop-color="#c1003e"/></linearGradient><linearGradient id="g500" gradientUnits="userSpaceOnUse" x1="1492.1" x2="1628.9"><stop offset="0" stop-color="#8c0073"/><stop offset=".091" stop-color="#aa0055"/><stop offset=".182" stop-color="#b3004c"/><stop offset=".455" stop-color="#7b0084"/><stop offset=".727" stop-color="#6d0092"/><stop offset=".818" stop-color="#6a0095"/><stop offset="1" stop-color="#8b0074"/></linearGradient><linearGradient id="g501" gradientUnits="userSpaceOnUse" x1="1492.1" x2="1628.9"><stop offset="0" stop-color="#bb0044"/><stop offset=".182" stop-color="#c70038"/><stop offset=".455" stop-color="#a0005f"/><stop offset="1" stop-color="#91006e"/></linearGradient><linearGradient id="g502" gradientUnits="userSpaceOnUse" x1="1492.1" x2="1628.9"><stop offset="0" stop-color="#63009c"/><stop offset=".182" stop-color="#72008d"/><stop offset=".364" stop-color="#6b0094"/><stop offset=".636" stop-color="#81007e"/><stop offset="1" stop-color="#6d0092"/></linearGradient><linearGradient id="g503" gradientUnits="userSpaceOnUse" x1="1492.1" x2="1628.9"><stop offset="0" stop-color="#75008a"/><stop offset=".182" stop-color="#5400ab"/><stop offset=".455" stop-color="#74008b"/><stop offset=".818" stop-color="#5800a7"/><stop offset="1" stop-color="#770088"/></linearGradient><linearGradient id="g504" gradientUnits="userSpaceOnUse" x1="1492.1" x2="1628.9"><stop offset="0" stop-color="#a4005b"/><stop offset=".182" stop-color="#a5005a"/><stop offset=".545" stop-color="#85007a"/><stop offset="1" stop-color="#960069"/></linearGradient><linearGradient id="g505" gradientUnits="userSpaceOnUse" x1="1492.1" x2="1628.9"><stop offset="0" stop-color="#5e00a1"/><stop offset=".182" stop-color="#6e0091"/><stop offset=".273" stop-color="#680097"/><stop offset=".545" stop-color="#1900e6"/><stop offset=".727" stop-color="#1900e6"/><stop offset="1" stop-color="#3600c9"/></linearGradient><linearGradient id="g506" gradientUnits="userSpaceOnUse" x1="1492.1" x2="1628.9"><stop offset="0" stop-color="#84007b"/><stop offset=".182" stop-color="#7d0082"/><stop offset=".364" stop-color="#5c00a3"/><stop offset=".455" stop-color="#5c00a3"/><stop offset=".727" stop-color="#84007b"/><stop offset="1" stop-color="#72008d"/></linearGradient><linearGradient id="g507" gradientUnits="userSpaceOnUse" x1="1492.1" x2="1628.9"><stop offset="0" stop-color="#5d00a2"/><stop offset=".364" stop-color="#3f00c0"/><stop offset=".636" stop-color="#63009c"/><stop offset="1" stop-color="#62009d"/></linearGradient><linearGradient id="g508" gradientUnits="userSpaceOnUse" x1="1492.1" x2="1628.9"><stop offset="0" stop-color="#6f0090"/><stop offset=".182" stop-color="#860079"/><stop offset=".636" stop-color="#4a00b5"/><stop offset="1" stop-color="#5600a9"/></linearGradient><linearGradient id="g509" gradientUnits="userSpaceOnUse" x1="1492.1" x2="1628.9"><stop offset="0" stop-color="#5100ae"/><stop offset=".364" stop-color="#4300bc"/><stop offset=".636" stop-color="#6c0093"/><stop offset=".818" stop-color="#4f00b0"/><stop offset=".909" stop-color="#5000af"/><stop offset="1" stop-color="#63009c"/></linearGradient><linearGradient id="g510" gradientUnits="userSpaceOnUse" x1="1492.1" x2="1628.9"><stop offset="0" stop-color="#a4005b"/><stop offset=".182" stop-color="#bd0042"/><stop offset=".364" stop-color="#ab0054"/><stop offset=".545" stop-color="#c70038"/><stop offset="1" stop-color="#c0003f"/></linearGradient><linearGradient id="g511" gradientUnits="userSpaceOnUse" x1="1492.1" x2="1628.9"><stop offset="0" stop-color="#6a0095"/><stop offset=".182" stop-color="#81007e"/><stop offset=".455" stop-color="#82007d"/><stop offset=".636" stop-color="#780087"/><stop offset=".818" stop-color="#5800a7"/><stop offset="1" stop-color="#6c0093"/></linearGradient><linearGradient id="g512" gradientUnits="userSpaceOnUse" x1="1492.1" x2="1628.9"><stop offset="0" stop-color="#8f0070"/><stop offset=".455" stop-color="#860079"/><stop offset=".818" stop-color="#9e0061"/><stop offset="1" stop-color="#8e0071"/></linearGradient><linearGradient id="g513" gradientUnits="userSpaceOnUse" x1="1492.1" x2="1628.9"><stop offset="0" stop-color="#71008e"/><stop offset=".273" stop-color="#7c0083"/><stop offset=".727" stop-color="#5700a8"/><stop offset="1" stop-color="#680097"/></linearGradient><linearGradient id="g514" gradientUnits="userSpaceOnUse" x1="1492.1" x2="1628.9"><stop offset="0" stop-color="#5400ab"/><stop offset=".273" stop-color="#5200ad"/><stop offset=".636" stop-color="#3000cf"/><stop offset="1" stop-color="#4800b7"/></linearGradient><linearGradient id="g515" gradientUnits="userSpaceOnUse" x1="1492.1" x2="1628.9"><stop offset="0" stop-color="#670098"/><stop offset=".182" stop-color="#5e00a1"/><stop offset=".545" stop-color="#7e0081"/><stop offset="1" stop-color="#6e0091"/></linearGradient><linearGradient id="g516" gradientUnits="userSpaceOnUse" x1="1492.1" x2="1628.9"><stop offset="0" stop-color="#6b0094"/><stop offset=".273" stop-color="#8b0074"/><stop offset=".636" stop-color="#780087"/><stop offset="1" stop-color="#960069"/></linearGradient><linearGradient id="g517" gradientUnits="userSpaceOnUse" x1="1492.1" x2="1628.9"><stop offset="0" stop-color="#4e00b1"/><stop offset=".091" stop-color="#3100ce"/><stop offset=".182" stop-color="#2900d6"/><stop offset=".455" stop-color="#63009c"/><stop offset=".818" stop-color="#5300ac"/><stop offset="1" stop-color="#770088"/></linearGradient><linearGradient id="g518" gradientUnits="userSpaceOnUse" x1="1492.1" x2="1628.9"><stop offset="0" stop-color="#61009e"/><stop offset=".091" stop-color="#75008a"/><stop offset=".182" stop-color="#760089"/><stop offset=".364" stop-color="#5800a7"/><stop offset=".636" stop-color="#6a0095"/><stop offset=".818" stop-color="#4e00b1"/><stop offset=".909" stop-color="#5000af"/><stop offset="1" stop-color="#65009a"/></linearGradient><linearGradient id="g519" gradientUnits="userSpaceOnUse" x1="1492.1" x2="1628.9"><stop offset="0" stop-color="#9a0065"/><stop offset=".091" stop-color="#b0004f"/><stop offset=".182" stop-color="#b1004e"/><stop offset=".455" stop-color="#760089"/><stop offset=".727" stop-color="#95006a"/><stop offset="1" stop-color="#81007e"/></linearGradient><linearGradient id="g520" gradientUnits="userSpaceOnUse" x1="1492.1" x2="1628.9"><stop offset="0" stop-color="#4e00b1"/><stop offset=".636" stop-color="#690096"/><stop offset="1" stop-color="#61009e"/></linearGradient><linearGradient id="g521" gradientUnits="userSpaceOnUse" x1="1492.1" x2="1628.9"><stop offset="0" stop-color="#91006e"/><stop offset=".182" stop-color="#7c0083"/><stop offset="1" stop-color="#9a0065"/></linearGradient><linearGradient id="g522" gradientUnits="userSpaceOnUse" x1="1492.1" x2="1628.9"><stop offset="0" stop-color="#74008b"/><stop offset=".091" stop-color="#70008f"/><stop offset=".364" stop-color="#c2003d"/><stop offset=".455" stop-color="#b3004c"/><stop offset=".636" stop-color="#72008d"/><stop offset=".818" stop-color="#81007e"/><stop offset=".909" stop-color="#7c0083"/><stop offset="1" stop-color="#5f00a0"/></linearGradient><linearGradient id="g523" gradientUnits="userSpaceOnUse" x1="1492.1" x2="1628.9"><stop offset="0" stop-color="#6d0092"/><stop offset=".182" stop-color="#9b0064"/><stop offset=".636" stop-color="#9c0063"/><stop offset="1" stop-color="#8a0075"/></linearGradient><linearGradient id="g524" gradientUnits="userSpaceOnUse" x1="1492.1" x2="1628.9"><stop offset="0" stop-color="#7f0080"/><stop offset=".182" stop-color="#8d0072"/><stop offset=".364" stop-color="#680097"/><stop offset=".636" stop-color="#75008a"/><stop offset="1" stop-color="#680097"/></linearGradient><linearGradient id="g525" gradientUnits="userSpaceOnUse" x1="1492.1" x2="1628.9"><stop offset="0" stop-color="#4300bc"/><stop offset=".182" stop-color="#690096"/><stop offset=".364" stop-color="#780087"/><stop offset=".636" stop-color="#64009b"/><stop offset=".818" stop-color="#6b0094"/><stop offset="1" stop-color="#4c00b3"/></linearGradient><linearGradient id="g526" gradientUnits="userSpaceOnUse" x1="1492.1" x2="1628.9"><stop offset="0" stop-color="#2a00d5"/><stop offset=".273" stop-color="#4c00b3"/><stop offset=".818" stop-color="#1900e6"/><stop offset="1" stop-color="#1900e6"/></linearGradient><linearGradient id="g527" gradientUnits="userSpaceOnUse" x1="1492.1" x2="1628.9"><stop offset="0" stop-color="#4e00b1"/><stop offset=".273" stop-color="#3900c6"/><stop offset=".455" stop-color="#1900e6"/><stop offset=".636" stop-color="#1900e6"/><stop offset=".727" stop-color="#1b00e4"/><stop offset=".909" stop-color="#5100ae"/><stop offset="1" stop-color="#5900a6"/></linearGradient><linearGradient id="g528" gradientUnits="userSpaceOnUse" x1="1492.1" x2="1628.9"><stop offset="0" stop-color="#65009a"/><stop offset=".273" stop-color="#4900b6"/><stop offset=".636" stop-color="#5e00a1"/><stop offset="1" stop-color="#4600b9"/></linearGradient><linearGradient id="g529" gradientUnits="userSpaceOnUse" x1="1492.1" x2="1628.9"><stop offset="0" stop-color="#6d0092"/><stop offset=".091" stop-color="#75008a"/><stop offset=".364" stop-color="#4d00b2"/><stop offset=".636" stop-color="#70008f"/><stop offset=".818" stop-color="#5a00a5"/><stop offset=".909" stop-color="#64009b"/><stop offset="1" stop-color="#84007b"/></linearGradient><linearGradient id="g530" gradientUnits="userSpaceOnUse" x1="1492.1" x2="1628.9"><stop offset="0" stop-color="#3800c7"/><stop offset=".455" stop-color="#3000cf"/><stop offset=".636" stop-color="#1900e6"/><stop offset=".818" stop-color="#1900e6"/><stop offset=".909" stop-color="#2400db"/><stop offset="1" stop-color="#4900b6"/></linearGradient><linearGradient id="g531" gradientUnits="userSpaceOnUse" x1="1492.1" x2="1628.9"><stop offset="0" stop-color="#1e00e1"/><stop offset=".636" stop-color="#3500ca"/><stop offset="1" stop-color="#2600d9"/></linearGradient><linearGradient id="g532" gradientUnits="userSpaceOnUse" x1="1492.1" x2="1628.9"><stop offset="0" stop-color="#4800b7"/><stop offset=".182" stop-color="#4e00b1"/><stop offset=".364" stop-color="#2400db"/><stop offset=".455" stop-color="#2000df"/><stop offset=".636" stop-color="#2600d9"/><stop offset=".909" stop-color="#1900e6"/><stop offset="1" stop-color="#3100ce"/></linearGradient><linearGradient id="g533" gradientUnits="userSpaceOnUse" x1="1492.1" x2="1628.9"><stop offset="0" stop-color="#7c0083"/><stop offset=".273" stop-color="#5400ab"/><stop offset=".364" stop-color="#5500aa"/><stop offset=".636" stop-color="#8e0071"/><stop offset="1" stop-color="#91006e"/></linearGradient><linearGradient id="g534" gradientUnits="userSpaceOnUse" x1="1492.1" x2="1628.9"><stop offset="0" stop-color="#73008c"/><stop offset=".273" stop-color="#4700b8"/><stop offset="1" stop-color="#670098"/></linearGradient><linearGradient id="g535" gradientUnits="userSpaceOnUse" x1="1492.1" x2="1628.9"><stop offset="0" stop-color="#1e00e1"/><stop offset=".091" stop-color="#3800c7"/><stop offset=".182" stop-color="#3a00c5"/><stop offset=".364" stop-color="#1900e6"/><stop offset=".636" stop-color="#3100ce"/><stop offset=".818" stop-color="#1900e6"/><stop offset="1" stop-color="#1900e6"/></linearGradient><linearGradient id="g536" gradientUnits="userSpaceOnUse" x1="1492.1" x2="1628.9"><stop offset="0" stop-color="#4b00b4"/><stop offset=".364" stop-color="#780087"/><stop offset=".818" stop-color="#4b00b4"/><stop offset="1" stop-color="#2900d6"/></linearGradient><linearGradient id="g537" gradientUnits="userSpaceOnUse" x1="1492.1" x2="1628.9"><stop offset="0" stop-color="#8d0072"/><stop offset=".182" stop-color="#a90056"/><stop offset=".455" stop-color="#7a0085"/><stop offset=".727" stop-color="#74008b"/><stop offset="1" stop-color="#980067"/></linearGradient><linearGradient id="g538" gradientUnits="userSpaceOnUse" x1="1492.1" x2="1628.9"><stop offset="0" stop-color="#5400ab"/><stop offset=".091" stop-color="#4500ba"/><stop offset=".182" stop-color="#4e00b1"/><stop offset=".364" stop-color="#8c0073"/><stop offset=".455" stop-color="#8e0071"/><stop offset=".727" stop-color="#4d00b2"/><stop offset="1" stop-color="#4600b9"/></linearGradient><linearGradient id="g539" gradientUnits="userSpaceOnUse" x1="1492.1" x2="1628.9"><stop offset="0" stop-color="#7a0085"/><stop offset=".455" stop-color="#9e0061"/><stop offset=".818" stop-color="#690096"/><stop offset="1" stop-color="#5e00a1"/></linearGradient><linearGradient id="g540" gradientUnits="userSpaceOnUse" x1="1492.1" x2="1628.9"><stop offset="0" stop-color="#670098"/><stop offset=".364" stop-color="#4900b6"/><stop offset=".727" stop-color="#63009c"/><stop offset="1" stop-color="#3000cf"/></linearGradient><linearGradient id="g541" gradientUnits="userSpaceOnUse" x1="1492.1" x2="1628.9"><stop offset="0" stop-color="#62009d"/><stop offset=".364" stop-color="#2300dc"/><stop offset=".818" stop-color="#4100be"/><stop offset="1" stop-color="#5f00a0"/></linearGradient><linearGradient id="g542" gradientUnits="userSpaceOnUse" x1="1492.1" x2="1628.9"><stop offset="0" stop-color="#6a0095"/><stop offset=".273" stop-color="#65009a"/><stop offset=".545" stop-color="#4600b9"/><stop offset=".818" stop-color="#5e00a1"/><stop offset="1" stop-color="#5a00a5"/></linearGradient><linearGradient id="g543" gradientUnits="userSpaceOnUse" x1="1492.1" x2="1628.9"><stop offset="0" stop-color="#3f00c0"/><stop offset=".091" stop-color="#2b00d4"/><stop offset=".182" stop-color="#2c00d3"/><stop offset=".364" stop-color="#5200ad"/><stop offset=".636" stop-color="#4300bc"/><stop offset=".818" stop-color="#63009c"/><stop offset=".909" stop-color="#5900a6"/><stop offset="1" stop-color="#3600c9"/></linearGradient><linearGradient id="g544" gradientUnits="userSpaceOnUse" x1="1492.1" x2="1628.9"><stop offset="0" stop-color="#5400ab"/><stop offset=".273" stop-color="#63009c"/><stop offset=".545" stop-color="#5c00a3"/><stop offset=".636" stop-color="#6a0095"/><stop offset=".818" stop-color="#a2005d"/><stop offset="1" stop-color="#a60059"/></linearGradient><linearGradient id="g545" gradientUnits="userSpaceOnUse" x1="1492.1" x2="1628.9"><stop offset="0" stop-color="#660099"/><stop offset=".091" stop-color="#4800b7"/><stop offset=".182" stop-color="#3d00c2"/><stop offset=".455" stop-color="#790086"/><stop offset=".545" stop-color="#80007f"/><stop offset="1" stop-color="#60009f"/></linearGradient><linearGradient id="g546" gradientUnits="userSpaceOnUse" x1="1492.1" x2="1628.9"><stop offset="0" stop-color="#4300bc"/><stop offset=".545" stop-color="#1f00e0"/><stop offset=".818" stop-color="#4a00b5"/><stop offset="1" stop-color="#4400bb"/></linearGradient><linearGradient id="g547" gradientUnits="userSpaceOnUse" x1="1492.1" x2="1628.9"><stop offset="0" stop-color="#3500ca"/><stop offset=".182" stop-color="#4400bb"/><stop offset=".545" stop-color="#4200bd"/><stop offset=".818" stop-color="#2500da"/><stop offset=".909" stop-color="#3100ce"/><stop offset="1" stop-color="#5100ae"/></linearGradient><linearGradient id="g548" gradientUnits="userSpaceOnUse" x1="1492.1" x2="1628.9"><stop offset="0" stop-color="#8a0075"/><stop offset=".182" stop-color="#a2005d"/><stop offset=".545" stop-color="#9b0064"/><stop offset=".818" stop-color="#b70048"/><stop offset="1" stop-color="#9f0060"/></linearGradient><linearGradient id="g549" gradientUnits="userSpaceOnUse" x1="1492.1" x2="1628.9"><stop offset="0" stop-color="#5a00a5"/><stop offset=".364" stop-color="#3f00c0"/><stop offset=".727" stop-color="#63009c"/><stop offset="1" stop-color="#5e00a1"/></linearGradient><linearGradient id="g550" gradientUnits="userSpaceOnUse" x1="1492.1" x2="1628.9"><stop offset="0" stop-color="#73008c"/><stop offset=".182" stop-color="#4100be"/><stop offset=".273" stop-color="#4000bf"/><stop offset=".636" stop-color="#6c0093"/><stop offset="1" stop-color="#6f0090"/></linearGradient><linearGradient id="g551" gradientUnits="userSpaceOnUse" x1="1492.1" x2="1628.9"><stop offset="0" stop-color="#5800a7"/><stop offset=".182" stop-color="#3800c7"/><stop offset=".455" stop-color="#660099"/><stop offset=".818" stop-color="#4e00b1"/><stop offset="1" stop-color="#5800a7"/></linearGradient><linearGradient id="g552" gradientUnits="userSpaceOnUse" x1="1492.1" x2="1628.9"><stop offset="0" stop-color="#3b00c4"/><stop offset=".182" stop-color="#2600d9"/><stop offset=".455" stop-color="#4200bd"/><stop offset="1" stop-color="#4600b9"/></linearGradient><linearGradient id="g553" gradientUnits="userSpaceOnUse" x1="1492.1" x2="1628.9"><stop offset="0" stop-color="#91006e"/><stop offset=".182" stop-color="#8f0070"/><stop offset=".364" stop-color="#a5005a"/><stop offset=".727" stop-color="#72008d"/><stop offset="1" stop-color="#8e0071"/></linearGradient><linearGradient id="g554" gradientUnits="userSpaceOnUse" x1="1492.1" x2="1628.9"><stop offset="0" stop-color="#61009e"/><stop offset=".273" stop-color="#3f00c0"/><stop offset=".545" stop-color="#3f00c0"/><stop offset=".818" stop-color="#5800a7"/><stop offset="1" stop-color="#4800b7"/></linearGradient><linearGradient id="g555" gradientUnits="userSpaceOnUse" x1="1492.1" x2="1628.9"><stop offset="0" stop-color="#4e00b1"/><stop offset=".182" stop-color="#5b00a4"/><stop offset=".364" stop-color="#890076"/><stop offset=".636" stop-color="#670098"/><stop offset=".909" stop-color="#670098"/><stop offset="1" stop-color="#5000af"/></linearGradient><linearGradient id="g556" gradientUnits="userSpaceOnUse" x1="1492.1" x2="1628.9"><stop offset="0" stop-color="#61009e"/><stop offset=".364" stop-color="#760089"/><stop offset=".455" stop-color="#71008e"/><stop offset=".727" stop-color="#3f00c0"/><stop offset="1" stop-color="#3e00c1"/></linearGradient><linearGradient id="g557" gradientUnits="userSpaceOnUse" x1="1492.1" x2="1628.9"><stop offset="0" stop-color="#4e00b1"/><stop offset=".182" stop-color="#4100be"/><stop offset=".364" stop-color="#1900e6"/><stop offset="1" stop-color="#2300dc"/></linearGradient><linearGradient id="g558" gradientUnits="userSpaceOnUse" x1="1492.1" x2="1628.9"><stop offset="0" stop-color="#74008b"/><stop offset=".273" stop-color="#4900b6"/><stop offset=".545" stop-color="#5c00a3"/><stop offset=".818" stop-color="#3c00c3"/><stop offset="1" stop-color="#5700a8"/></linearGradient><linearGradient id="g559" gradientUnits="userSpaceOnUse" x1="1492.1" x2="1628.9"><stop offset="0" stop-color="#3b00c4"/><stop offset=".182" stop-color="#3b00c4"/><stop offset=".455" stop-color="#5900a6"/><stop offset="1" stop-color="#4400bb"/></linearGradient><linearGradient id="g560" gradientUnits="userSpaceOnUse" x1="1492.1" x2="1628.9"><stop offset="0" stop-color="#4e00b1"/><stop offset=".182" stop-color="#65009a"/><stop offset=".545" stop-color="#770088"/><stop offset=".818" stop-color="#3000cf"/><stop offset=".909" stop-color="#3400cb"/><stop offset="1" stop-color="#5100ae"/></linearGradient><linearGradient id="g561" gradientUnits="userSpaceOnUse" x1="1492.1" x2="1628.9"><stop offset="0" stop-color="#9a0065"/><stop offset=".364" stop-color="#880077"/><stop offset=".545" stop-color="#9d0062"/><stop offset=".727" stop-color="#c70038"/><stop offset="1" stop-color="#c70038"/></linearGradient><linearGradient id="g562" gradientUnits="userSpaceOnUse" x1="1492.1" x2="1628.9"><stop offset="0" stop-color="#61009e"/><stop offset=".545" stop-color="#5300ac"/><stop offset=".818" stop-color="#6a0095"/><stop offset="1" stop-color="#660099"/></linearGradient><linearGradient id="g563" gradientUnits="userSpaceOnUse" x1="1492.1" x2="1628.9"><stop offset="0" stop-color="#3b00c4"/><stop offset=".091" stop-color="#1f00e0"/><stop offset=".182" stop-color="#1900e6"/><stop offset=".455" stop-color="#2600d9"/><stop offset=".818" stop-color="#1900e6"/><stop offset="1" stop-color="#4400bb"/></linearGradient><linearGradient id="g564" gradientUnits="userSpaceOnUse" x1="1492.1" x2="1628.9"><stop offset="0" stop-color="#4e00b1"/><stop offset=".364" stop-color="#3e00c1"/><stop offset="1" stop-color="#65009a"/></linearGradient><linearGradient id="g565" gradientUnits="userSpaceOnUse" x1="1492.1" x2="1628.9"><stop offset="0" stop-color="#3100ce"/><stop offset=".182" stop-color="#4400bb"/><stop offset=".545" stop-color="#4800b7"/><stop offset=".818" stop-color="#6a0095"/><stop offset="1" stop-color="#6f0090"/></linearGradient><linearGradient id="g566" gradientUnits="userSpaceOnUse" x1="1492.1" x2="1628.9"><stop offset="0" stop-color="#4e00b1"/><stop offset=".091" stop-color="#5d00a2"/><stop offset=".364" stop-color="#3e00c1"/><stop offset=".545" stop-color="#4900b6"/><stop offset=".636" stop-color="#4200bd"/><stop offset=".818" stop-color="#1900e6"/><stop offset=".909" stop-color="#1c00e3"/><stop offset="1" stop-color="#3900c6"/></linearGradient><linearGradient id="g567" gradientUnits="userSpaceOnUse" x1="1492.1" x2="1628.9"><stop offset="0" stop-color="#61009e"/><stop offset=".364" stop-color="#81007e"/><stop offset=".636" stop-color="#5b00a4"/><stop offset=".818" stop-color="#6b0094"/><stop offset=".909" stop-color="#62009d"/><stop offset="1" stop-color="#4600b9"/></linearGradient><linearGradient id="g568" gradientUnits="userSpaceOnUse" x1="1492.1" x2="1628.9"><stop offset="0" stop-color="#4e00b1"/><stop offset=".273" stop-color="#5e00a1"/><stop offset=".636" stop-color="#3500ca"/><stop offset="1" stop-color="#5500aa"/></linearGradient><linearGradient id="g569" gradientUnits="userSpaceOnUse" x1="1492.1" x2="1628.9"><stop offset="0" stop-color="#5700a8"/><stop offset=".091" stop-color="#70008f"/><stop offset=".182" stop-color="#74008b"/><stop offset=".364" stop-color="#5b00a4"/><stop offset=".636" stop-color="#80007f"/><stop offset=".818" stop-color="#4a00b5"/><stop offset=".909" stop-color="#3c00c3"/><stop offset="1" stop-color="#4200bd"/></linearGradient><linearGradient id="g570" gradientUnits="userSpaceOnUse" x1="1492.1" x2="1628.9"><stop offset="0" stop-color="#74008b"/><stop offset=".182" stop-color="#780087"/><stop offset=".545" stop-color="#a0005f"/><stop offset=".818" stop-color="#81007e"/><stop offset="1" stop-color="#7f0080"/></linearGradient><linearGradient id="g571" gradientUnits="userSpaceOnUse" x1="1492.1" x2="1628.9"><stop offset="0" stop-color="#61009e"/><stop offset=".182" stop-color="#5f00a0"/><stop offset=".364" stop-color="#4400bb"/><stop offset=".636" stop-color="#6a0095"/><stop offset=".818" stop-color="#6b0094"/><stop offset="1" stop-color="#970068"/></linearGradient><linearGradient id="g572" gradientUnits="userSpaceOnUse" x1="1492.1" x2="1628.9"><stop offset="0" stop-color="#61009e"/><stop offset=".091" stop-color="#6e0091"/><stop offset=".364" stop-color="#4a00b5"/><stop offset=".636" stop-color="#81007e"/><stop offset=".818" stop-color="#5b00a4"/><stop offset=".909" stop-color="#5500aa"/><stop offset="1" stop-color="#65009a"/></linearGradient><pattern id="sp" patternUnits="userSpaceOnUse" x="366" y="0" width="3.6" height="10"><rect x="0" y="0" width="0.85" height="10" fill="#fff" fill-opacity="0.3"/></pattern><mask id="bm" style="mask-type:alpha" maskUnits="userSpaceOnUse" x="360" y="360" width="1275" height="790"><use href="#bd"/></mask></defs>
<rect x="308.0" y="208.0" width="695.0" height="55.0" fill="url(#cb)" stroke="#000" stroke-width="4.00"/>
<path d="M427.0 208.0v20.0M427.0 263.0v-20.0" stroke="#000" stroke-width="4.00" fill="none"/>
<text x="427.0" y="168.8" font-size="50" text-anchor="middle">0.25</text>
<path d="M619.0 208.0v20.0M619.0 263.0v-20.0" stroke="#000" stroke-width="4.00" fill="none"/>
<text x="619.0" y="168.8" font-size="50" text-anchor="middle">0.50</text>
<path d="M811.0 208.0v20.0M811.0 263.0v-20.0" stroke="#000" stroke-width="4.00" fill="none"/>
<text x="811.0" y="168.8" font-size="50" text-anchor="middle">0.75</text>
<text x="1003.0" y="168.8" font-size="50" text-anchor="middle">1.00</text>
<text x="656.5" y="97.6" font-size="50.15" text-anchor="middle">Participation Ratio</text>
<g id="bd" fill="none" stroke-width="4.3" stroke-linecap="butt" stroke-linejoin="round">
<path d="M366,385.8l35.4-5.9 29.7-4.4 29.8-3.7 6-0.3 6,0.1 101.6,7.5 8.8,1.8 43.3,12.3 14.6,3.6 11.9,1.9 11.9,1.2 6,0.3 9-0.3" stroke="url(#g1)"/>
<path d="M366,406.8l44.6-4.6 38.6-4.7 14.9-1.4 44.9-2.1 20.9-0.3 15,0.2 20.9,1.5 11.8,1.5 11.9,1.9 14.6,3.1 26,7.3 17.4,4.1 20.6,4 11.9,1.1" stroke="url(#g2)"/>
<path d="M366,435.1l18,0 23.8-1 12-1 9.2-1.4 11.2-3 11.3-4 22.2-9 21.3-9.3 6.3-2.4 8.7-2.4 8.7-1.7 6-0.8 9-0.6 20.9,0.3 9,0.8 7.7,1.2 30.4,6.8 34.8,8.7 30.4,8.2 13.1,2.9" stroke="url(#g3)"/>
<path d="M366,435.1l41.8,1 38.9,0.3 86.7-1.2 95.8,0 50.8-0.9" stroke="#c5003a"/>
<path d="M366,439.1l272.1,0 41.9-0.8" stroke="url(#g4)"/>
<path d="M366,442.7l17.9-0.4 14.9,0.5 10.2,1.2 34,5.6 14.9,1.1 38.7,0.1 77.5-0.6 14.9-1 23.7-3.2 20.5-3.8 17.1-4.2 9-1.9 11.8-1.8 8.9-0.7" stroke="url(#g5)"/>
<path d="M366,456.2l17.9-0.7 14.8-1.4 10.3-1.9 47.8-11.2 8.9-1.2 20.7-1.8 41.7-0.7 151.9-0.9" stroke="url(#g6)"/>
<path d="M366,457.3l74.7-0.7 101.7,0.7 137.6-0.3" stroke="#c5003a"/>
<path d="M366,458.5l74.7-1.9 128.6,1.5 110.7-1.3" stroke="#b90046"/>
<path d="M366,464.8l17.7-2 17.7-2.6 11.7-2.2 17.4-4.2 8.8-1.5 5.5-0.6 21.2-0.7 83.4-0.1 29.8-0.4 23.8-0.7 11.9-0.6 14.8-1.2 50.3-5.9" stroke="url(#g7)"/>
<path d="M366,468.3l26.8-2.4 20.9-1.3 44.9-1.5 35.9-0.6 32.9,0.4 77.8,2.8 74.8,1.8" stroke="url(#g8)"/>
<path d="M366,482.2l23.8-0.6 26.7-1.4 14.9-1.4 23.6-3.2 32.6-2.5 32.8-1 32.7,0 17.9,0.6 53.4,4.1 35.3,5.6 11.7,2.4 8.6,2.3" stroke="url(#g9)"/>
<path d="M366,466.7l35.4,4.8 8.8,1.5 14.5,3 8.8,1.3 35.6,3.2 35.7,2.3 26.7,0.7 23.8-0.4 20.8-1.2 26.6-2.8 20.9-1 11.9,0.2 26.7,2.1 17.8,0.8" stroke="url(#g10)"/>
<path d="M366,488.1l248.8-0.5 15-1 11.9-1.3 38.3-7.3" stroke="url(#g11)"/>
<path d="M366,492.2l221.3,1 26.9-0.5 65.8-2.2" stroke="url(#g12)"/>
<path d="M366,499.9l173.6,1 33-0.5 26.9-1.3 67.4-6.6 13.1-0.6" stroke="#c4003b"/>
<path d="M366,512.3l172.9-1.6 17.8-0.9 14.6-1.5 15-2.3 17.6-3.4 14.8-3.8 15.8-2.3 30.8-6.1 14.7-2.2" stroke="url(#g13)"/>
<path d="M366,528.1l21-0.9 17.9-1.2 47.1-4.6 36.6-2.7 23.9-1.3 24-0.4 15,0.3 18,1.1 29.9,3 41.7,4.9 20.9,1.5 18,0.6" stroke="#b4004b"/>
<path d="M366,553.4l113.7,1 62.8,0.2 29.9-1.3 23.8-1.9 12-0.6 41.9-0.8 29.9,0" stroke="url(#g14)"/>
<path d="M366,555.7l158.4,4.7 24,0 50.8-0.7 80.8,0" stroke="url(#g15)"/>
<path d="M366,566l179.4-2.9 134.6,0.5" stroke="#ab0054"/>
<path d="M366,572.8l68.8-1.6 71.9-0.1 41.8,0.8 12,0.8 26.6,2.8 30.1,1.4 32.9,0 29.9-1.4" stroke="url(#g16)"/>
<path d="M366,576.3l83.8-1.2 80.7,0.3 27,0.5 29.9,1.2 50.7,3.3 20.9,0.3 21-0.5" stroke="url(#g17)"/>
<path d="M366,580.2l77.8,0.2 122.7,0.9 17.9,0.9 68.7,5.3 11.9,0.5 15,0.1" stroke="#d4002b"/>
<path d="M680,399.9l53-7.9 23.6-3.2 20.7-2.4 14.9-0.6 20.8,0.5 17.8,1.8 35.3,5.6 35.2,7.1 11.6,1.7 8.9,0.8 12.2,0.2 26.5-1.7 29.7-1.1 29.8-0.3" stroke="url(#g18)"/>
<path d="M680,418.4l8.9,0.3 6-0.4 35.3-5.4 23.6-2.9 17.8-1.8 14.9-0.9 20.8-0.2 11.9,0.5 11.9,1.4 38.2,5.8 23.5,4.5 8.5,1 6.2,0 8.9-0.8 38.3-6.2 14.8-2 23.7-2 26.8-1.4" stroke="url(#g19)"/>
<path d="M680,427.4l17.7,2 20.8,2 17.8,1.3 17.8,0.8 23.8,0.6 17.9,0 29.7-0.5 17.9-0.7 17.8-1.4 17.6-2.6 23.4-4.5 31.8-7 20.7-3.5 14.8-1.8 17.8-1.6 17.8-1.2 14.9-0.6" stroke="url(#g20)"/>
<path d="M680,434.3l119.7,0.8 47.9,1.3 20.9-0.1 9-0.6 20.8-2.2 29.9-2.1 11.9-1.2 50.4-7 29.5-5" stroke="url(#g21)"/>
<path d="M680,433.6l35.8,2.5 26.8,1.4 26.8,1 23.9,0.3 86.5-1.1 140.2-3.7" stroke="url(#g22)"/>
<path d="M680,438.3l53.7,1.4 47.7,0.6 32.8-0.1 86.5-1.4 62.6,0.1 56.7,0.7" stroke="url(#g23)"/>
<path d="M680,436.4l17.3,4.5 17.5,4.1 29.2,5.8 11.8,1.7 14.9,1.7 11.9,1 11.9,0.5 17.9-0.7 23.7-2.6 17.7-2.6 47.1-8 16.2-2.2 10.4-1 14.9-0.6 29.8,0 23.9,0.5 23.9,1.1" stroke="url(#g24)"/>
<path d="M680,442.1l32.3,5.5 26.2,5.3 11.8,2 20.7,2.2 20.8,1.1 20.9-0.6 32.6-2.7 73.7-10.9 14.8-1.4 9-0.1 5.9,0.2 71.3,5.1" stroke="url(#g25)"/>
<path d="M680,456.8l110.4-0.1 83.5-0.9 68.6-1.5 77.5-2.9" stroke="url(#g26)"/>
<path d="M680,457l101.4,1.6 86.5,0.7 74.5-0.3 77.6-1.3" stroke="url(#g27)"/>
<path d="M680,467.5l29.8-2.9 23.8-1.3 17.9,0.1 44.7,1.1 38.8,0.4 65.6-1.6 119.4-1.6" stroke="url(#g28)"/>
<path d="M680,467.5l53.9-0.2 64,0.4 25.9,0.6 24,1 23.8,2.1 17.9,2.3 11.8,2.2 14.5,3.7 11.7,2.4 20.7,3.3 16.3,1.7 19.5,1.5 36,1.6" stroke="url(#g29)"/>
<path d="M680,478l14.5-3.6 14.8-2.5 17.8-2 20.9-1.2 272-7" stroke="url(#g30)"/>
<path d="M680,481.2l122.3,1.1 50.7,1 20.9,0.1 23.9-0.7 77.4-4.4 17.9-0.1 26.9,0.9" stroke="url(#g31)"/>
<path d="M680,487.1l125.3,0.7 80.5-0.3 62.6-1.1 71.6-2.6" stroke="url(#g32)"/>
<path d="M680,488.2l8.7,2.8 2.9,0.6 4.2,0.4 70.3,0.2 110.7-0.9 35.8-0.6 29.8-1.3 35.8-2.3 41.8-3.3" stroke="url(#g33)"/>
<path d="M680,491.9l26.7,2.8 41.7,3.4 20.9,1.3 15,0.4 11.9-0.1 17.9-0.8 86.4-5.6 23.9-0.9 20.9-0.2 20.9,0.4 53.8,2.3" stroke="url(#g34)"/>
<path d="M680,490.5l14.3,4.5 11.5,3.2 14.5,3.3 14.6,2.9 20.6,3.6 17.8,2.5 8.9,0.9 12,0.5 14.9-0.1 11.9-1 26.6-3.8 47.1-8 14.8-1.8 17.9-1.5 20.8-0.8 20.9,0.1 23.9,1.1 27,1.9" stroke="url(#g35)"/>
<path d="M680,528.4l191.2-0.4 32.8-1.7 35.8-2.5 20.9-0.5 11.9,0.4 11.9,1.2 20.8,2.9 14.7,2.6" stroke="url(#g36)"/>
<path d="M680,550l83.7,2.7 41.8,0.8 18-0.1 14.6-0.8 15.2-1.6 77.1-10.1 14.9-1.6 17.9-0.9 17.9-0.4 17.9,0.1 21,0.7" stroke="url(#g37)"/>
<path d="M680,559.7l86.5-3.9 41.7-1.3 23.9,0.8 50.6,4.1 17.9,1.1 35.8,0.8 83.6,0.8" stroke="url(#g38)"/>
<path d="M680,563.6l62.6,1.9 50.7,0.5 86.5-0.5 140.2-1.9" stroke="url(#g39)"/>
<path d="M680,575.5l65.6-2.3 65.6-0.9 59.7,0.9 50.6,2.7 23.9,0.6 35.8,0 38.8-1" stroke="url(#g40)"/>
<path d="M680,580.2l38.8-1.9 35.7-1.3 32.8-0.6 35.8-0.1 41.8,0.6 65.6,2.5 89.5,2.4" stroke="url(#g41)"/>
<path d="M680,588.1l29.7-3.1 38.8-3.2 26.8-1.6 26.9-0.8 18,0.3 23.9,1.4 17.8,1.5 35.6,4.4 14.9,1.1 18,0.7 20.9,0.3 23.9-0.4 23.9-1.2 20.9-1.7" stroke="#d4002b"/>
<path d="M1020,400.4l11.7,2.1 20.8,3.2 9,1 5.9,0.1 11.9-1 32.6-4.7 11.9-1.4 20.9-1.3 17.9-0.2 12,0.8 17.8,1.7 50.4,6.4" stroke="url(#g42)"/>
<path d="M1020,407.9l98.1-1.5 11.9,0.5 23.7,1.7 32.7,0.9 11.9-0.2 44.5-2.2" stroke="url(#g43)"/>
<path d="M1020,408.7l23.9-1.6 17.8,0.1 11.9,1.1 35.5,4.6 23.7,2.7 35.6,3.7 38.7,2.4 17.8,0.4 17.9,0.1" stroke="url(#g44)"/>
<path d="M1020,418.2l23.5-4.3 20.6-4.2 6.8-1 5-0.3 5.9,0.4 6,0.8 17.8,3.7 8.4,1.4 36.2,4.4 17.9,1.8 17.9,1.3 20.9,1 18,0.2 17.9-0.4" stroke="url(#g45)"/>
<path d="M1020,434l12.1,1.9 9,0.9 9,0.5 8.9,0 8.9-0.6 5.9-0.8 14.5-3.6 3.9-0.6 14-1.2 12,0 9,0.6 8.9,1.3 26.2,5.9 11.8,2.3 9.8,1.3 17,1.2 41.9,1.2" stroke="url(#g46)"/>
<path d="M1020,439.6l12.1-2.2 12-1.4 8.9-0.4 8.9,0.3 9,1.3 20.1,5.3 17.6,3.4 14.8,1.7 20.9,0.9 15,0 17.9-0.4 65.6-3.8" stroke="url(#g47)"/>
<path d="M1020,447.8l26.7,2 17.8,0.9 92.2,2.3 43.3,2.4 42.8,1.2" stroke="url(#g48)"/>
<path d="M1020,451.4l23.8-0.4 20.8,0.2 44.5,2.4 41.6,1.6 50.5,1.5 41.6,0.6" stroke="url(#g49)"/>
<path d="M1020,457.7l101.4,0.1 41.7,1 9,0.6 8.8,1 26.4,5 17.7,2.8 8.9,0.9 8.9,0.5" stroke="url(#g50)"/>
<path d="M1020,461.7l14.9-1.7 14.9-1.2 11.9-0.4 11.9,0.2 8.9,0.5 8.9,0.9 68,9.7 14.9,1.5 8.9,0.3 8.9-0.1 50.7-1.8" stroke="url(#g51)"/>
<path d="M1020,479.1l23.7,1.6 23.8,1.1 20.8,0.4 59.5,0.1 95,3.9" stroke="url(#g52)"/>
<path d="M1020,483.8l47.5-1.2 32.7-0.2 26.8,0.3 29.7,0.8 41.6,2.6 44.5,1.7" stroke="url(#g53)"/>
<path d="M1020,483.8l17.7,3 11.8,1.6 11.8,1.1 8.9,0.3 68.5-0.2 104.1-1.8" stroke="url(#g54)"/>
<path d="M1020,490.1l50.9,0.8 62,0.2 53.5-0.5 56.4-1.3" stroke="url(#g55)"/>
<path d="M1020,494.9l29.7,1 20.8,0.2 172.3-1.2" stroke="url(#g56)"/>
<path d="M1020,498l53.5-1.1 68.3,0.4 26.8-0.2 74.2-1.4" stroke="url(#g57)"/>
<path d="M1020,530.4l11.7,2.4 11.7,1.9 11.9,1.5 11.9,0.9 11.9,0.1 29.8-1.2 23.8,0.5 23.9,1.1 44.6,3.2 41.6,2" stroke="url(#g58)"/>
<path d="M1020,538.8l32.7-0.7 35.7,0.1 25.6,0.9 42.7,3.2 38.6,1.9 20.8,0.2 26.7-1" stroke="#b0004f"/>
<path d="M1020,562.1l23.7,1.5 20.8,0.6 29.8-0.7 65.3-2.3 23.8-0.6 29.7,0 29.7,1.1" stroke="url(#g59)"/>
<path d="M1020,563.6l50.9,1.3 79.9,0.4 35.6-0.7 56.4-2.2" stroke="#c70038"/>
<path d="M1020,563.6l14.5,4.2 11.7,2.8 11.8,2 8.8,0.9 83.5,0.7 92.5,1.3" stroke="url(#g60)"/>
<path d="M1020,575.5l26.7-0.9 20.8-0.2 175.3,1.9" stroke="url(#g61)"/>
<path d="M1020,581.8l26.7-1.2 20.8-0.6 83.2-0.5 92.1-1.2" stroke="url(#g62)"/>
<path d="M1020,585.8l26.6-3.5 20.7-1.5 20.8-0.2 62.5,0.2 92.2-1.7" stroke="url(#g63)"/>
<path d="M1242.8,407.1l10.8-4.4 10.9-4 11-3.6 14-3.9 8.6-1.9 11.4-1.9 8.7-1 11.6-0.6" stroke="#5d00a2"/>
<path d="M1242.8,407.1l5.4,2.5 6.8,2.3 4.5,1.1 3,0.5 2.9,0 43.8-5.8 8.8-0.7 11.8-0.2" stroke="url(#g64)"/>
<path d="M1242.8,421.8l8.9-1.8 4.9-0.2 4,0.3 5.5,1.3 12.6,6.3 9.6,3.7 6.2,1.8 5.4,1 8.9,0.9 12,0.3 9-0.3" stroke="url(#g65)"/>
<path d="M1242.8,423l23.3,4.6 43,10.8 8.8,1.1 11.9,0.1" stroke="url(#g66)"/>
<path d="M1242.8,444.3l20.3-1.3 20.3-1.7 46.4-1.7" stroke="#b90046"/>
<path d="M1242.8,444.3l8.9,0.3 8.7,0.9 46.8,9.1 10.9,1.4 11.7,0.9" stroke="url(#g67)"/>
<path d="M1242.8,456.6l51.4,0.1 35.6,0.6" stroke="url(#g68)"/>
<path d="M1242.8,457.3l66.7,3.2 20.3,0.4" stroke="url(#g69)"/>
<path d="M1242.8,469.6l17.5-1.3 25.7-4.2 14.7-1.6 11.7,0.2 8.7,0.9 8.7,1.2" stroke="url(#g70)"/>
<path d="M1242.8,469.9l47.5-0.7 39.5-1.5" stroke="#bf0040"/>
<path d="M1242.8,486.7l11.4-3.7 8.6-2.3 46.5-10 20.5-3.5" stroke="url(#g71)"/>
<path d="M1242.8,487.3l19.8-2.2 15.8-1.2 27.7-1 23.7-0.3" stroke="url(#g72)"/>
<path d="M1242.8,487.8l87,0" stroke="#d90026"/>
<path d="M1242.8,489.3l39.6,2.3 47.4,0.9" stroke="url(#g73)"/>
<path d="M1242.8,494.9l19.8,2.3 15.8,1.3 27.7,0.9 23.7,0.2" stroke="#cc0033"/>
<path d="M1242.8,495.7l48.7,13.1 8.8,1.5 11.7,1.4 8.9,0.5 8.9,0.1" stroke="#c3003c"/>
<path d="M1242.8,542.8l28.6-7.4 20.2-4.5 8.8-1.3 11.7-1.2 17.7-0.6" stroke="url(#g74)"/>
<path d="M1242.8,543.4l25.8,5.5 20.3,3.3 20.4,1.6 20.5,0.4" stroke="#9f0060"/>
<path d="M1242.8,561.7l20.1-2 23.1-3.2 11.8-1.2 14.5-0.9 17.5,0.2" stroke="url(#g75)"/>
<path d="M1242.8,562.4l39.6,2.2 47.4,1.4" stroke="url(#g76)"/>
<path d="M1242.8,575.5l87-2.4" stroke="url(#g77)"/>
<path d="M1242.8,576.3l87-0.8" stroke="url(#g78)"/>
<path d="M1242.8,578.3l87,0.4" stroke="url(#g79)"/>
<path d="M1242.8,579.1l87,1.9" stroke="url(#g80)"/>
<path d="M1329.9,401.9l11.9-0.8 11.8-1.3 52.7-8.9 14.6-2.3 8.9-1 11.8-0.9 17.8-0.7 17.8-0.3 14.9,0.1" stroke="url(#g81)"/>
<path d="M1329.9,415.4l20.7-0.1 17.7-0.7 76.6-6.4 23.6-0.7 23.6-0.4" stroke="#b80047"/>
<path d="M1329.9,424.5l20.7,0.2 17.8,0.9 58.7,6.6 17.7,1.7 26.6,1 20.7,0.2" stroke="url(#g82)"/>
<path d="M1329.9,434l67.3,0.8 94.9,0.3" stroke="url(#g83)"/>
<path d="M1329.9,437.2l63.3,1.5 98.9,0.4" stroke="url(#g84)"/>
<path d="M1329.9,439.6l17.9,0 20.8,0.5 26.7,1.4 14.8,1.2 10.6,1.6 50.7,10.1 8.9,1.2 11.8,1" stroke="url(#g85)"/>
<path d="M1329.9,447.9l29.6,0.5 23.6,1.2 29.5,2 53,4.4 26.5,1.7" stroke="url(#g86)"/>
<path d="M1329.9,455.4l106.6,1.5 55.6,1.6" stroke="url(#g87)"/>
<path d="M1329.9,457.7l38.4,0.3 38.4,1.2 26.5,1.5 58.9,4.1" stroke="url(#g88)"/>
<path d="M1329.9,460.1l50.2,2 112,5.1" stroke="url(#g89)"/>
<path d="M1329.9,479.9l11.9,0.3 11.8-0.1 20.7-1.4 26.6-2.2 47.2-4.8 44-6.1" stroke="url(#g90)"/>
<path d="M1329.9,482.2l51.4,0.3 110.8,0.1" stroke="url(#g91)"/>
<path d="M1329.9,483.8l59.1,2.4 59.6,1.2 43.5,0.4" stroke="#d0002f"/>
<path d="M1329.9,488.6l41.3,1.7 38.3,1.2 41.3,0.7 41.3,0.3" stroke="url(#g92)"/>
<path d="M1329.9,494.1l20.7-1 17.7,0 100.2,6.2 23.6,0.3" stroke="#cf0030"/>
<path d="M1329.9,499.6l32.6,0.1 20.7,0.6 11.9,0.7 11.8,1.3 61.5,8.9 8.9,0.8 14.8,0.3" stroke="#c90036"/>
<path d="M1329.9,523.3l61.9,3.4 38.3,1.7 26.6,0.3 35.4-0.6" stroke="url(#g93)"/>
<path d="M1329.9,531.2l14.9,1.2 8.9,1.2 67,15 11.8,2.1 11.9,1.3 17.8,1.2 14.9,0.5 15,0" stroke="url(#g94)"/>
<path d="M1329.9,559.7l29.6,1.2 20.6,0 32.4-1.9 58.9-4.2 20.7-0.2" stroke="url(#g95)"/>
<path d="M1329.9,562.1l29.5-0.1 23.6,0.4 50.1,1.9 59,1.7" stroke="url(#g96)"/>
<path d="M1329.9,564.4l83.1,0.6 79.1,1.3" stroke="url(#g97)"/>
<path d="M1329.9,575.5l162.2-2.4" stroke="url(#g98)"/>
<path d="M1329.9,577.9l71.2-0.9 91-0.7" stroke="url(#g99)"/>
<path d="M1329.9,585l47.2-2.6 53-3.4 26.6-0.6 35.4,0.3" stroke="url(#g100)"/>
<path d="M1329.9,588.9l20.7-0.4 23.6-1.2 38.2-4 20.6-1.4 29.5-0.9 29.6,0" stroke="url(#g101)"/>
<path d="M1492.1,385.8l23.9,0.3 23.9,1.7 23,2.8 36.2,5.3 29.7,3.3" stroke="url(#g102)"/>
<path d="M1492.1,407.1l38.7,0.8 68.3,3.7 11.9,0.1 17.8-0.6" stroke="url(#g103)"/>
<path d="M1492.1,434.8l56.6,0 23.8-0.5 11.9-0.8 18-2.6 14.5-1.1 11.9-0.5" stroke="url(#g104)"/>
<path d="M1492.1,438.8l32.8,0.4 23.8-0.5 14.2-0.7 65.9-4.8" stroke="url(#g105)"/>
<path d="M1492.1,442.7l29.8,0.3 26.8-0.4 17.8-0.9 28-2.1 34.3-1.6" stroke="url(#g106)"/>
<path d="M1492.1,456.6l11.8-0.1 8.8-0.7 75.4-13.1 40.7-6.3" stroke="url(#g107)"/>
<path d="M1492.1,457.7l18-0.4 14.9-1.1 76.9-11.2 12-0.6 14.9-0.1" stroke="url(#g108)"/>
<path d="M1492.1,458.5l20.9,0 14.8-0.6 47.5-3.9 53.5-3.4" stroke="url(#g109)"/>
<path d="M1492.1,464.8l38.7-1.5 56.4-3.6 17.8-0.4 23.8,0" stroke="url(#g110)"/>
<path d="M1492.1,467.2l136.7-1.6" stroke="#ae0051"/>
<path d="M1492.1,465.6l44.9,1.9 20.9,1.5 11.8,1.6 23.6,4.3 35.5,5" stroke="url(#g111)"/>
<path d="M1492.1,482.6l82-0.5 54.7-1.4" stroke="url(#g112)"/>
<path d="M1492.1,487.8l136.7-1.6" stroke="url(#g113)"/>
<path d="M1492.1,492.5l78.1-0.9 27.4-1.2 31.2-1.8" stroke="url(#g114)"/>
<path d="M1492.1,499.6l17.9-0.1 26.9-0.9 17.9-0.7 12-0.9 14.8-1.8 20.6-3.4 26.6-4" stroke="url(#g115)"/>
<path d="M1492.1,512.3l11.8-0.3 8.7-0.8 69.3-13.7 8.8-0.7 38.1-1.1" stroke="url(#g116)"/>
<path d="M1492.1,528.1l136.7-0.3" stroke="#b60049"/>
<path d="M1492.1,553.7l44.6-0.8 56.5-2.3 35.6-0.7" stroke="url(#g117)"/>
<path d="M1492.1,554.6l56.5,2 47.5,3.2 14.9,0.2 17.8-0.3" stroke="url(#g118)"/>
<path d="M1492.1,566l78.1-0.9 58.6-1.5" stroke="url(#g119)"/>
<path d="M1492.1,566.3l136.7-0.3" stroke="url(#g120)"/>
<path d="M1492.1,573.1l82,0.1 23.5,0.7 31.2,1.6" stroke="#d0002f"/>
<path d="M1492.1,576.3l78.1,0.9 58.6,2.3" stroke="#dd0022"/>
<path d="M1492.1,578.7l58.6,1.5 78.1,0" stroke="url(#g121)"/>
<path d="M1492.1,581l47.6,1.3 53.5,2.6 35.6,1.4" stroke="url(#g122)"/>
<path d="M365.6,1071.1l15.7-8.6 37.8-24.4 10.3-6.1 10.6-5.7 8.1-3.7 8.6-3 5.9-1 8.9-0.3 15,0.6 23.9,2.4 11.9,0.9 38.9,1.8 5.9,1.1 11.7,3 4.6,1.7 3.6,1.7 7.6,4.9 7,5.7 4.1,4.3 3.6,4.9 2.6,5.4 1,2.8 1.9,14.9 2,8.7 2.7,5.4 3.5,4.9 2.1,2.2 5.1,4.4 6.9,4.5 8.1,4 8.6,2.6 6,0.7 3.2-0.1 5.7-1 11.2-4.2 27.6-11.7 11.3-3.9 11.6-3.1 14.6-3.2 44.3-7.6 8.7-2.2" stroke="url(#g123)"/>
<path d="M365.6,1071.1l42-16.1 28.2-10.2 23-6.9 26.1-6.8 17.5-4 14.8-2.4 9-0.6 21.2-0.7 6.1,0 6.5,0.8 1.9,0.7 2.5,1.7 6.2,6.7 3.5,5 9.5,15.3 1.3,2.6 1.5,4 2.5,16.6 2.2,8.7 1.3,2.8 2.7,4.7 4.1,5 8.4,8.6 6.8,6 4.9,3.6 5.2,2.9 8.3,3.4 5.8,1.5 8.9,1.2 9,0.6 18-1 20.1-2.6 12.4-2.6 14.3-4.5 8.4-3.4 13.5-6.6 18.3-10.2 23.2-13.8 13.3-6.9" stroke="url(#g124)"/>
<path d="M365.6,1071.1l66.3-23.2 10.1-3.2 34.7-9.1 13.7-2.9 9.8-1.5 14.9-1.5 14.9-0.6 12,0.3 17.9,1.5 2.8,0.8 5.6,2.3 15.9,8.4 5.8,1.6 6,0.4 5.9-0.6 11.6-3.1 16.7-2.7 18.3-5.3 11.7-2.3 23.7-3.1 17.9-1.7 9-0.5 2.9,0.1 6,1 5.7,1.8 8.3,3.3 25.3,12.5 23.4,12.9 7.3,3.3 8.3,3.1" stroke="url(#g125)"/>
<path d="M365.6,1071.1l17.7-2.8 13.5-1.7 25.1-2.2 32.8-2.2 14.9-0.7 18-0.3 17.9-0.2 32.8,0.4 6-0.8 17.4-4.2 10.6-2 4.2-0.5 4.6,0.2 4,1.5 1.9,1.1 3.4,2 2.1,2.1 1.9,5.7 3.1,13.6 1.7,3.6 5.3,7.2 4.2,4.3 6.8,5.9 4.9,3.5 5.1,3 5.5,2.4 5.7,1.9 5.8,1.3 5.9,0.9 9,0.5 6-0.1 5.9-0.6 8.6-2.6 14-5.5 2.7-1.7 4-4.1 5.6-7.1 2.9-5.2 1.1-2.8 1.5-5.8 2.6-14.7 2.2-5.5 3-5.2 1.8-2.5 4-4.4 4.3-4 17-12.3 12.7-7.8 10.6-5.6 13.5-6.5 8.2-3.6 8.4-3" stroke="url(#g126)"/>
<path d="M365.6,1063.1l11-0.7 7.3-1.5" stroke="url(#g127)"/>
<path d="M365.6,1004.6l176.3,0 8.8,1.6 2.9,0.8 2.4,1.4 4,3.8 2.9,1.8 20.6,12.3 11.6,5.8 9.4,5.6 10,6.6 7,5.5 4.3,4.2 1.9,2.4 3.2,5 3.6,8.2 3.9,12.8 0.9,1.2 2.3,1.9 10.2,6.5 5.5,2.5 5.9,1.2 5.9,0.2 6-1.1 5.6-2.1 2.7-1.5 2.1-2.1 1.8-2.4 1.3-2.7 0.9-2.8 1.6-7 1.4-10.7 2.1-8 2.7-6.1 2.9-5.2 5.3-7.3 6-6.6 10.8-10.3 11.2-9.8 7.9-6.2 4.2-2.7 5.5-2 20.1-5.8 5.9-1.2 8.9-1 12-0.1" stroke="url(#g128)"/>
<path d="M365.6,1007l35.7,1.6 71.5,1.3 17.8,1.8 23.2,3.5 21.2,2 14.8,1.8 14.6,3 26,6.6 39.8,7 7,1.9 28.2,9.8 25.1,9.4 14.5,4.2 5.4,1.9 2.6,1.4 4.7,3.9 7.8,9.1 2.4,1.4 2.9,0.8 14.9,2.3 5.9,0.7 9,0.1 8.9-0.6 9-0.8 8.7-1.6 5.5-2 5.3-3" stroke="url(#g129)"/>
<path d="M365.6,1016.7l59.8-0.7 23.9-0.7 8.9-0.6 8.9-1.3 11.7-2.4 23.3-3.4 15.1-2.8 55.1-13.6" stroke="url(#g130)"/>
<path d="M560,1008.1l29.4-1 11.7-0.7 75.9-9.4" stroke="#6e0091"/>
<path d="M624.4,1004.6l35.2,3.7 20.5,2.6 20.3,3.1 9,0.8 11.9,0.4 14.2-0.6 18.2,0 28.6,1.7 15.7,0.4" stroke="url(#g131)"/>
<path d="M630.2,1001.7l26.6,0.7 23.6,1.8 61.5,8.9 20.6,2.4 17.8,0.8 17.7,0" stroke="url(#g132)"/>
<path d="M560,1013.4l14.7,2.5 11.9,1.5 12,0.5 8.9-0.6 5.2-1 35.7-8.3 16.9-3.4 32.3-9.2 20.4-4.8" stroke="url(#g133)"/>
<path d="M560,994.7l11.9-1.2 9-0.2 53.4,4.9 11.9,0.8 9,0.2 8.9-0.2 12-0.7 24.3-3 29.1-2.2 11.9-0.1 20.9,1.4 8.3,0.3 12.5-0.4 14.9-1.4" stroke="url(#g134)"/>
<path d="M758.9,997l39.1,7" stroke="#b70048"/>
<path d="M735.5,1002.9l23.9-1.2 23.9-0.6 5.9-0.8 8.8-2.1" stroke="url(#g135)"/>
<path d="M798,1074.2l13.6,6.1 19.4,11.5 22.2,11.7 16.3,7.3 19.4,7.5 17.1,5.2 11.6,2.6 8.9,1.5 8.8,1 6,0.2 12.5-0.7 8.2-1.3 5.9-1.3 5.7-1.6 8.4-3.2 6.9-3.2 6.4-3.4 5-3.3 4.7-3.7 4.4-4 4-4.4 3.8-4.6 3.1-5.1 2.5-5.4 1.2-3.5 3.4-16.8 1.3-2.7 2.3-3.9 3-3.3 5.2-3.7 5-2.4 5.8-1.7" stroke="url(#g136)"/>
<path d="M798,1074.2l5.2,3.1 2.7,1.1 8.7,1.9 8.9,0.5 17.9-0.2 8.8,1 5.9,1 17.2,4.8 28.1,9.9 11.5,3.3 5.8,1.3 8.8,1.1 8.9,0.4 6-0.3 8.8-1.4 8.7-2.2 8.5-2.9 5.5-2.5 2.5-1.6 2.2-1.9 3.8-4.6 2.8-5.4 1.4-4 1.9-10.4 2-5.6 1.7-2.5 4.2-4.2 10.1-8.9 8.4-6.2 5.1-3 10.7-5 19.3-8" stroke="url(#g137)"/>
<path d="M798,1004l3.7,1.2 10.1,4.6 18.8,9.2 10.5,5.6 10.1,6.4 21.5,16.7 4.5,3.8 1.8,2 3,5.4 2.4,8.7 1.4,11.8 0.7,3 3,5.9 3.4,4.1 6.9,5.8 4.8,3.5 7.6,4.9 7.8,4.4 8.2,3.8 5.5,2.2 5.8,1.7 5.9,1.2 5.9,0.5 6,0 6-0.6 5.8-1.5 8.1-3.1 8.4-4 7.7-4.6 4.9-3.4 4.5-4 4.2-4.3 1.8-2.4 3.2-5.1 2.5-5.4 0.9-2.9 1.7-7.2 1.2-7 1-3.3 2.5-4.9 2-2.9 2.2-2.1 4-3.2 5.9-3.4 8.4-3.3 5.8-1.5" stroke="url(#g138)"/>
<path d="M798,1073.3l15.4-3.1 14-1.8 8.7-1.7 5.8-1.6 14.2-4.7 25.3-9 2.9-0.8 6.3-0.3 2.6,0.4 2.8,1.3 2.4,1.9 4,4.4 2.6,5.4 4.4,14.2 1.6,2.6 3,3.1 4,2.5 3.1,1 2.7,0.6 4.3,0 4.6-0.8 5.6-1.9 5.3-2.9 2.1-2.2 3.2-5 1.4-3 2.3-7 2.5-3.5 6.5-6.1 6.3-4.5 6.2-3.8 5.3-2.8 8.3-3.3 11.4-3.6 17.3-4.6 8.5-2.7 14.1-5 11-4.6" stroke="url(#g139)"/>
<path d="M798,1062.8l9.6-4.9 17.5-10.6 17.6-9.3 13-5.9 5.7-2.1 2.9-0.7 3-0.3 4.6,0.2 4.3,0.8 2.8,1 2.7,1.4 7.2,5.2 5.2,3.2 2.8,1.1 2.8,0.4 6-1 17.1-5.2 14.6-3.2 51.5-6.6 10.5-1.1 12.9-0.7 22.9,0.6 5.9-0.3 8.9-0.9" stroke="url(#g140)"/>
<path d="M798,1016.3l20.8-0.8 20.8-1.3 62.2-6.1 9-0.6 5.9,0 74.2,5.3 29.6,3.4 29.5,4.2" stroke="url(#g141)"/>
<path d="M798,1004l11.7-2.2 9.6-0.7 11.2,0.3 12.2,1.5 8.4,1.6 5.7,1.7 3.4,1.4 12.7,6.3 10.9,4.8 5.8,1.6 5.9,0.7 14.8,0.8 14.9,0 50.5-3.1 29.7-1.3 9,0.1 11.8,0.6 23.8,2.3" stroke="url(#g142)"/>
<path d="M798,992.9l9,0 11.9,0.6 11.9,1.3 8.9,1.4 8.8,2 17.1,5.7 11.5,3.2 11.7,2.7 9,1.3 6,0.1 5.9-0.4 32.7-5 8.9-0.7 74.8,4.9 23.9,1.1" stroke="url(#g143)"/>
<path d="M798,998.2l38.4,5.1 41.2,6.8 8.9,1 11.9,0.6 9-0.1 8.9-0.8 25.8-4.4 15.5-1.7 17.9-1.4 35.7-2 38.8-0.8" stroke="url(#g144)"/>
<path d="M1050,1045.6l5.6-2.2 5.7-1.7 6-1 3.6-0.1 5.3,0.7 5.9,1.2 8.7,2.6 10,3.6 6.8,2.9 6.7,3.2 3.9,2.3 4.7,3.7 2.1,2.1 2.8,4.1 2,6.7 1.4,2.7 3.9,4.6 4.9,3.5 8.1,3.9 8.6,3 8.8,1.7 6,0.2 6-0.7 8.6-2.4 5.6-2.4 7.6-4.8 2.7-2.5 3.1-4.4 1.1-2.8 1.2-6.3 1-2.3 3.1-4.5 2.3-2.7 8.9-8.1 7.2-5.5 5-3.2 8-4.1" stroke="url(#g145)"/>
<path d="M1050,1040.3l5.9,1.1 2.9,0.2 5.9-0.3 38-5.2 20.6-2.5 52.9-5.2 20.7-0.9 11.8,0.2 8.8,1.1 11.4,3 14,4.8" stroke="url(#g146)"/>
<path d="M1050,1023.9l17.8-1.4 8.9-0.1 125.3,3 17.2,0 23.7-0.6" stroke="url(#g147)"/>
<path d="M1050,1020.4l11.4-3.7 9.5-2.4 11-1.3 15-0.2 20.9,1 16.7,1.2 84.5,8.4 23.9,1" stroke="url(#g148)"/>
<path d="M1050,1022.8l5.8-1.8 5.3-2.5 6.8-6.8 2.4-1.3 5.3-0.6 8.9-0.2 42.4,2.1 59.7,5.1 8.9,1.1 20,3.2 27.4,3.3" stroke="url(#g149)"/>
<path d="M1111.6,1009.6l26.2-3.8 18.8-2.3 19.3-0.8 23.2-4.2 26.3-2.7 17.5-2.4" stroke="url(#g150)"/>
<path d="M1050,1000.5l20.9-0.4 65.3,2.7 23.7,1.7 47.3,5.5 17.9,0.8 17.8,0.1" stroke="url(#g151)"/>
<path d="M1050,1011.1l11.6-3.3 9.3-1.6 8.4-0.5 17.9-0.2 9-0.5 38.5-5.2 30.3-2.4 27-3.3 20-1.7 20.9-1" stroke="url(#g152)"/>
<path d="M1242.9,1036.6l27.1,11 29.4,13.1 13.7,5 16.8,5.3" stroke="#0500fa"/>
<path d="M1242.9,1036.6l5.7-2.3 2.8-0.7 4.6-0.7 7.1,0 3,0.5 2.9,0.9 10.7,5.3 12.7,7.3 22.7,14.1 14.8,9.7" stroke="url(#g153)"/>
<path d="M1242.9,1024.4l8.4,2.5 11,3.9 7.2,3.1 8.6,4.3 12.7,7.1 12.5,7.6 14.6,9.5 12,8.3" stroke="url(#g154)"/>
<path d="M1242.9,1024.4l11.6,2.9 8.5,2.9 8.3,3.4 8.1,3.9 15.5,9 10.6,5.5 13.4,6.5 11,4.8" stroke="url(#g155)"/>
<path d="M1242.9,1024.4l10.8-4.5 32.9-11.7 10.6-5 12.8-7.1 5.3-2.4 8.2-3" stroke="url(#g156)"/>
<path d="M1242.9,1024.8l8.4-2.8 8.5-2.3 8.6-1.7 8.7-1.2 23.4-1.1 29.4,0.2" stroke="url(#g157)"/>
<path d="M1242.9,1010.9l57.8-7.2 11.7-0.5 17.5,0.3" stroke="url(#g158)"/>
<path d="M1242.9,993.4l46.6,6.2 40.4,8" stroke="url(#g159)"/>
<path d="M1329.9,1138l9-0.3 5.9-0.7 11.6-2.8 8.5-2.8 5.5-2.4 43.2-21.6 21.6-10.1 20.8-10.4 8.2-3.5 17.1-6.3 10.8-4.3" stroke="url(#g160)"/>
<path d="M1329.9,1117l9-0.1 9.9-0.9 16.7-3.2 17.5-4.2 11.4-3.5 8.3-3.6 5.2-3 12.9-9.1 7.1-4 4.4-1.8 4.1-1 6-0.9 14.9-0.1 6-0.7 14.3-4.3 14.5-3.8" stroke="url(#g161)"/>
<path d="M1329.9,1108.8l6.1,0 8.9-0.5 8.9-1.3 5.8-1.4 5.7-1.9 8.3-3.5 5.2-2.9 5.1-3.3 2.3-1.9 4.3-4.1 1.9-2.4 1-2 2-6.5 2.8-14.7 1-3.3 1.2-2.3 1.9-2.3 4.4-4 5.3-3 5.7-1.9 5.9-0.9 6,0 5.6,0.7 9,2.7 5.5,2.4 31.5,17.3 10.9,5" stroke="url(#g162)"/>
<path d="M1329.9,1020.2l40.5,4.4 19.3,1.2 8.8,1.4 7.9,2.4 43.2,14.9 16.6,7 19.1,9.5 2.8,1.1 2.8,0.6 2.8-0.1 2.8-0.7 2.8-1.1 28.7-17.1 10.5-5.6 13.8-6.3 6-1.4 3-0.1 3,0.6 5.6,2.1 9.3,4.5 14.6,8 8.4,3.4 5.8,1.6 5.8,1.1 6,0.5 9.1-0.2" stroke="url(#g163)"/>
<path d="M1329.9,1024.6l11.9,1.2 11.8,1.9 24,5.5 17,3.3 8.9,0.9 5.9,0 3-0.4 5.5-1.6 17.3-8.7 20.9-9.1 19.4-7.8 31.7-10.4 5.4-1.5 5.9-1.2 8.9-0.9 20.8,0.1 80.7,3.5" stroke="url(#g164)"/>
<path d="M1329.9,1016.6l39,0.2 71.8-1.7 11.9,0.2 33,1.2 23.9,0.1 12-0.7 65.5-6.4 17.9-1 24-0.5" stroke="url(#g165)"/>
<path d="M1492.1,1072.8l35.3,22.2 7.7,4.5 15.3,7.9 11.6,5 16.9,5.8 14.5,3.5 17.7,2.6 17.8,1.1" stroke="url(#g166)"/>
<path d="M1492.1,1072.8l7.9,4.8 5.5,2 5.8,1 15,1.2 8.9,1.4 11.8,2.4 8.5,2.5 5.6,2.2 8.1,4 20.3,12.7 13.2,7 5.6,2.2 8.7,2.4 5.9,0.9 6,0.4" stroke="url(#g167)"/>
<path d="M1492.1,1071.4l5.9-1.2 5.8-0.7 9-0.2 5.7,1 8.1,4 2.2,0.7 6.4,0.6 12,0.5 11.8,1.4 5.7,1.7 28.9,14.5 5.9,2.3 8.5,2 6,0.9 5.9,0.5 9,0" stroke="url(#g168)"/>
<path d="M1492.1,1004.4l13.9,5.2 13.6,6.2 24.1,11.7 7.8,4.2 5.1,3 9.8,6.8 12.8,9.7 9.1,6 4.2,3.8 1.9,2.4 1.3,2.8 1.5,7.3 1.4,4.1 1.5,3.1 1.5,2.2 2.1,2.1 5,3.3 5.5,2.2 8.7,1.9 6,0.6" stroke="url(#g169)"/>
<path d="M1492.1,992.9l14.8,2.2 11.6,2.6 19.9,6.5 26.4,9.6 7.5,1.9 11.9,1.5 14.8,0.9 14.9,0 15-0.7" stroke="url(#g170)"/>
<path d="M1507.2,992.9l8.8,1.3 8.5,2.6 19.1,7.8 21.2,9.9 11.4,3.6 11.5,2.6 11.7,1.7 14.7,1.2 14.8,0.2" stroke="url(#g171)"/>
<path d="M1329.9,1008.7l23.7-0.8 23.7-1.8 17.6-2.1 23.5-3.6 73.7-7.5" stroke="url(#g172)"/>
<path d="M1329.9,1003.7l14.6,3.1 14.7,2.2 14.8,1.4 11.9,0.2 8.9-0.8 26-4 71.3-7.2" stroke="url(#g173)"/>
<path d="M1329.9,992.9l53.7,4.6 23.9,1.2 12-0.5 26.9-2.3 29.9-1.2 20.9-0.4 36,0.1 95.7-3" stroke="url(#g174)"/>
<path d="M1329.9,1026.7l33-0.1 9-0.6 5.7-0.7 14.9-3.1 46.6-11.4 20.6-4.1 32.4-5.9" stroke="url(#g175)"/>
<path d="M365.9,720.3l29.8,0.8 68.6,1.2 26.8,0.1 26.8-0.9 53.6-3.4 29.8-0.6 92.4,0.6 71.5,2.6 32.8-0.4" stroke="url(#g176)"/>
<path d="M365.9,725.7l32.8,0.2 50.6-1.7 23.9-0.2 62.6,1 20.8,0 20.9-0.6 41.7-1.8 22.8-0.4 96,1.5 60,2" stroke="url(#g177)"/>
<path d="M365.9,727.5l26.6-3.5 11.9-0.8 9-0.1 14.9,0.4 41.7,2.8 56.6,0.8 44.7,2.4 14.9,0.5 17.9-0.2 41.8-2.2 23.8-0.7 86.5-0.2 41.8,0.8" stroke="url(#g178)"/>
<path d="M365.9,729.5l56.6,1.6 20.9,0.3 17.9-0.3 38.7-1.2 17.9-0.2 52,1.8 13.5,0.2 17.9-0.3 44.7-2.3 20.8-0.6 98.4,0.5 32.8,0.5" stroke="url(#g179)"/>
<path d="M365.9,732.5l29.8-1.1 42.2-2.3 20.4-0.5 20.8,0.5 44.7,2 44.8,0.9 50.6,1.8 22.8-0.4 39.8-2.7 17.9-0.6 17.8,0.4 32.8,1.9 14.9,0.5 14.9,0.1 17.9-0.5" stroke="url(#g180)"/>
<path d="M365.9,739.4l20.9-0.6 56.6-2.4 17.9,0 41.7,0.9 18.9-0.2 19.9-0.8 47.7-2.6 35.7-0.6 32.9,0.4 26.8,0.9 23.8,1.6 35.6,3.1 14.9,0.8 17.9,0.2 20.9-0.7" stroke="#db0024"/>
<path d="M365.9,741.7l20.9,0.7 20.8,0.3 56.6-1.2 23.9-0.2 74.5,1.6 19.4-0.2 43.2-1.4 17.8-0.2 20.9,0.3 41.7,1.4 29.8,0.3 29.8-0.3 32.8-1.1" stroke="url(#g181)"/>
<path d="M365.9,745.6l71.6,0.2 71.5,1.5 77.6,0.1 26.8-0.5 52.6-2.7 18.9-0.4 17.1,0.6 39.4,2.9 17.9,0.6 17.9-0.5 20.8-1.8" stroke="url(#g182)"/>
<path d="M365.9,748.6l17.9,1.3 14.9,0.6 53.7-0.1 45.5,1.9 14.1,0.2 12-0.5 9.9-0.8 37.5-4.8 11.9-1.2 10.7-0.7 10.1-0.2 13.9,0.2 45.8,2.4 86.5,3.1 20.9,0 26.8-1.4" stroke="url(#g183)"/>
<path d="M365.9,750.9l32.8-1 44.7,0.9 17.9,0 47.6-1.9 14.9-0.2 17.9,0.3 44.7,1.7 59.6,0.2 53.7,1.5 20.8-0.2 44.7-1.5 32.8,0.2" stroke="url(#g184)"/>
<path d="M365.9,754l32.8,2.1 29.8,1.6 33.4,1.3 20.2,0.4 23.9-0.7 44.6-3.6 17.9-0.8 20.9,0.3 32.7,2.1 14.9,0.6 15,0 47.7-1.2 50.7,1.3 20.9-0.7 26.7-2.7" stroke="url(#g185)"/>
<path d="M365.9,758l20.9,0.4 17.8-0.1 50.7-2.6 26.8-0.6 59.6,1.2 76.3,0.7 75.7-1 17.9,0.4 47.7,2 17.8,0.1 20.9-0.5" stroke="url(#g186)"/>
<path d="M365.9,761.6l24,2.2 17.6,0.6 14.9-0.4 39.5-2.5 17.1-0.4 14.9,0.2 50.7,1.8 101.4,1 53.6-0.5 53.7,0 20.7-0.6 24-1.4" stroke="url(#g187)"/>
<path d="M365.9,767.7l26.8-2.2 17.8-0.9 14.9-0.1 38.8,0.6 11.9-0.1 17.9-0.6 32.8-1.8 17.9-0.4 20.8,0.5 35.8,2.2 16.7,0.6 19,0.1 41-1.1 18.7-0.1 17.9,0.5 47.6,2.7 17.9,0.3 17.9-0.2" stroke="url(#g188)"/>
<path d="M365.9,770l17.8,2.1 14.9,1.3 11.9,0.6 14.9,0.1 20.9-0.9 47.6-4.1 23.8-1.4 23.9-0.4 44.8,1 20.9,0 20.8-0.8 41.7-2.7 17.9-0.4 23.9,0.8 38.7,3.3 14.9,0.9 14.9,0.5 17.9,0.1" stroke="#4900b6"/>
<path d="M365.9,774.6l56.6-2.8 26.8-0.6 20.9,0.3 44.7,1.5 59.6,0.7 55.5,1.5 69.7,0.1 50.6,1.2 23.7-0.4 24-1.5" stroke="url(#g189)"/>
<path d="M365.9,776.9l32.8-0.9 56.6-0.2 53.7-1.3 17.9,0.3 35.7,1.5 17.9,0.3 59.6-1.3 47.7,1.1 14.2,0 42.4-1.3 14.9-0.1 14.9,0.4 23.8,1.5" stroke="url(#g190)"/>
<path d="M365.9,780l60-1.8 23.5-0.3 20.8,0.5 44.7,2 20.9,0.3 20.8-0.7 41.7-2.4 20.9-0.5 17.9,0.3 47.6,1.8 17.3,0 54.3-0.8 17.7,0.4 24,1.2" stroke="url(#g191)"/>
<path d="M365.9,783l35.8-0.2 44.7-1.7 17.9-0.4 50.7,1 18.9-0.1 19.8-0.8 41.7-2.7 23.8-0.7 26.8,0.7 56.6,3.1 26.8,1.2 29.8,0.6 38.8,0" stroke="url(#g192)"/>
<path d="M365.9,785.3l38.8-0.2 50.6,1.4 26.8,0.4 75.8-1.2 64.3,1.5 23.9-0.7 47.6-2.8 20.3-0.4 21.4,0.3 62.6,1.7" stroke="url(#g193)"/>
<path d="M365.9,788.4l20.8-1.8 17.9-0.6 17.9,0.5 44.7,2.6 26.8,0.5 80.5-0.7 56.7-2 17.9-0.3 23.8,0.7 47.6,3.3 20.9,0.5 20.9-0.5 35.7-2.2" stroke="url(#g194)"/>
<path d="M365.9,789.9l32.8,1.2 53.6,3.9 21.6,1.2 29.1,0.8 20.8-0.6 44.7-2.6 17.9-0.4 17.9,0.4 49.7,2.8 12.9,0.3 14.9-0.2 29.8-1.3 59.6-4.4 26.8-1.1" stroke="url(#g195)"/>
<path d="M365.9,794.5l29.8,0.5 18.2-0.1 20.6-0.8 32.7-2 18.7-0.5 17.1,0.4 35.7,1.8 14.9,0.4 20.9-0.3 35.7-1.8 20.9-0.4 17.9,0.4 41.7,2.4 17.9,0.5 14.9,0 41.7-1.2 14.9,0.1 17.9,0.6" stroke="url(#g196)"/>
<path d="M365.9,797.6l32.7,3.2 11.9,0.7 15.4,0.3 86-2 17.8-1 32.8-2.6 19.5-0.8 19.2,0.4 44.7,3.1 20.1,0.6 21.6-0.1 110.4-1.8" stroke="url(#g197)"/>
<path d="M365.9,801.4l80.5,1.9 92.4,0.3 20.9,0.7 38.7,2 20.9,0.5 20.8-0.7 41.6-3.4 17.9-1 20.9-0.2 41.7,0.3 35.8-0.4" stroke="url(#g198)"/>
<path d="M365.9,807.5l26.8,1.4 17.9,0.4 65.5-0.6 65.6,1.2 68.6-1 68.5,0.9 20.9-0.5 56.6-2.3 17.9-0.1 23.8,0.6" stroke="url(#g199)"/>
<path d="M798,720.3l65.8,0.7 71.7,1.6 68,0.4 45.6,1 11.9-0.2 29.9-1.2 17.9-0.2 68.8-0.1 50.8,1.2 11.9-0.4 32.8-2.5 12-0.5 17.9-0.3 26.9,0.6" stroke="url(#g200)"/>
<path d="M798,725.7l20.9,0.4 18-0.3 62.7-3.6 29.9-0.9 25.7,0.6 49.1,3 20.9,0.4 50.8-2.1 38.9-2.3 11.9-0.2 18,0.8 32.7,3.2 15,0.9 14.9-0.1 38.8-2.8 23.3-0.6 24.6,0.7 35.8,2.8" stroke="url(#g201)"/>
<path d="M798,727.5l38.9,1.4 29.9,0.3 23.9-0.5 44.8-1.8 18-0.3 56.8,1.9 14.9-0.5 29.8-2.4 9-0.5 50.8-0.5 21,0.9 47.6,4.5 12,0.5 11.9,0.2 21-0.6 32.8-1.9 15-0.6 17.5-0.2 36.3,0.1" stroke="url(#g202)"/>
<path d="M798,729.5l41.9,0.3 65.8,2.1 23.9,0.1 13.5-0.5 13.4-1 50.6-5.1 18-0.7 29.9,0.4 38.9-0.3 14.9,0.9 47.7,3.9 32.9,1.4 26.9-0.3 47.8-2.6 21-0.7 17.9,0.4 26.9,1.7" stroke="url(#g203)"/>
<path d="M798,732.5l29.8,1.7 24,0.5 74.7-1.9 83.7-0.7 35.9,0.1 32.9-0.6 14.9,0.5 30.5,2 12.1,0.2 17.1-0.2 35.9-1.5 20.9-0.6 17.9,0.3 32.9,1.7 14.9,0.4 15-0.3 38.8-1.5" stroke="url(#g204)"/>
<path d="M798,739.4l32.9-1.2 59.8-0.9 15-0.9 38.7-3.4 14.9-0.8 18-0.1 29.9,1 14.9,0.1 95.7-2.9 15,0.3 35.9,1.3 44.9,0.1 20.9,0.5 22.9,1.5 42.6,4.8 14.9,0.6 15-0.1" stroke="url(#g205)"/>
<path d="M798,741.7l32.9-0.5 53.8-1.8 34.2-0.1 34.5,1.4 74.6,4.9 17.9,0.7 15,0.1 68.8-0.4 68.7-1.7 38.9-0.5 59.7-2.6 32.9,0.5" stroke="url(#g206)"/>
<path d="M798,745.6l92.7,0.4 56.7-1.4 18-0.1 65.7,1.6 35.9,0.3 59.7-1.3 68.8,0.5 44.8-1.9 11.9-0.2 15,0.3 32.8,1.6 29.9,0.2" stroke="url(#g207)"/>
<path d="M798,748.6l48.4-1.6 72.5,0 52.5-1.8 17.9-0.3 23.9,0.7 41.7,3.3 21.1,0.8 20.8-0.2 44.8-1.8 20.9-0.4 18,0.3 41.8,1.8 20.9,0.3 41.9-0.1 44.8-1" stroke="url(#g208)"/>
<path d="M798,750.9l41.8,1.6 30.7,0.3 23.1-0.4 41.9-1.9 19.7-0.6 58,0.3 47.8-0.8 23.9,0.7 44.8,2.7 23.9,0.7 20.9-0.4 38.8-2.7 17.9-0.6 18,0 47.8,1.1 32.9,0" stroke="url(#g209)"/>
<path d="M798,754l26.9,2 20.9,0.4 17.9-0.6 38.9-2.3 23.9-0.4 59.8,2.3 44.9,0.3 38.8,0.9 18-0.6 44.8-3.2 17.9-0.6 15-0.1 23.9,0.9 38.7,3.8 8.9,0.6 9,0.2 12-0.3 41.8-2.4 29.9-0.9" stroke="url(#g210)"/>
<path d="M798,758l29.8-2.5 11.9-0.5 15-0.2 15.8,0.3 43.9,1.8 18,0.3 56.8-0.4 44.8,0.4 41.9-0.6 44.8,1.2 64.1,0.9 55.5-1.2 35.8,1.3 15,0.3 14.9-0.2 23.9-0.9" stroke="url(#g211)"/>
<path d="M798,761.6l86.8-1.2 21,0.3 38.9,1.3 17.9,0.2 53.9-1.5 12,0.4 29.8,2.5 14.9,0.4 14.9-0.9 56.7-5.6 15.9-1 12-0.3 11,0.3 8.9,0.7 32.6,4.7 14.9,1.3 15,0 41.9-1.4 32.9-0.1" stroke="url(#g212)"/>
<path d="M798,767.7l56.9-0.7 68.8-2.5 21-0.4 20.9,0.5 38.9,2.6 14.9,0.4 15-0.8 26.8-2.4 12-0.4 14.9,0.7 50.7,4.3 15,0.8 15,0.1 17.9-0.9 8.9-1 26.7-3.8 9-0.7 8.9-0.3 12,0.6 29.8,2.7 12,0.8 17.9,0.5 18-0.2" stroke="url(#g213)"/>
<path d="M798,770l26.9,0.5 38.9-0.2 17.9,0.2 18,0.9 35.8,2.7 17.9,0.7 17.9-0.2 35.9-2 14.9-0.3 15,0.4 35.8,2.2 15.2,0.4 17.7-0.4 44.8-2.1 47.9-0.2 50.8-1.4 12-0.6 23.8-1.9 12-0.5 14.9,0.3 17.9,1.6" stroke="url(#g214)"/>
<path d="M798,774.6l17.9,1 15,0.5 59.8-0.5 65.8,1.7 20.9-0.3 44.8-2.4 17.9-0.5 18,0.2 32.8,1.5 18,0.3 20.9-1 42.9-3.7 19.7-0.6 32.9,0.9 38.9-0.5 44.8,2.8 20.9,0.5" stroke="url(#g215)"/>
<path d="M798,776.9l26.9-1.3 17.9-0.2 15.6,0.5 41.2,2.4 20.9,0.5 17.9-0.3 44.9-1.6 23.9-0.2 20.5,0.7 39.2,2.5 15,0.4 26.9-1 65.7-4 14.9-0.6 14.9,0.3 35.9,1.8 35.9-0.5 53.8,0.6" stroke="url(#g216)"/>
<path d="M798,780l128.6,0 59.7-1.5 21-0.1 59.7,1.5 35.9,1.6 17.9,0.1 68.8-1.4 38.7-2.9 15-0.5 62.4,2 24.2,1.2" stroke="url(#g217)"/>
<path d="M798,783l41.8-0.2 59.8-2.3 26.9-0.3 95.6,0.7 15,0.7 26.9,1.8 8.9,0.2 47.8-1.2 71.7,1.2 29.9-0.2 47.8-1.1 59.8,0.7" stroke="url(#g218)"/>
<path d="M798,785.3l38.9-0.1 62.7,1.7 29.9,0.3 95.7-2.3 41.8-1.4 12,0.4 32.8,2 18,0.2 62.7-1.4 53.8-1.9 35.9-0.8 20.9,0.7 26.8,2.6" stroke="url(#g219)"/>
<path d="M798,788.4l23.9-0.3 56.8,0.2 62.8-2 25.7-0.2 31.1,1.1 56.6,4 18,0.7 11.9-0.3 32.9-1.5 38.8-0.5 44.9-1.5 47.8,0.9 35.9-0.5 44.8-0.1" stroke="url(#g220)"/>
<path d="M798,789.9l20.9-0.2 26.9,0.6 47.8,2.1 38.8,2.1 26.9,0.6 26.9-0.5 74.7-2.7 12-0.1 32.9,1.2 11.9-0.1 50.8-2.9 59.8-1 14.9,0 32.9,0.7 35.9-0.1 17.9,0.3" stroke="url(#g221)"/>
<path d="M798,794.5l53.8,2.4 29.8,0.9 59.8,0.3 53.8-1.2 18-0.1 68.7,1.4 32.9,1.3 17.9,0.4 23.9-0.4 64.5-1.9 40.1-0.4 44.8-2.3 23.9-0.4" stroke="url(#g222)"/>
<path d="M798,797.6l24.2-2.3 20.5-0.6 15.7,0.4 56,3.1 35.8,0.7 50.9,0 47.8-1.1 35.9,0.3 41.8-0.6 134.5-0.1 38.9,0.4 29.9-0.2" stroke="url(#g223)"/>
<path d="M798,801.4l41.9,0.1 54.8-0.7 17.1,0.2 55.4,2.3 55.3,0.8 11.9,0.9 29.6,2.8 12,0.4 12.1-0.3 62.9-3.4 26.9-0.5 15,0.6 35.6,4.2 15,0.8 12-0.3 11.9-1 62.5-6.8" stroke="url(#g224)"/>
<path d="M798,807.5l24.2-2.4 20.5-0.8 20.9,0.7 44.8,3.4 20.9,0.7 13.8-0.1 40-1.5 15-0.1 32.9,0.6 35.8,0 38.9,1.6 47.8-0.3 44.9,1.2 35.9-0.9 44.8,0.3 50.8-2.5" stroke="#4800b7"/>
<path d="M1329.9,719.4l17.6,2 14.8,0.4 44.2-2.6 41.4-1.3 11.8-0.1 14.8,0.7 17.6,1.8" stroke="url(#g225)"/>
<path d="M1329.9,723.9l20.7-0.8 35.4,0.8 32.5-0.3 11.8,0.6 29.4,3.2 8.9,0.3 11.8-0.6 11.7-1.4" stroke="url(#g226)"/>
<path d="M1329.9,726.6l20.7-0.3 35.4,1.1 36.6,0 40.1,2.3 14.7-0.5 14.7-1.7" stroke="url(#g227)"/>
<path d="M1329.9,729.4l17.7-1.2 14.7-0.4 13.9,0.4 42.2,2 29.5,0.8 20.6-0.2 23.6-1.3" stroke="url(#g228)"/>
<path d="M1329.9,732.7l20.6,1 14.2,0 11.5-0.7 30.3-2.7 16.1-0.6 11.6,0.3 37.2,2.1 20.7,0.4" stroke="url(#g229)"/>
<path d="M1329.9,738l23.6,1.4 20.6,0.6 56.1,0.1 61.9-0.7" stroke="url(#g230)"/>
<path d="M1329.9,740.9l26.5,2 17.7,0.3 17.7-0.8 35.4-2.9 14.8-0.4 14.7,0.4 35.4,2.2" stroke="url(#g231)"/>
<path d="M1329.9,744.7l41.3-1.3 32.4-0.3 19,0.4 42.9,1.9 26.6,0.2" stroke="url(#g232)"/>
<path d="M1329.9,748l32.5-0.1 38.3-2 11.9-0.2 14.7,0.6 35.3,3.4 14.8-0.1 14.7-1" stroke="url(#g233)"/>
<path d="M1329.9,750.9l17.7,1.1 14.7,0.4 11.8-0.1 44.2-1.5 50.6,0.4 23.2-0.3" stroke="url(#g234)"/>
<path d="M1329.9,754.2l20.7,0.5 26.5-1.2 11.8-0.2 8.9,0.3 24.8,1.9 7.6,0.3 11.8-0.4 29.4-2 9.1,0.1 11.6,0.5" stroke="url(#g235)"/>
<path d="M1329.9,758l26.5-0.9 14.8-0.3 14.8,0.4 32.4,1.6 11.8-0.1 35.4-1.8 11.8,0.2 14.7,0.9" stroke="url(#g236)"/>
<path d="M1329.9,761.7l23.2-0.2 29.9,1.7 11.8,0.3 11.8-0.2 32.4-1.7 53.1,0" stroke="url(#g237)"/>
<path d="M1329.9,766.5l11.8-0.8 11.4-0.3 38.8,1.3 35.4-1.4 11.8,0.5 29.8,2.5 11.4,0.1 11.8-0.7" stroke="url(#g238)"/>
<path d="M1329.9,769.5l11.8-0.7 11.4-0.1 32.8,1.9 8.9,0.2 39.4-1.8 10.7,0.2 26.5,1.2 20.7-0.3" stroke="url(#g239)"/>
<path d="M1329.9,773.5l47.2-1.8 23.6-0.3 26.5,0.6 44.2,2.3 20.7,0.2" stroke="url(#g240)"/>
<path d="M1329.9,776.5l23.5-2.2 17.7-0.5 14.8,0.4 32.4,1.7 44.3-0.3 29.5,1.3" stroke="url(#g241)"/>
<path d="M1329.9,779.9l35.4,0.3 14.8-0.3 35.3-2.8 11.8-0.5 14.8,0.5 29.4,2.7 20.7,0.3" stroke="url(#g242)"/>
<path d="M1329.9,783.1l20.7-0.5 32.4,0 41.3-2 9.9,0.3 25.5,2.2 9.2,0.5 11.4,0 11.8-0.7" stroke="url(#g243)"/>
<path d="M1329.9,786.1l20.7-0.2 29.5,2 11.8,0.2 7.5-0.2 27.8-2.2 11.9,0.1 20.6,1.2 9.2,0.2 11.5-0.5 11.7-1.4" stroke="url(#g244)"/>
<path d="M1329.9,789.5l17.7,0.7 14.7,0 37.1-1.4 39.6-0.9 53.1,0.6" stroke="url(#g245)"/>
<path d="M1329.9,792l14.8-0.9 23.5-2.3 11.8-0.8 7.8,0.1 7,0.5 26.4,3.6 8.9,0.7 11.8-0.2 29.5-2.7 11.8-0.3 8.9,0.2" stroke="url(#g246)"/>
<path d="M1329.9,796.1l50.1,0.1 35.4,0.4 76.7-2.1" stroke="url(#g247)"/>
<path d="M1329.9,799.5l14.7,1.9 11.8,0.3 35.4-2.4 30.8,1.3 7.6,0 11.8-0.9 20.6-2.2 8.8-0.6 9.1,0.1 11.6,0.7" stroke="url(#g248)"/>
<path d="M1329.9,803.1l17.6,1.6 14.8,0.5 11.8-0.5 29.4-2 19.1-0.8 69.5-0.6" stroke="url(#g249)"/>
<path d="M1329.9,808l14.7-1.7 11.8-0.5 8.3,0.2 30,1.7 35.5-0.4 35.4,1.6 11.8-0.1 14.7-1.3" stroke="url(#g250)"/>
<path d="M1492.1,720.3l71.5-1.2 8.9,0.3 20.8,1.7 11.9,0.5 11.9-0.6 11.8-1.6" stroke="url(#g251)"/>
<path d="M1492.1,725.7l12.4-1.8 11.3-0.8 11.9,0.6 17.8,1.6 8.8,0.2 38.8-1.9 35.8,0.3" stroke="url(#g252)"/>
<path d="M1492.1,727.5l11.9-1.1 11.8-0.6 32.8,0.3 30.6-0.8 49.7,1.3" stroke="url(#g253)"/>
<path d="M1492.1,729.5l37.3-0.5 40.1,1.7 8.9-0.4 29.7-2 11.9,0.4 8.9,0.7" stroke="url(#g254)"/>
<path d="M1492.1,732.5l37.3,2.5 7.3,0.2 11.9-0.6 26.7-2.2 9,0.1 23.8,0.9 11.9-0.1 8.9-0.6" stroke="url(#g255)"/>
<path d="M1492.1,739.4l11.8,1.6 11.9,0.5 8.9-0.5 20.8-2.3 11.9-0.8 50.6-0.3 20.9,0.4" stroke="url(#g256)"/>
<path d="M1492.1,741.7l17.8,1.1 29.8-0.2 32.8,0.9 5.9-0.3 29.7-2.8 11.9,0 8.9,0.5" stroke="url(#g257)"/>
<path d="M1492.1,745.6l11.9-0.8 25.4-2.6 7.3-0.3 9,0.7 26.7,2.9 6-0.1 29.7-2.9 11.9,0.7 8.9,1.5" stroke="url(#g258)"/>
<path d="M1492.1,748.6l17.8-0.7 14.9-0.1 74.4,1.9 14.9-0.5 14.8-1.2" stroke="url(#g259)"/>
<path d="M1492.1,750.9l20.8,0.1 32.7-1.8 14.9-0.2 43.5,0.7 24.9,1.2" stroke="#dd0022"/>
<path d="M1492.1,754l8.9-0.6 11.9-0.2 32.7,0.8 33.6-1.3 31.8,1.4 17.9,0.2" stroke="url(#g260)"/>
<path d="M1492.1,758l17.9,0.7 29.7,2.1 11.9,0.4 53.6-0.8 11.9-0.9 11.8-1.5" stroke="url(#g261)"/>
<path d="M1492.1,761.6l8.8-1.7 6-0.6 6-0.2 4.1,0.4 25.4,4.3 6,0.4 5.9-0.4 26.8-3 9,0.1 13.9,1.1 10,0.3 5.9,0 9-0.6" stroke="url(#g262)"/>
<path d="M1492.1,767.7l14.8-1.7 10.1-0.6 10.8,0.1 17.9,0.8 12,0 38.6-3.5 7.7,0.2 7.2,0.6 8.9,1.2 8.8,1.7" stroke="url(#g263)"/>
<path d="M1492.1,770l17.9,0 11.9,0.4 35.6,3.2 12,0.3 9.7-0.3 31.8-3 17.9-1.2" stroke="#4800b7"/>
<path d="M1492.1,774.6l8.9,1.1 11.9,0.3 8.9-1.1 23.6-3.7 8.9-0.6 26.9,1 26.9,0.5 20.8,1.5" stroke="url(#g264)"/>
<path d="M1492.1,776.9l29.8-0.2 38.6,1.3 11.9-0.3 20.8-1.5 11.9-0.6 11.4,0.2 12.4,0.7" stroke="url(#g265)"/>
<path d="M1492.1,780l47.6,0.6 35.7-0.5 32.7,0.5 20.8-0.8" stroke="url(#g266)"/>
<path d="M1492.1,783l41.6,0.1 59.5-1.1 35.7,1.2" stroke="url(#g267)"/>
<path d="M1492.1,785.3l41.7,0.6 35.6,3.6 9,0.4 11.9-0.4 38.6-3.4" stroke="url(#g268)"/>
<path d="M1492.1,788.4l26.8,2 23.8,0.5 17.9-0.8 31-3 10.6-0.3 11.9,0.7 14.8,1.9" stroke="url(#g269)"/>
<path d="M1492.1,789.9l17.9,0 32.7-0.7 8.9,0.3 35.6,2.5 14.9,0.2 26.8-0.2" stroke="url(#g270)"/>
<path d="M1492.1,794.5l17.8-0.8 12,0 35.6,2.7 11.9,0.5 8.9-0.2 26.8-1.1 23.8,0.5" stroke="url(#g271)"/>
<path d="M1492.1,797.6l8.9-0.1 11.9,0.4 23.8,2 11.9,0.6 38.6-1.4 41.7,0.3" stroke="url(#g272)"/>
<path d="M1492.1,801.4l23.8,0.1 29.7,2.3 14.9,0.7 14.8-0.2 26.8-1 26.8-0.1" stroke="url(#g273)"/>
<path d="M1492.1,807.5l12.4-0.5 11.4,0 29.7,1.7 14.9,0.4 32.7-0.8 35.7-0.3" stroke="#4900b6"/>
<path d="M365.9,816.4l62.7,0.3 92.6,1.8 20.9-0.4 12,0.3 137,10.3 26.8,1.7 134.3,6 47.8,1.6" stroke="url(#g274)"/>
<path d="M404.3,839.7l11.1-4.4 13.8-5.9 8.4-3.1 8.7-2.3 10.8-1.9 21.8-3 23.8-2.4 17.9-1.3 26.9-0.9 11.9-1 17.8-2.5 17.7-3.2 11.9-1.5 20.8-1.5 24-1 17.9-0.1 15,0.5 119.4,8 12-0.3 32.8-2.4 38.9-1.1 27-0.4 29.9,0.5 56.7,4.1 35.9,1.3 23.9,0.4 83.8-1 77.8-2.3 29.9-0.5 11.9,0.9 23.8,3.4 8.9,1 17.9,0.9 15,0.3" stroke="url(#g275)"/>
<path d="M798,834l92.6-6.7 14.9-0.8 62.9-1.4 47.9,0.2 62.8,1.5 29.9,1.2 14.9,1.1 32.8,3.6 98.5,7.3 32.9,1.7 41.9,1.3" stroke="url(#g276)"/>
<path d="M365.9,837l26.8-1.6 12-0.1 14.9,0.2 18.3,1.1 47.2,4.5 12,0.6 11.9,0.2 12.9-0.3 43.8-2 56.8-0.8 44.8-2.6 14.9-0.3 17.9,1 38.6,4.7 14.9,0.8 8.4-0.2 9.5-0.8 11.8-1.7 14.7-2.7" stroke="url(#g277)"/>
<path d="M365.9,838.5l14.9-0.5 14.9,0 50.7,1.9 20.9,0.2 17.9-0.7 50.6-3.3 17.9-0.5 17.8,0 65.7,1.3 23.8,1.2 44.6,2.8 29.9,0.8 20.8-0.5 41.7-2.7" stroke="#91006e"/>
<path d="M365.9,839.6l17.9-0.3 35.8,0.3 54.3-1.1 26.2-0.1 26.8,0.8 47.7,2.7 17.9,0.4 20.8-0.6 44.6-3.7 23.9-1 20.9,0.3 38.6,2.6 12,0.5 14.9-0.1 29.8-0.7" stroke="url(#g278)"/>
<path d="M365.9,842.7l17.9,0.3 14.9,0.9 11.9,1.4 32.6,4.6 17.8,1.6 18,0.2 32.8-1.4 12-0.1 11.9,0.4 29.9,1.6 11.9,0.3 12-0.3 11.9-1 44.4-5.8 23.9-1.7 35.8-1.2 35.8-1.9 15-0.4 17.9,0.4 23.8,2.1" stroke="url(#g279)"/>
<path d="M365.9,844l14.9,0.4 14.9,0.9 50.6,4.5 20.9,1.4 14.9,0.4 44.8,0.7 43,1.9 13.7,0.2 14.9-0.4 11.9-0.9 14.9-1.7 32.5-4.4 11.9-1.2 11.9-0.7 20.4-0.3 39.3,1.4 12,0 17.9-0.6 26.8-1.6" stroke="url(#g280)"/>
<path d="M365.9,845.4l32.7,2.7 15.3,0.7 11.5-0.1 48.5-1.5 91.7-0.4 23.9,0.4 50.6,1.9 56.7,0.2 44.8,0.9 11.9-0.3 8.5-0.6 36-3.9" stroke="url(#g281)"/>
<path d="M365.9,850.8l17.7-3 11.9-1.5 12-0.7 9,0.3 9,1 8.8,1.5 32.1,7.6 11.7,2.6 14.9,2 12,0.6 15-0.7 38.6-4.7 15-1 18,0 41.8,3.4 12,0.6 9,0 21-1.1 41.7-4.5 20.9-1.6 18-0.6 42-0.2" stroke="url(#g282)"/>
<path d="M365.9,852l24-2.1 17.7-0.8 14.9,0.1 39.4,1.8 17.2,0.3 17.9-0.3 41.7-1.9 19.2-0.3 28.6,0.7 55.5,2.9 21.9,0.6 26.1-0.3 42.5-2.6 17.9-0.6 20.8,0.4 26.8,2.1" stroke="url(#g283)"/>
<path d="M365.9,853.9l20.9-0.2 17.9,0.5 17.9,1.1 32.7,2.8 17.9,0.8 20.8,0.1 44.8-1.7 26.8-0.2 23.9,0.9 56.6,3.3 23.9,0.6 14.9-0.3 14.9-0.8 44.6-4.2 17.8-1.4 14.9-0.8 20.9-0.5" stroke="url(#g284)"/>
<path d="M365.9,855.5l26.8-0.9 35.8-0.4 32.8-0.1 29.9,0.4 35.7,1.3 62.5,4.1 29.9,0.8 17.9-0.3 20.8-0.8 59.5-4.3 23.9-1.1 26.8-0.2 29.8,1.5" stroke="url(#g285)"/>
<path d="M365.9,857l26.9,1.4 9.1-0.1 8.8-0.5 11.9-1.3 29.4-5 11.9-1.7 14.9-1.3 11.9-0.3 17.9,0.7 44.8,3.2 44.7,2.1 47.7,3.9 17.9,0.9 12,0.1 11.9-0.3 41.8-3 23.8-1 21,0.3 23.8,1.9" stroke="url(#g286)"/>
<path d="M365.9,862.9l47.8-0.3 32.8,0.3 56.7-0.7 20.9,0.7 38.7,2.6 17.9,0.9 86.5,1 14.9-0.3 14.9-1 41.5-5.3 14.9-1 8.6,0 9.3,0.4 26.7,2.7" stroke="url(#g287)"/>
<path d="M365.9,864l41.7,1.8 26.9,0.4 20.9-1 38.6-3.5 17.9-0.6 17.9,0.8 38.6,3.8 17.9,0.8 14.9-0.2 32.8-1.9 14.9-0.5 56.7,0.7 44.7-1.7 14.9-0.2 14.9,0.4 17.9,0.9" stroke="url(#g288)"/>
<path d="M365.9,865.5l44.6,4.3 23.9,1.5 23.9,0.5 50.8-0.3 53.8,1.6 14.9-0.4 16.2-1.2 16.5-2.3 41.3-6.8 14.2-1.6 12.6-0.7 11.4-0.2 12,0.3 51.2,3.4 44.8,1.9" stroke="url(#g289)"/>
<path d="M365.9,867.8l26.8,1 15-0.1 11.9-0.7 29.7-2.5 11.9-0.7 12.7-0.4 47-0.3 13-0.7 37.6-2.7 20.9-0.6 50.7,1.4 50.7,0.3 17.9,1.1 32.6,3.5 11.9,1 14.9,0.6 26.9-0.2" stroke="url(#g290)"/>
<path d="M365.9,869l20.8-1.6 44.7-2.4 15-0.4 20.8,0.9 42.7,4.5 19.7,1.2 15,0 29.8-0.6 14.9,0 62.6,2.5 53.8,0 35.8,0.4 17.9-0.8 38.6-3.7" stroke="url(#g291)"/>
<path d="M365.9,870l11.9,1 26.7,3 12,0.7 8.9-0.1 38.9-1.5 14.9,0 11.9,0.4 17.9,1.1 44.7,4.3 20.8,1.6 23.9,1.1 20.9,0.4 32.9-0.6 89.5-3.8 14.9-1.6 29.5-4.6 11.9-1.4" stroke="url(#g292)"/>
<path d="M365.9,879.8l15,0.4 12-0.6 8.9-1 38.6-5.4 12-1.1 11.9-0.4 9.6,0.4 11.4,1.2 35.5,5.8 11.9,1.5 14.9,1 15-0.1 18-1.1 26.8-2.6 70.6-8.6 12-0.8 9.9-0.3 14.1,0.5 18.7,1.7 14.9,2.2 29.5,5.2 11.9,1.5 9,0.6" stroke="url(#g293)"/>
<path d="M365.9,881l32.2-6.6 17.8-2.7 17.9-1.2 28.1-0.6 19.7,0.2 17.9,0.6 50.8,3.2 17.9,0.7 17.9,0 47.9-1.3 17.9,0.4 44.8,1.8 50.8-0.4 9,0.4 11.9,1.2 29.6,4.3" stroke="url(#g294)"/>
<path d="M365.9,882.5l38.8-1.3 44.8,0.7 17.9-0.4 23.8-1.8 38.6-4.5 17.8-1.8 20.9-1.2 17.9-0.3 17.9,0.4 17.9,1.1 17.8,1.7 38.6,4.4 20.9,1.6 20.9,0.5 41.6-0.2 36,1.1" stroke="url(#g295)"/>
<path d="M365.9,885.6l17.8,2.3 14.8,1.3 17.9,0.9 20.9,0.4 56.6-0.8 65.6,0.6 29.9-0.2 28.6-1 54.8-3.3 20.8-0.6 17.9,0 56.7,1 29.8-0.6" stroke="url(#g296)"/>
<path d="M365.9,887l32.8,1 56.5,4.7 11.9,0.7 14.9,0.3 23.8-0.6 56.6-3 43.6-1.3 36.9-0.4 74.6,0.6 80.5-2" stroke="url(#g297)"/>
<path d="M365.9,888.3l26.6,4.2 11.9,1.1 8.9,0.2 12.6-0.7 36-4.3 12-1.1 16.8-0.7 14.9,0.1 35.9,1.9 64.5,4.8 21.9,0.7 20.9-0.6 32.8-2.3 15-0.6 14.9,0 32.9,1.1 11.9,0 14.9-1 26.8-2.8" stroke="url(#g298)"/>
<path d="M365.9,890.6l17.9,0.1 38.7,2 23.9,0.5 17.9-0.3 47.7-2 17.9,0 41.7,1 46.4-1.3 12,0 19.2,0.9 35.6,3.1 17.2,0.6 9.7-0.2 11.9-0.7 44.6-3.9 14.9-0.4 14.9,0.6" stroke="url(#g299)"/>
<path d="M365.9,898.2l11.9-1 32.7-4.5 11.9-1.2 35.9-1.7 32.9-0.8 20.9,0.1 18,0.6 20.9,1.5 44.7,4.4 15,0.7 11.9-0.1 19.4-1.4 46-6 12-0.9 12-0.3 17.9,0.6 14.9,1.3 38.4,6.8 14.8,1.9" stroke="url(#g300)"/>
<path d="M365.9,899.5l9,0 11.9-0.6 47.6-5.2 17.8-1.4 12-0.2 11.9,0.4 9.8,0.9 11,1.6 41.3,7.2 14.8,1.5 12,0.5 17-0.2 48.7-2.8 17.9-0.2 47.8,0 50.8-2.3 50.8,0.8" stroke="url(#g301)"/>
<path d="M365.9,900.8l50.8-1.6 45.2,1.1 20.5-0.4 11.9-0.8 11.9-1.4 41.4-6 11.9-1 9-0.2 9,0.3 8.9,0.8 38.5,5.3 8.9,1 11.9,0.8 15,0.1 35.8-1.6 17.5-0.2 24,0.9 39.1,2.7 20.9,0.2" stroke="url(#g302)"/>
<path d="M365.9,902l11.9,0.9 12,0.4 36.1-0.2 17.6,0.3 15,0.7 29.8,2 11.9,0.3 17.9-0.7 11.9-1.3 29.6-4 10.3-0.8 7.6-0.3 15,0.6 37.5,4.1 16,0.9 12-0.2 32.8-2 11.9-0.2 12,0.4 35.7,2.5 15,0.3 14.9-1 17.7-2.7" stroke="url(#g303)"/>
<path d="M365.9,903.3l20.9-1.3 9,0 6.1,0.4 11.7,1.4 26.4,5.6 9.9,1.7 7.9,0.9 8.9,0.3 15-0.9 29.6-4.4 14.9-1.5 14.9-0.3 32.9,1.6 15,0 14.9-1.1 29.8-3.2 11.9-0.6 15,0.1 32.8,2.3 12,0.4 14.9-0.4 29.9-2.4 11.8-0.4 12.1,0.2 23.9,1.6" stroke="url(#g304)"/>
<path d="M365.9,904.6l35.7-2.5 17.9-0.8 17.9-0.3 41.8,0.3 17.9-0.4 12.8-0.7 37.8-2.8 17.9-0.5 20.8,0.7 41.6,3.9 17.9,1.1 17.9,0.1 44.7-0.5 59.7,2.3 29.8,0.1" stroke="url(#g305)"/>
<path d="M365.9,905.9l50.7,4.2 23.9,1.3 20.9,0.1 44.9-1.1 41.8,0.8 15-0.1 11.9-0.7 14.9-1.7 11.8-2.1 29.3-5.9 11.8-1.8 11.9-1.2 12-0.4 9,0.1 11.9,0.8 38.7,3.7 17.9,1.4 53.8,2.6" stroke="url(#g306)"/>
<path d="M365.9,907.1l59.6,1.9 18,0.2 20.8-0.7 45.6-3 24-0.3 91.4,2.6 17.9,1 38.6,3.3 20.2,0.7 21.6-0.8 44.6-3.8 29.8-1.1" stroke="url(#g307)"/>
<path d="M365.9,908.4l26.8,0.4 38.8-0.5 17.9,0.2 17.9,0.8 35.7,2.4 17.9,0.4 17.9-0.6 32.7-2.3 14.9-0.7 14.9-0.2 47.7,0.3 14.9-0.6 38.7-2.2 14.9-0.5 26.9,0.4 53.6,2.7" stroke="url(#g308)"/>
<path d="M365.9,909.7l71.5-5.1 44.7-4.2 8.9-0.6 12-0.3 11.9,0.4 9,0.6 35.6,4.4 14.8,1.3 15,0.6 32.8-0.2 15,0.3 14.9,1.1 35.6,4.2 14.9,0.9 9,0.2 11.9-0.4 29.8-2.4 14.9-0.8 15-0.2 14.9,0.2" stroke="url(#g309)"/>
<path d="M365.9,911l26.9,1 21.1-0.2 20.7-1.3 41.7-4.3 23.9-1.8 29.9-1.1 41.9-0.8 17.9,0.3 17.9,1.1 14.9,1.6 32.6,4.3 17.9,1.4 12,0 9-0.5 7.8-0.7 36-4.6 15.7-0.7 8.3,0.3 9.6,0.9 11.8,2 14.6,3.1" stroke="url(#g310)"/>
<path d="M365.9,912.2l11.9-1.5 8.9-0.7 9-0.3 9,0.3 14.8,1.9 35.4,6.4 11.9,1.2 9,0.3 11.9-0.3 38.8-2.6 36-0.4 14.9-0.5 14.9-1.2 26.8-2.9 15-0.9 17.9,0.4 29.8,2.9 15,0.7 14.9-0.6 35.6-4.5 12-0.9 9,0 8.9,0.5 20.8,2.7" stroke="url(#g311)"/>
<path d="M365.9,913.5l26.9-1.2 23.9-0.8 35.9-0.5 21.3,0.1 14.6,0.5 11.9,0.8 45.5,4.3 17.1,0.5 17.9-1 37.1-3.7 16.5-0.3 9,0.5 8.9,1 41.4,6.5 8.9,0.8 9,0.3 8.9-0.1 12-0.9 38.6-4.5 26.8-2.3" stroke="url(#g312)"/>
<path d="M365.9,914.8l29.7-3.4 12-0.7 11.9-0.2 18.4,0.9 44.1,5.2 8.9,0.8 12,0.5 17.9-0.2 29.9-1.8 14.9-0.6 15,0 29.9,0.8 11.9,0 9-0.5 10.6-1 42.8-6 8.9-0.8 9-0.2 8.9,0.2 9,0.7 32.6,4.1 11.9,1.2 15,0.8 17.9,0.2" stroke="url(#g313)"/>
<path d="M365.9,916.1l21,0.1 15,0.8 12,1.2 38.4,5.2 14.9,1.3 42.7,1.3 14.1,0.9 17.9,2 32.6,4.7 11.9,1.1 12,0.5 9-0.2 11.9-0.9 46.7-5.9 18.7-2.1 77.5-7.2 35.8-2.8" stroke="url(#g314)"/>
<path d="M365.9,917.3l24,1.4 20.7,0.5 89.6-1.1 26.8-0.9 44.6-3.5 17.9-0.9 20.9-0.2 38.8,1.4 17.9,0.2 17.9-0.5 35.8-1.9 14.9-0.4 14.3,0.3 12.5,0.9 14.8,1.7 20.7,3" stroke="url(#g315)"/>
<path d="M365.9,918.6l48,0.3 23.8,1.2 20.8,2.3 41.4,6.5 11.9,1.2 12,0.4 9-0.3 11.9-1.1 41.4-6.5 11.9-1.3 8-0.5 9.9-0.2 9,0.3 47.7,4.1 11.9,0.6 15,0.1 23.9-1.1 74.6-6" stroke="url(#g316)"/>
<path d="M365.9,919.9l29.7,2.3 20.9,1.2 20.9,0.8 17.9,0.2 26.8-0.4 29.8-1.2 29.8-1.8 53.5-4.1 29.9-1.1 26.8,0.4 44.7,2.4 23.8,0.9 26.9,0.4 50.7,0" stroke="url(#g317)"/>
<path d="M365.9,921.2l20.6,3.8 14.8,1.9 15,1 14.9-0.1 15-0.9 15.7-1.8 73.2-10.5 17.9-1.5 14.9-0.5 18,0.7 35.8,2.9 14.9,0.7 15,0.1 38.9-1.3 17.9,0.2 14.9,0.9 41.8,3.4 14.9,0.7 18,0.3" stroke="url(#g318)"/>
<path d="M365.9,922.4l24-2.9 17.7-0.9 14.9,0.1 29.9,1.3 15,0.3 47.8-0.7 32.9,0.1 15-0.3 11.9-0.7 11.9-1.2 32.6-4.8 11.9-1.4 11.9-0.9 10.7-0.3 12,0.3 40.1,2.1 32.9,1 14.9,0.9 11.9,1.4 8.2,1.4 24,5.2" stroke="url(#g319)"/>
<path d="M365.9,923.7l24-2.8 17.6-1.7 14.9-0.9 15.5-0.4 17.4,0.4 32.8,1.6 17.9,0.4 15.9-0.2 37.9-1.7 20.9,0.2 20.8,1.9 47.3,6.7 14.9,1.4 14.9,0.6 20.9-0.2 26.5-1 36.2-1.8 35.8-2.5" stroke="url(#g320)"/>
<path d="M365.9,925l32.8,0.1 47.8-1 20.9,0 17.9,0.4 71.5,2.7 41.8,1.1 23.9,0.2 26.8-1 14.9-1.3 44.5-4.7 14.9-1 14.4-0.3 12,0.3 12.4,0.7 14.8,1.4 20.8,2.4" stroke="url(#g321)"/>
<path d="M365.9,926.3l24-4 17.5-1.5 15-0.3 35.9,1.2 17.9-0.1 17.9-1.3 41.6-5.1 22.2-1.9 24.1-1.1 52.4-1.4 17.9-0.2 23.9,0.6 23.9,2 97.9,13.1" stroke="url(#g322)"/>
<path d="M365.9,927.5l20.8,2.4 8.9,0.5 9,0 17.8-1.4 32.6-4 11.9-0.8 9-0.1 50.7,1.7 44.8-1.5 14.9,0.1 14.9,0.9 35.7,3.7 17.1,0.7 15.7-0.3 35.8-2.5 14.9-0.5 14.9,0 38.8,1 23.9,0.1" stroke="url(#g323)"/>
<path d="M365.9,928.8l12,2.9 11.5,2 5.9,0.7 9,0.3 6-0.2 9-1 32.5-5.2 9-0.7 9-0.2 14.9,1.1 26.8,3.7 14.9,1.4 15,0.3 28.5-0.6 10.4,0.2 12,0.7 29.8,3 12,0.5 9-0.3 9-0.8 11.8-1.9 26.5-5 14.9-1.6 8.7-0.2 9.3,0.3 29.9,2.7 11.9,0.5 15-0.6 17.9-2" stroke="url(#g324)"/>
<path d="M365.9,930.1l12-2.2 11.6-1.6 8.9-0.6 9-0.1 14.9,1.1 32.6,4.5 14.9,1.4 16.1,0.1 37.6-2.6 17.9-0.4 16.5,0.9 40,4.2 20.1,0.8 18.7-0.6 32.8-2.2 20.5-0.9 63.2-0.4 44.8-1.4" stroke="url(#g325)"/>
<path d="M365.9,931.4l14.7,2.8 9.3,1.5 8.5,0.9 8.9,0.3 15-0.8 35.5-4.8 9-0.6 11.9-0.1 7.2,0.4 10.7,1.2 29.6,4.6 11.8,1.5 12,0.9 14.9,0.3 17.1-0.5 117.3-5.5 21-0.5 35.9-0.1 41.8-1.5" stroke="url(#g326)"/>
<path d="M365.9,932.6l23.8-1.4 89.4-3.4 35.8-0.8 44.7-0.2 29.9,0.2 23.8,0.7 16.7,1 39.8,3.2 17.9,0.8 20.9,0.1 56.6-1.6 14.9,0.3 17.9,1.1" stroke="url(#g327)"/>
<path d="M365.9,933.9l12-0.2 11.9,0.3 38.8,2.7 21.3,0.5 17.5-0.8 35.7-3.5 8.9-0.4 9-0.1 12.9,0.7 36,4.1 13.6,0.9 17.9-0.1 32.8-2.4 17.9-0.4 17.9,1 35.7,3.7 20.3,0.7 9.6-0.1 11.9-0.8 50.5-5.8" stroke="url(#g328)"/>
<path d="M365.9,935.2l29.2,6.6 8.8,1.3 9,0.8 11.9,0.1 29.9-1.8 14.9-0.3 15,0.4 29.8,1.9 12,0.2 9-0.2 10.5-0.6 40-4.8 17.9-1.3 17.9,0 38.9,2 20.9,0.3 17.9-0.5 77.7-3.9 20.9-0.2" stroke="url(#g329)"/>
<path d="M365.9,939.3l17.9-1.3 14.9-0.3 41.8,1.4 17.9,0 14.9-1 38.6-4.2 18-0.7 14.9,0.5 35.7,3.1 13.5,0.7 16.3,0.1 32.9-0.8 17.9,0.3 14.9,1.2 38.6,4.3 20.9,1.2 11.9,0 12-0.6 38.6-3.9" stroke="url(#g330)"/>
<path d="M365.9,941.9l29.8,2.3 11.9,0.4 11.9-0.2 17.9-1 44.6-4.5 8.9-0.6 12-0.2 11.9,0.3 11.9,0.8 50.5,5.2 23.8,1 18-0.1 65.6-1.6 68.6-2.5 20.8-0.1 24,0.8" stroke="url(#g331)"/>
<path d="M365.9,943l26.8,1.8 17.9-0.1 14.9-1.3 41.4-5.8 11.9-1.1 11.9-0.3 17.9,0.6 38.7,3.4 17.9,0.8 14.9,0 32.9-1.1 17-0.2 18.8,0.6 35.8,2.3 17.9,0.7 20.9,0 47.7-0.9 26.9,0.6" stroke="url(#g332)"/>
<path d="M365.9,944.6l17.9-1 17.9,0 32.8,1.1 35.8,1.9 20.8,0.3 18.8-0.8 46.7-3.7 23.9-0.5 17.9,0.5 41.7,2.2 49.9,1.7 39.6,2.2 14.9,0.5 17.9-0.7 35.6-3.7" stroke="url(#g333)"/>
<path d="M365.9,947.3l17.9,0.2 17.9,1.3 23.7,2.8 38.4,5.7 11.9,1 8.9,0.2 12-0.6 11.8-1.6 11.7-2.5 31.7-8.3 11.8-2.1 11.9-1.2 11.9,0.1 11.9,1.1 38.3,6.6 8.8,1.2 11.9,1.2 17.9,0.9 53.7,1.3 14.9,0.1 14.9-1 11.9-1.6 26.4-4.8" stroke="url(#g334)"/>
<path d="M365.9,954.3l11.8,1.8 8.9,0.9 8.9,0.2 9-0.4 8.9-0.9 11.8-1.6 38.2-6.8 8.9-1.1 8.9-0.5 14.9,0.1 26.8,2 11,0.5 15.8-0.4 8.2-0.8 9.6-1.5 29.2-6 9.3-1.7 11.3-1.3 9-0.4 11.9,0.6 11.8,1.5 38.1,7.4 17.7,2.5 14.9,0.9 23.8,0.3 11.9,0.5 41.6,4.2" stroke="url(#g335)"/>
<path d="M365.9,955.5l14.8-2 12-1.2 9.2-0.3 8.7,0.2 11.9,1.2 29.6,4.8 17.9,2.1 11.9,0.7 32.9,1.2 38.8,3.1 15,0.5 9-0.2 9-0.7 35.6-4.4 15-0.9 14.9,0.5 38.7,4 15,0.1 14.9-1.4 29.5-5.3 11.8-1.5 12-0.7 24,0.2" stroke="url(#g336)"/>
<path d="M365.9,956.5l26.3-5.3 17.6-2.9 16.1-1.9 12-0.4 10.5,0.3 8.9,0.9 35.4,5.4 8.9,1 8.3,0.5 9.5-0.1 9-0.6 32.5-4.3 14.8-1.2 14.9,0.1 32.7,2.6 14.9,0.5 14.9-0.5 26.7-2.2 11.9-0.3 10.3,0.5 10.5,1.2 32.1,6.4 8.8,1.4 6,0.7 8.9,0.4 6,0 11.7-0.8 12-1.4" stroke="url(#g337)"/>
<path d="M365.9,957.4l14.9-1 17.9-0.1 27.2,1.5 41.3,3.2 12,0.5 14.9,0.1 15.8-0.6 40.9-2.4 17.9-0.6 20.9-0.1 44.8,0.8 20.9-0.3 20.8-1.2 44.6-4.3 12-0.6 11.9-0.2 14.9,0.4 12,0.8 11.8,1.4 14.7,2.7" stroke="url(#g338)"/>
<path d="M365.9,963.7l12,3.5 12,2.6 11.1,1.4 8.9,0.3 15-0.8 29.7-3.6 8.9-0.8 9-0.3 12,0.1 32.8,2.1 15,0.5 13.6-0.3 40.2-1.8 47.9-0.3 20-1.6 39.5-5.1 17.9-1.1 9,0.1 11.9,0.6 44.8,3.9 20.9,0.6" stroke="url(#g339)"/>
<path d="M365.9,965l17.9,0.2 15,0.7 11.9,1.1 39.2,4.6 17.3,0.9 12-0.4 11.9-1.2 11.8-2 35.2-6.8 14.9-1.8 11.9-0.5 15,0.3 38.7,3.5 18,0.9 14.9,0 38.9-1.7 17.9-0.2 15,0.3 41.8,1.7 32.9,0.4" stroke="url(#g340)"/>
<path d="M365.9,966l41.5,6.3 8.9,1 9,0.4 12-0.1 11.9-0.9 11.9-1.5 32.6-5.2 8.9-0.9 12-0.5 8.9,0.2 9,0.7 35.6,4.9 14.9,1.3 15,0.3 33-1 14.9,0 15,0.9 32.8,2.9 15,0.5 12-0.4 14.9-1.1 11.9-1.5 29.6-4.5 11.9-1.2 9-0.6" stroke="url(#g341)"/>
<path d="M365.9,966.8l9-0.5 11.9,0.1 51.1,3.3 14.4,1.6 33.6,4.8 12,1.5 13.7,1 12,0.3 20.9-0.7 37.5-3.4 13.1-0.9 17.9-0.6 38.8-0.2 18-0.5 17.9-1.2 35.7-2.9 44.8-2.3 14.9-0.3 14.9,0.9" stroke="url(#g342)"/>
<path d="M365.9,977.5l17.9-1.4 35.5-4.1 14.9-0.9 17.9-0.4 20.9,0.6 50.6,3.4 17.9,0.5 47.8,0.3 56.6,3.2 20.1,0.6 27.6,0.2 50.7-0.7 29.9,0 11.9-0.4 11.9-0.9" stroke="url(#g343)"/>
<path d="M365.9,979l20.9-0.6 12,0 11.9,0.5 29.9,2.4 17.9,0.3 11.9-0.7 9-1 38.4-5.9 8.9-0.8 12-0.3 17.9,1.1 32.6,4.2 16.8,1.5 16.1,0.3 35.8-0.9 15,0.1 14.9,0.8 38.2,3.5 12.5,0.6 15,0 14.9-0.9 14.8-1.8 14.8-2.4" stroke="url(#g344)"/>
<path d="M365.9,980l11.8-1.6 9-0.7 8.9-0.2 9,0.2 17.9,1.6 41.4,5.6 17.9,1 17.9-0.6 41.6-4.5 11.9-0.9 11.9-0.5 20.9,0.1 47.8,2 23.9,0.5 26.9-0.4 44.7-2.1 32.9-0.8 17.9,0.2 17.9,1.1" stroke="url(#g345)"/>
<path d="M365.9,980.7l9,0 27,1.1 8.8,0 29.8-2.1 14.9-0.2 14.9,1 35.6,4.3 9,0.7 8.9,0.2 12-0.3 32.8-2.5 11.9-0.4 12,0.1 32.8,1.6 14.9-0.1 13.8-0.9 36-4.5 12.6-0.7 9,0.1 9,0.6 23.7,2.9 11.9,0.8 12-0.3 17.9-1 11.9-0.4" stroke="url(#g346)"/>
<path d="M365.9,987.8l17.7-2.4 9-0.6 8.9-0.1 20.9,1.2 39.5,3.8 11.1,0.5 11.9,0 20.9-0.9 80.5-4.8 11.9-0.4 9,0.1 11.9,0.8 10.9,1.6 12,2.7 26.4,7.5 9.6,2.2 10.9,1.8 8.9,0.5 11.9-0.6 8.9-1.3 7.4-1.5 27.5-6.6 14.7-2.7 14.9-1.1 14.9,0.3" stroke="url(#g347)"/>
<path d="M365.9,990l11.9,1.2 26.7,3.5 11.9,1.1 32.8,0.6 36.7,1.5 11.1,0.2 9-0.1 11.9-0.8 41.6-4.8 14.9-1 17.9,0.2 32.8,2.7 14.9,0.8 14,0 36-1.9 12-0.3 12,0.3 27.5,1.9 9,0.2 9-0.4 8.9-0.9 29.6-4" stroke="url(#g348)"/>
<path d="M365.9,999l17.6-3.1 11.8-1.8 11.9-1.1 8.9-0.4 8.9,0.1 11.9,0.9 11.9,1.3 35.4,4.9 8.9,0.9 11.9,0.7 17.9-0.1 44.5-3.3 9-0.4 11.9,0.1 11.9,0.8 11.8,1.4 32.3,5.7 11.8,1.7 9.9,0.8 7.9,0.3 11.9-0.5 11.9-1.4 40.9-7.9 14.8-1.8 8.6-0.3 9.3,0.1 11.9,0.8 14.8,1.6" stroke="url(#g349)"/>
<path d="M365.9,1003.4l26.8-2.1 18-0.1 14.9,1.2 38.5,5.2 9.8,0.8 8.1,0.3 12-0.3 8.9-0.8 41.5-6.1 8.9-0.9 8.9-0.5 9,0.1 9,0.5 11.9,1.2 29.6,3.9 12,1 8.3,0.2 18.6-0.5 32.8-2.7 14.9-0.7 17.7,0 42.1,1.1 15-0.2 14.9-0.6" stroke="url(#g350)"/>
<path d="M798,837l68.7-2.5 24-0.4 26.9,0.6 50.7,3.4 23.1,0.8 75.6-1 38.8-2.6 18.6-0.6 53.2-0.1 14.9,0.3 14.9,0.8 29.8,2.8 15,0.6 14.9-0.2 62.8-1.9" stroke="url(#g351)"/>
<path d="M798,838.5l17.9,0.7 35.9,2.1 26.9,0.7 21-0.4 41.8-2.3 18-0.4 17.9,0.4 32.9,1.9 15,0.2 11.9-0.6 29.8-2.8 12-0.5 15,0.5 44.8,2.7 26.9,0.8 20.9-0.3 35.9-2.3 15-0.3 11.9,0.6 26.8,2.6 12,0.5 14.9-0.6 26.8-3.2" stroke="url(#g352)"/>
<path d="M798,839.6l38.9,1.3 14.9,0 56.8-2.6 26.9-0.4 19.7,0.5 43,2.4 21,0.3 41.8-1 41.8-2.2 12-0.2 17.9,0.7 44.7,3.8 12,0.6 12,0.2 14.9-0.4 41.1-2.1 54.6-1 17.9,0.1" stroke="url(#g353)"/>
<path d="M798,842.7l20.9-1.5 17.9-0.6 18,0.1 32.9,0.6 20.9-0.2 50.8-2.8 17.9-0.5 18,0.4 41.8,2.4 14.8-0.1 36.2-1.4 24.2-0.1 26.4,0.5 46.1,2.1 19.7,0.5 23.9-0.4 41.8-2.1 18-0.3 17.5,0.7 24.2,2.7" stroke="url(#g354)"/>
<path d="M798,844l20.9-1.2 18,0.3 17.9,1.5 39.9,4.7 10.7,0.8 9,0.2 18-0.6 41.7-4.4 8.9-0.7 12-0.4 18,0.4 44.7,3.6 24,1.1 14.9,0.2 18-0.3 50.9-2.2 14.9-0.4 15,0.4 29.9,2.5 11.9,0.3 8.1-0.3 33.8-2.5 50.8-3" stroke="url(#g355)"/>
<path d="M798,845.4l14.9-1 15-0.4 35.9,0.4 17.9,1 41.8,4 20.9,0.9 17.9-0.4 41.8-2.9 15-0.5 17.9,0.3 29.9,1.9 18,0.6 11.9-0.1 29.9-1.3 15-0.2 15,0.6 32.8,2.9 14.9,0.5 65.8-3.2 35.8-3.1 11.9-0.3 12,0.3" stroke="url(#g356)"/>
<path d="M798,850.8l36.3-4.4 11.3-0.8 11.9-0.2 24,0.6 110.5,5.6 14.9,0.4 15-0.1 32.8-2 15-0.3 68.8,1.5 53.8-0.1 38.9,0.8 38.9-0.9 38.9,0.5 20.9-0.6" stroke="url(#g357)"/>
<path d="M798,852l23.9,0.3 18-0.5 17.9-1.2 38.7-3.4 21-1.1 74.8-1.2 23.3,0.6 36.3,3.4 15,0.7 14.9-0.1 35.9-1.5 18.8-0.2 20.1,0.7 32.8,2.7 17.9,0.9 35.9-0.5 50.9-1.6 14.9,0.5 20.9,1.5" stroke="url(#g358)"/>
<path d="M798,853.9l33,0 56.9-1.2 17.9,0.3 50.9,1.8 50.9-0.8 18,0.9 29.8,3.4 11.9,0.3 12-0.6 14.9-1.6 56.3-8.2 12-1.1 11.9-0.3 15,0.6 26.8,2.6 12,0.8 15,0.3 29.9-0.5 15,0.1 17.6,0.9 24.2,2.3" stroke="url(#g359)"/>
<path d="M798,855.5l18-0.2 14.9,0.5 44.8,3.8 19,0.8 19.9-0.6 35.8-2.9 18-0.3 14.9,0.9 29.8,3.1 12,0.5 12-0.3 26.9-2 14.9-0.5 35.9-0.3 39,0.7 17.9-0.3 15-1.3 35.5-4.9 18-1.1 17.9,0.3 71.8,4.1" stroke="url(#g360)"/>
<path d="M798,857l38.9-1.6 38.8-3.5 20.9-0.9 10.2,0.2 10.7,0.6 44.7,4.6 11.9,0.9 15,0.5 41.9-0.5 35.9,0.1 12-0.3 20.9-1.2 41.8-3.2 21-0.8 10.1,0.1 12.1,0.6 40.4,3.9 15,0.8 15-0.1 29.9-1.5 14.9-0.4 15,0.5 14.9,1.3" stroke="url(#g361)"/>
<path d="M798,862.9l32.6-4.8 8.9-1 11.9-0.7 12,0 32.9,0.9 18,0.1 16.7-0.4 37.1-1.7 18-0.3 14.9,0.3 35.9,1.9 23.9,0.2 24-0.5 39.6-2.1 17.2-0.3 17.9,0.4 44.9,2.1 38.9,0.4 14.1,0.4 21.8,1.3 32.8,2.9 17.9,0.8" stroke="url(#g362)"/>
<path d="M798,864l98.6,0.7 26.9-0.5 59.8-1.8 26.9-0.4 74.7,1 41.8,2.4 12,0.3 17.9-0.4 32.8-2 18-0.6 56.7,0 44.9,1.1 20.9,0.2" stroke="url(#g363)"/>
<path d="M798,865.5l29.8,2.9 20.9,0.9 9.7-0.2 14.2-0.8 53.6-4.7 26.9-1 59.9,1.1 44.8-0.9 66.6,0.1 62,2.1 15-0.3 32.8-1.8 15-0.1 50.8,1.1 29.9,1.6" stroke="url(#g364)"/>
<path d="M798,867.8l14.8-2.5 11.9-1.5 11.9-1 12-0.5 20.9,0.3 50.8,4.3 14.9,0.8 12,0.1 18-0.4 41.8-2.3 15-0.5 15,0 32.9,1.3 12-0.1 11.9-0.8 23.9-2.4 17.9-0.7 12,0.3 12,0.9 38.7,4.1 14.9,1.4 29.9,1.5 21,0.4 14.9-0.1 50.9-2.6" stroke="url(#g365)"/>
<path d="M798,869l47.8,1.2 30-0.3 14.9,0.2 44.8,2 18,0.4 23.9-0.8 56.7-4.4 20.9-1.1 11.9-0.3 15,0.5 32.7,3.2 15,0.7 11.9-0.2 32.9-1.5 15-0.3 17.9,0.3 35.9,1.5 20.9,0.4 17.4-0.2 33.4-1.3 15,0" stroke="url(#g366)"/>
<path d="M798,870l8.9,0.5 11.9,1.4 35.3,5.8 44.4,6.3 17.8,1.6 14.7,0.5 12.1-0.4 12-0.8 11.8-1.3 38.5-5.1 11.9-1.2 10.4-0.6 22.4-0.4 23.9,0.3 11.9,0.6 29.7,2.7 17.9,0.4 11.9-0.6 32.8-2.5 14.9-0.6 20.9-0.1 43.4,0.9 16.3-0.3 14.8-1.2 29.5-4.6 11.9-1.2" stroke="url(#g367)"/>
<path d="M798,879.8l26.6-3.6 9.7-0.6 8.2,0 11.9,1.1 32.4,5.2 11.9,0.8 8.1-0.1 9.8-0.8 8.8-1.3 32.2-6.5 8.9-1.4 8.9-1 11.9-0.6 14.9,0.6 32.7,2.9 26.8,1.6 17.9,0.5 38.8-0.5 11.9,0.6 29.7,2.5 9,0.4 14.9,0 37.2-2.2 13.5-0.3 20.8,0.6 38.7,2.6 12,0.6 11.9-0.2 11.9-1" stroke="#6f0090"/>
<path d="M798,881l38.8-2.9 12-0.5 17.9-0.1 47.9,0.5 17.9,0.4 18,1 53.6,4.9 11.5,0.5 12.1,0 48.2-1.4 11.9-0.9 29.8-3 14.9-1.2 32.9-1.6 24-0.5 17.9,0.5 29.9,1.5 35.9,1.2 32.9,1.7 11.9,0.2 12-0.3" stroke="url(#g368)"/>
<path d="M798,882.5l62.8,2.4 23.9,0.2 22.1-1 49.5-4.3 21-0.6 20.9,0.8 41.6,3.8 15.1,0.3 35.9-1.2 38.9,0.1 26.9-0.5 23.9-1.1 40.6-2.9 12.1-0.3 12.1,0.3 51.7,2.9 32.9,1.1" stroke="url(#g369)"/>
<path d="M798,885.6l26.9-1.2 15,0.3 14.9,1.3 35.6,4.9 8.9,0.9 12,0.7 14.9,0.2 42-0.6 47.4,1.5 15.4-0.6 33-2.7 14.8-0.5 20.9,0.4 41.9,2.6 14.9,0 15-0.8 26.8-3 14.9-1.1 53.9-0.5 32.9,0.1 15-0.6 14.9-1.3" stroke="url(#g370)"/>
<path d="M798,887l26.7,3.1 20.9,1.6 49.1,1.3 40.6,1.8 18,0.3 11.9-0.2 12-0.6 44.7-3.8 50.9-0.6 59.7-3.3 15-0.6 17.9,0.1 32.9,1.8 10.7,0.2 34.1-0.5 33,0.1 32.9-0.7 20.9,0" stroke="url(#g371)"/>
<path d="M798,888.3l12.1,0.3 14.8,0.9 53.6,5.7 23.9,1.6 21,0 47.9-1.5 44.9,0.7 14.9,0 50.9-1.7 15,0.4 32.8,2.4 18,0.6 17.9-0.6 38.8-3.6 26.9-1.3 21-0.4 29.9,1.1 12-0.1 11.9-1 23.7-3.5" stroke="url(#g372)"/>
<path d="M798,890.6l14.9-1.1 15-0.6 38.9,0.2 20.9,1.1 50.7,4.1 16.8,0.7 16.1,0.2 47.9-0.6 35.9,0.2 18-0.3 20.9-1.3 35.7-3.7 14.9-0.7 15,0.2 37.3,2.5 16.5,0.6 23.9-0.1 18-0.5 44.8-3 14.9,0.5 14.9,1.6" stroke="url(#g373)"/>
<path d="M798,898.2l18,0 35.8-2.1 59.9-0.6 24-0.7 23.9-2 38.6-4.9 8.9-0.8 9-0.3 11.6,0.4 27.2,2.8 12,0.8 8.9,0.2 30-0.5 15,0.2 68.8,3.2 32.9,1.1 24,0 29.9-2 11.9-0.1 14.9,1.3 26.7,4" stroke="url(#g374)"/>
<path d="M798,899.5l17.9-0.6 38.8-3.1 41.9-1.2 30,0.5 53.8,2.6 20.9,0 9-0.4 8.9-0.9 35.6-4.9 15-0.6 42.5,2.5 47.2,0.8 41.9,1.4 17.9,0.1 30-0.7 14.9,0.2 15,0.9 29.8,2.8 11.9,0.6 9,0" stroke="url(#g375)"/>
<path d="M798,900.8l32.8-3.2 12-0.5 9,0 42.9,2.2 40.9-0.1 15,0.4 15,1 29.7,3.5 15,0.8 9-0.3 6-0.6 32.4-5.7 9-0.9 9-0.3 20.9,0.6 41.9,3.2 11.9,0.5 18-0.4 29.9-2.6 10.7-0.4 10.2,0.2 32.9,2.4 44.9,2.2 15-0.3 17.9-1.7" stroke="#5e00a1"/>
<path d="M798,902l21-0.7 41.7-3.6 24-1.5 20.9-0.4 37.5,0.5 13.4-0.2 10.7-0.5 28.2-2.1 12-0.6 8.9,0 9,0.6 29.8,3.5 14.9,0.2 15-1 41.8-3.8 11.9-0.7 12-0.3 10,0.3 10.9,0.8 29.7,4.2 11.9,1.3 47.8,3.3 27,0.9 41.9-0.2" stroke="url(#g376)"/>
<path d="M798,903.3l20.5-4.4 11.8-2 12-1.4 14.9-0.3 9,0.4 12,1.1 47.6,5.5 29.4,2 39.5,1.7 29.9,0.8 24,0.1 33-0.6 21,0.3 26.9,1.4 44.8,3.6 18,0.7 15-0.4 53.9-3.1 38.8-3.5 29.9-1.9" stroke="url(#g377)"/>
<path d="M798,904.6l24.2-3.8 17.4-1.6 15-0.2 29.9,1 15,0 15-0.7 29.9-2.2 14.9-0.5 12,0.4 12,1.1 38.5,5.9 18,1.8 20.8,0.7 33-0.7 15,0.1 14.9,0.8 35.8,3.2 18,0.7 45-0.2 41.9-1.7 32.9-0.7 15-1.1 17.8-2.3" stroke="url(#g378)"/>
<path d="M798,905.9l20.8-1.5 15.5-1.7 11.2-1.6 29.4-5.3 14.7-2.2 11.9-1.1 11.9-0.4 12,0.5 8.9,0.9 44.2,6.6 8.9,1 12,0.8 11.9,0.1 29.8-0.7 29.9-0.3 29.8-1.6 11.9-0.4 11.9,0.2 36.1,2.6 14.6,0.5 14.9-0.4 35.8-2 29.8,0.2 29.8-0.4 12,0.6 8.1,1 12.1,2 12.1,2.6" stroke="url(#g379)"/>
<path d="M798,907.1l20.8-2.6 14.9-1.5 14.9-0.9 15-0.5 17.9,0 74.9,0.9 62.8,1.3 18-0.5 26.9-2 8.9-0.4 12,0.2 29.9,1.9 11.9,0.2 18-0.6 41.8-2.5 47.9-0.2 15,0.2 9,0.7 8.9,1 23.7,3.6 8.9,1 14.9,0.7 15,0" stroke="url(#g380)"/>
<path d="M798,908.4l26.9,1.6 17.9,0.3 17.9-0.5 38.8-2.4 23.9-0.4 18,0.7 38.8,2.4 17.9,0.4 14.9-0.3 35.9-1.6 41.8-0.6 18,0.1 38.8,0.9 56.8-1.5 35.9,0.8 89.7,0.1" stroke="url(#g381)"/>
<path d="M798,909.7l26.9,1.2 23.9-0.1 17.9-0.8 56.7-4.1 17.9-0.7 18-0.2 29.9,0.5 41.8,2.4 14.9,0.4 47.9-0.4 42.7-1.7 14-0.2 15,0.4 38.8,1.9 38.9,0 53.8,0.4 32.9,1" stroke="url(#g382)"/>
<path d="M798,911l83.8,3.2 21,1.3 41.8,3.2 22.6,0.7 16.3-0.5 17.9-1.6 14.2-2 36.3-6.2 8.7-1 9-0.5 15,0.4 27.7,2.5 14.1,0.5 15-0.2 41.9-1.8 38.9-0.4 23.1,0.6 33.7,3 12,0.6 15-0.2 23.9-1.6" stroke="url(#g383)"/>
<path d="M798,912.2l83.4-7.4 18-1 14.9-0.3 18,0.4 41.8,2.3 20.9,0.6 71.8,0.8 35.9-1.1 9,0 38.8,1.9 15,0.4 35.9-1 14.9,0 35.9,1.7 44.8,1.1 32.9,1.6" stroke="url(#g384)"/>
<path d="M798,913.5l20.7-3.3 15.6-2 14.2-1.2 14.9-0.4 12,0.3 12,0.8 47.6,4.9 21,1.5 20.9,0.3 33-0.9 14.9,0 38.9,1.9 33,0.9 41.8,1.8 12-0.1 12-0.7 44.7-4.8 17.9-1 74.9,1.2 29.9,0.8" stroke="url(#g385)"/>
<path d="M798,914.8l26.9,2.1 17.9,0.4 15.6-0.5 41.2-2.5 12-0.4 11.9,0.1 18,0.9 41.7,3.5 20.3,0.7 15.6-0.5 32.8-2.7 9-0.4 12,0.1 32.8,1.9 21,0 17.9-1 44.8-3.6 17.9-0.9 18-0.4 14.9,0 12,0.4 32.8,2.6 12,0.6 14.9,0.1 18-0.5" stroke="url(#g386)"/>
<path d="M798,916.1l20.7,3.3 8.9,1 9,0.6 15,0.2 32.9-1.4 15-0.1 15,0.9 32.8,3.2 14.9,0.6 9-0.2 9-0.6 8.9-1.1 32.6-5 11.9-1.2 15-0.6 24-0.1 44.9,1.6 15-0.5 32.8-2.2 15-0.3 15,0.6 37.9,3.1 12.9,0.4 15-0.5 35.9-2.3 14.9-0.1 18,0.7" stroke="url(#g387)"/>
<path d="M798,917.3l38.9,0.2 74.7-1.1 19.4,0.3 46.4,1.5 20.9,0.1 17.3-0.4 33.4-2.1 15-0.3 56.8,0.8 56.8,2.3 62.7-0.4 50.8,1.8 18-0.7 20.8-2" stroke="url(#g388)"/>
<path d="M798,918.6l32.8-1.4 27.6-0.3 20.1,0.5 62.6,2.5 71.6,1.5 20.9-0.2 32.7-2 26.8-2.3 14.7-2.3 35.1-7.2 11.9-1.4 11.9-0.5 8.9,0.4 8.9,0.9 36.6,6 13.6,1.6 17.9,0.6 29.8-0.5 11.9,0.3 14.9,1.1 20.7,2.7" stroke="url(#g389)"/>
<path d="M798,919.9l24.2-2.6 17.5-0.8 18.7,0.4 47.1,3.1 20.9,0.4 15-0.4 38.8-1.7 18-0.4 14.9,0.1 35.9,1.3 12,0 12-0.6 29.7-3 12-0.5 9.7,0 36.3,1.4 13.8,0.1 15-0.3 31.6-1.6 10.2-0.2 21,0.8 44.7,3.7 14.9,0.6 18,0.2" stroke="url(#g390)"/>
<path d="M798,921.2l29.9-1.2 12,0 14.9,0.5 23.9,1.9 41.6,4.8 17.9,1.7 20.9,1.2 21,0.4 44.8-0.8 56.8-2.9 15,0.1 29.9,1 15-0.1 17.9-0.9 37.4-2.8 16.4-0.6 19.9-0.2 48.3,0.7 12.1-0.2 15.4-0.8 20.9-1.8" stroke="url(#g391)"/>
<path d="M798,922.4l14.6,3.3 14.7,2.9 11.9,1.7 14.9,1.4 16.4,0.6 40.6,0.3 47.9,0.9 27-0.7 50.8-4.2 44.9-2.1 14.9-1.6 32.7-4.6 11.9-1.1 9-0.4 9-0.1 12,0.4 41.8,3.2 24,1 20.4,0 42.5-1.5 30,0.6" stroke="url(#g392)"/>
<path d="M798,923.7l26.4-5.6 20.8-3.2 20.9-1.9 20.9-0.5 21,0.5 23,1.5 18.9,2.1 41.5,5.5 15,1.3 15,0.6 39-0.1 51.9,3.1 17,0.8 21-0.2 35.9-2.7 10.7-0.3 10.3,0.3 29.8,2.7 12,0.2 54-2 26.9-2.1" stroke="url(#g393)"/>
<path d="M798,925l21,0.1 17.9-0.5 14.9-1.1 41.7-4.1 13.3-0.8 13.7-0.2 95.7,2.2 38.8,2.8 59.8,3.9 71.7,3.6 15-0.4 23.9-2 11.9-0.7 8,0.1 27.9,1.3 12-0.2 17.9-1.3 26.8-2.7" stroke="url(#g394)"/>
<path d="M798,926.3l32.9-1.3 50.8-4 21-0.3 15,0.6 35.8,3 13.7,0.8 13.3,0.2 32.9-0.7 12,0.3 11.9,1 35.7,4.6 53.8,4 15,0.5 15-0.3 35.8-2.7 18-0.7 27,0.2 35.9,1.3 15-0.1 8.9-0.7 8.3-1 12.1-2.2 12.1-2.5" stroke="url(#g395)"/>
<path d="M798,927.5l80.8,1.4 53.8,2.7 21,0.5 20.9-0.2 65.8-2.5 15-0.1 11.9,0.7 23.9,2.5 11.9,0.6 15-0.7 32.6-4 18-1.1 11.9,0 9,0.4 43.7,3.5 16,0.6 18-0.7 35.8-2.9 26.9-0.7" stroke="url(#g396)"/>
<path d="M798,928.8l12.1,1.9 12.1,1.4 8.5,0.5 9,0 15-1.2 35.5-5.6 16.6-1.7 16.3-0.3 32.9,1.3 15,0.1 14.9-0.8 29.9-2.4 15-0.5 15,0.5 14.9,1.1 14.9,1.5 32.7,4.1 18,1.1 10.2,0 36.2-1.2 13.5,0 18,0.6 35.9,2 17.3,0.3 12.1-0.3 36.4-1.9 24-0.5" stroke="url(#g397)"/>
<path d="M798,930.1l24.2,0.8 17.7-0.2 14.9-1.1 35.8-3.6 20.9-0.9 18,0.4 38.9,2.3 17.9,0.2 17.2-1 36.5-3.6 11.9-0.4 9.1,0.3 8.9,0.7 32.7,4 17.9,1.8 14.9,1.1 12,0.5 18,0.1 35.9-0.8 18,0 20.9,0.5 32.9,1.4 15,0.3 17.6-0.6 24.2-2.2" stroke="url(#g398)"/>
<path d="M798,931.4l26.9-1.1 23.9,0.5 21.7,1.2 61.9,5.4 17.9,1 18,0.3 20.9-0.4 44.8-2.9 30,0 8.9-0.3 11.9-1.1 27.5-3.7 17.1-1 62.9,0.6 35.9,0.9 32.9,0.1 35.9,1.4 12-0.1 20.9-0.8" stroke="url(#g399)"/>
<path d="M798,932.6l17.6,3.7 11.8,2 11.9,1.4 12,0.4 18-1.1 38.7-4 18-0.8 12,0 11.9,0.4 53.8,3.7 18,0.7 15-0.5 27.3-2.8 8.5-0.6 12,0 26.9,1.5 12,0 109.8-5.6 30.9-0.2 33-0.7 14.9,0.6 17.9,1.9" stroke="url(#g400)"/>
<path d="M798,933.9l68.8-2 12,0 20.9,1.1 44.6,5.4 18,1.1 14.9-0.1 38.8-2.8 15-0.3 12,0.3 38.8,2.3 24,0.8 17.9-0.2 38.9-1.6 15-0.1 15,0.8 29.8,2.1 15,0.4 15-0.5 14.9-1 41.7-4.2 20.9-1.5" stroke="url(#g401)"/>
<path d="M798,935.2l20.9-0.9 59.8-0.3 20.9,0.7 38.9,2 20.9,0.7 29.9,0.3 59.8-0.2 44.8,2 47.9,0.4 44.8,1.5 17.9,0.2 35.9-0.5 29.9-1.1 11.2-0.8 33.5-3.2 14.9-0.8" stroke="url(#g402)"/>
<path d="M798,939.3l29.7,3.9 20.9,1.5 14.9,0.2 47.9-0.5 50.9,1.6 23.9,0.3 41.9-0.7 41.8-1.7 35.9-1 32.9-1.6 15-0.3 23.9,0.5 50.8,2.8 18,0.2 14.9-0.9 26.8-3.2 11.9-1.1 14.9-0.4 15,0.4" stroke="url(#g403)"/>
<path d="M798,941.9l50.8-1.9 18-0.2 15.8,0.1 29,1.5 53.7,4.4 26.1,0.8 18.7-0.4 35.9-1.6 42.1-1.3 20.7-0.4 88.1,1.9 19.5,0.1 35.9-0.4 29.9,1 9,0 9-0.3 8.9-0.7 20.8-2.6" stroke="url(#g404)"/>
<path d="M798,943l32.6,4.9 20.8,2.3 80.8,4.2 24,0.6 23.9-0.7 41.8-3.3 15-0.9 15,0 36.2,1.2 17.7-0.1 23.9-0.9 32.9-2.2 15-0.6 18,0.4 32.8,2.7 15,0.1 50.8-3.2 11.5-1.2 24.2-3.3" stroke="url(#g405)"/>
<path d="M798,944.6l29.6,4.7 17.8,2.1 12,0.7 32.9,1.1 41.9,2.9 18,0.6 11.9-0.3 9-0.6 38.7-4.3 20.9-1.3 21-0.1 50.9,1.7 38.9-1.2 15-0.1 32.9,1.4 15,0.2 56.9-2.3 11.9-1.2 23.8-3.2 8.9-0.7 11.9-0.4 12.1,0.3" stroke="url(#g406)"/>
<path d="M798,947.3l41.7,4.6 20.9,1.1 17.9,0.1 50.9-0.6 49.9,0.8 16-0.1 17.9-0.9 38.9-3 29.9-0.9 17.9,0.5 38.7,4.1 10,0.7 11,0.3 35.9-0.9 32.9,0 32.9-1.5 24,0.3 8.9-0.2 11.5-0.9 24.2-3.4" stroke="url(#g407)"/>
<path d="M798,954.3l15,0.5 33.4-0.1 32.5,0.8 20.9,0 27-1.3 44.7-3.6 19.9-1.1 16-0.3 39,0 78-2.2 8.8,0.2 12,0.7 39.6,5.4 13.9,1 15-0.2 35.9-2.1 32.8-2.9 6-0.2 8.9,0.3 6,0.5 26.6,4.5" stroke="url(#g408)"/>
<path d="M798,955.5l41.9,0.7 44.8,3.2 21,0.4 20.9-1 41.7-4.2 20.9-1.4 15-0.5 26.9-0.4 50.9,0.5 12-0.7 32.8-2.7 24-0.6 21.9,0.3 17,0.7 35.8,3.4 11.9,0.7 12-0.4 26.8-2.2 12-0.2 15,1.1 26.7,3.3" stroke="url(#g409)"/>
<path d="M798,956.5l24.2,2.6 8.6,0.4 9,0 14.9-0.9 35.7-4.3 17.9-1.3 17.9,0 32.9,1.7 18,0.3 12-0.2 38.6-1.6 39.2-0.4 17.9,0.5 44.8,3.6 44.9,1 14.9,0 12-0.5 32.8-3.2 11.1-0.4 9.8,0.1 32.9,1.8 41.9,0.8" stroke="url(#g410)"/>
<path d="M798,957.4l17.9-1.6 56.8-3.3 15-0.5 11.9,0 24,1 47.7,3.4 44.9,1.9 9,0.8 26.7,3.6 8.9,0.7 12,0.1 26.9-2 9-0.2 44.8,2 44.9-0.6 42,1 20.9-0.4 23.9-1.1 15-1.3 29.7-3.4" stroke="url(#g411)"/>
<path d="M798,963.7l27-0.5 65.8-3 15-0.2 11.9,0.2 15,0.9 14.9,1.5 47.4,6.9 9,0.8 9,0.3 11.9-0.6 11.9-1.7 20.6-3.7 9-0.9 6-0.3 35.9,1.4 40.3-0.4 43.5,1.2 12-0.2 35.9-1.7 89.9-0.1" stroke="url(#g412)"/>
<path d="M798,965l32.8,3 23.9,1.4 104.7,1 26.9-0.6 47.8-3.2 44.9-1.5 14.9,0.1 32.9,2 12,0.3 17.9-0.6 32.9-1.9 14.9-0.2 29.9,1.2 41.9,2.5 11.9,0.4 17.5-0.8 24.2-3.1" stroke="url(#g413)"/>
<path d="M798,966l14.9,0.6 33.5,2.4 17.3,0.4 29.9-0.6 41.8-2.1 17.9-0.6 20.9,0 47.9,1.1 44.8-1.8 59.8-1.6 17.9,0.3 35.9,1.6 44.8,0 44.2,1.7 9.6-0.1 32.9-1.4 17.9,0.1" stroke="url(#g414)"/>
<path d="M798,966.8l32.8,2.5 11.9,0.5 11.9-0.6 32.7-3.9 11.9-1.1 11.9-0.6 15-0.2 32.8,0.5 38.9-0.1 11.9,0.6 8.9,1 8.9,1.5 29.2,6 8.9,1.2 9,0.3 8.9-0.5 8.9-1.2 32.2-6.7 8.8-1.5 8.9-1.1 12-0.7 11.9,0.1 11.9,0.8 47.5,5.6 11.9,1.1 12,0.5 11.9,0 9-0.5 38.6-3.9 12-0.1 8.9,0.6" stroke="url(#g415)"/>
<path d="M798,977.5l8.6,2.7 8.6,2.3 14.7,2.9 17.9,1.9 20.9,0.8 47.8-1.7 53.9,0.3 20.9-0.9 8.9-0.8 11.9-1.6 29.3-6.1 10.5-1.8 7.2-0.9 6-0.3 6,0 8.9,0.7 35.6,4.9 9,0.4 8.9-0.2 14.9-1.6 41.4-6.6 11.9-1.2 11.9-0.6 19.6,0.1 19.3,1 14.9,1.5 29.6,3.8 12,1 11.9,0.2 9-0.3" stroke="url(#g416)"/>
<path d="M798,979l24.2-3 8.5-0.6 9-0.2 14.9,0.8 35.7,3.9 16.5,0.8 12.1-0.2 36.3-2.2 12.9-0.3 17.9,0.5 32.9,2.4 17.9,0.7 26.9-0.4 41.9-1.8 47.9,0.9 11.9-0.5 26.9-2.2 12-0.6 32.9,1 32.9,0 35.9,1.6 11.8,0 12.1-0.6" stroke="url(#g417)"/>
<path d="M798,980l41.8-3.4 35.7-4.3 15-0.7 12,0.3 11.9,1.2 11.9,1.9 28.9,5.4 9.4,1.5 11.9,1.4 14.9,0.8 21.1-0.3 63.5-3 32.3-0.6 38.9-1.3 12,0.1 27,1.2 12,0.3 9-0.3 23.9-1.8 9-0.4 32.9,0.8 33-0.5 12,0.5 11.9,1.2" stroke="url(#g418)"/>
<path d="M798,980.7l11.9,0.8 29.7,3.5 12,0.6 14.9-0.7 44.7-3.5 23.9-1.3 26.9-0.7 29.4,0.4 18.5,0.9 14.8,1.3 11.9,1.6 29.4,5.5 10,0.6 4.9-0.3 7.2-1.2 10.3-2.9 17-5.6 11.6-2.9 9.5-1.3 11.4-0.3 11.9,0.9 14.8,2.3 17.4,4.3 31.6,9.4 9.6,1.6 8.2,0.4 5.9-0.4 8.9-1.2 38.1-8 11.8-2 11.8-1.4 12-0.3" stroke="url(#g419)"/>
<path d="M798,987.8l26.9,2.7 15,0.5 11.9-0.7 30.8-2.9 8.1-0.2 9,0.2 14.9,1.3 32.7,4.6 9,0.8 9,0.3 14-0.5 30.8-2.7 12-0.8 33-1 12-0.1 6,0.4 8.9,1.1 30.3,6.1 5.1,0.6 7,0.3 11-0.3 29.9-2.1 39,0.8 35.9-2.1 33-0.6 8.3-0.8 27.5-3.5 20.9-1.5" stroke="url(#g420)"/>
<path d="M798,990l11.9,0.3 29.8,2 14.9,0.2 26.8-2.1 38.5-4.6 14.9-1.5 17.9-1 17.9-0.1 17.9,0.7 15,1 11.7,1.1 26.7,3.3 14.9,1 11.9-0.2 29.8-2.4 5.9-0.2 9,0.2 44.5,4.2 44.8,1.5 11.8,1.4 23.6,3.8 8.9,0.9 6,0.2 8.9-0.4 7.6-0.8 42.5-7.2 9-0.8 8.9-0.4" stroke="url(#g421)"/>
<path d="M798,999l32.9,0.9 41.8,2.7 15,0.4 17.9-0.2 44.9-2.2 11.9,0 29.9,1.2 12,0 11.3-0.8 9.5-1.4 26.8-6.6 8.2-1.7 8.9-1.2 8.9-0.4 9,0.2 9,0.8 56.5,6.5 26.8,2.2 17.7,0.5 33.1-1.2 12,0.3 11.9,1.8 23.3,5.1 6,1 5.9,0.4 9-0.2 8.9-1.3 10.8-2.8 12.1-4.1" stroke="url(#g422)"/>
<path d="M798,1003.4l24.2-3.3 8.5-0.7 9-0.3 15,0.6 29.8,2.6 10.2,0.3 7.8-0.2 14.9-1.3 29.6-4.7 11.9-1.6 9-0.8 8.9-0.2 14.6,0.7 39.1,5 11.9,1 9,0.4 12,0 32.9-1.2 15-0.1 13.1,0.3 36.3,1.8 16.5,0.2 47.9-1.8 15-0.2 23.9,0.8 41.9,2.3 24,0.4" stroke="url(#g423)"/>
<path d="M1329.9,837.6l26.7-1.9 14.8-0.4 14.9,1 26.5,3.4 9.8,0.2 5.1-0.3 5.9-0.7 23.7-5 8.4-0.8 5.9,0.1 6,0.7 8.7,1.6 5.8,1.5" stroke="url(#g424)"/>
<path d="M1329.9,839.4l20.7,0.4 26.5,2.2 8.9,0.4 11.8,0 26.6-1.1 35.5,1.1 8.8-0.3 5.9-0.6 8.8-1.3 8.7-1.7" stroke="url(#g425)"/>
<path d="M1329.9,841.3l38.3-2.2 26.6-0.7 39.4,0 28.4-0.6 14.8,0.6 14.7,1.2" stroke="url(#g426)"/>
<path d="M1329.9,843.2l82.7-1.1 47.2-2.6 14.7,0.8 17.6,2.4" stroke="url(#g427)"/>
<path d="M1329.9,845.1l14.7-1.3 14.8-0.7 47.2-0.1 11.9,0.2 32.4,2.6 14.7,0.4 11.8-0.6 14.7-1.6" stroke="url(#g428)"/>
<path d="M1329.9,847.3l14.7-0.5 11.9,0 32.4,1.7 14.7,0.2 26.6-0.9 38.7-1.9 23.2-0.5" stroke="url(#g429)"/>
<path d="M1329.9,849.5l38.4,2.2 14.8,0.4 14.8,0.1 17.7-0.9 32.4-3.7 11.8-0.5 11.8,0.8 20.5,2.9" stroke="url(#g430)"/>
<path d="M1329.9,851.7l11.6,0.5 9.1-0.2 11.8-1 17.6-2.1 11.8-0.6 7.6,0.3 30.7,3.1 11.8,0 17.7-1 9.3-0.3 11.4,0.5 11.8,1.1" stroke="url(#g431)"/>
<path d="M1329.9,853.9l14.6,2.2 11.8,1.3 8.8,0.6 11.1,0.3 15.5-0.4 30.9-2 28.1-1.3 41.4-0.7" stroke="url(#g432)"/>
<path d="M1329.9,856.2l29.5-1.8 23.6-0.6 23.6,0.4 29.4,1.8 14.8,0.5 20.7-0.1 20.6-0.9" stroke="url(#g433)"/>
<path d="M1329.9,858.3l14.6-2.1 11.8-0.7 11.9,0.4 32.3,2.9 33.7,0.6 31.4-0.4 26.5-2" stroke="url(#g434)"/>
<path d="M1329.9,861l23.2-0.6 38.7,0.7 44.3-0.5 14.7,0.5 26.5,1.6 14.8,0.2" stroke="url(#g435)"/>
<path d="M1329.9,863.8l14.7-1.1 14.8-0.5 14.7,0.5 29.5,2.1 17.7,0.6 11.8,0 59-1.4" stroke="url(#g436)"/>
<path d="M1329.9,866.2l29.5-0.3 47.2,2.1 29.5,0.4 26.6-0.9 29.4-2" stroke="url(#g437)"/>
<path d="M1329.9,868.8l14.7,1.9 11.8,0.5 8.8-0.5 26.4-3.3 11.8-0.7 8.9-0.1 26.6,1 32.5-0.4 20.7,0.6" stroke="url(#g438)"/>
<path d="M1329.9,871.4l14.6,2.6 8.6,0.8 6.1,0.2 11.9-0.6 20.6-2.1 11.8-0.5 8.9,0.2 23.7,1.4 14.8-0.1 11.8-1 29.4-3.3" stroke="url(#g439)"/>
<path d="M1329.9,873.9l23.2-3.3 17.9-1.1 63.2-0.1 34.7-1 11.6,0.4 11.6,1.2" stroke="url(#g440)"/>
<path d="M1329.9,876.5l11.8-1.4 11.9-0.6 8.9,0.3 26.7,2.3 23.8,0.2 8.9,0.4 8.9,0.9 26.5,5.2 8.6,0.8 6,0 5.9-0.8 8.7-2 5.6-2" stroke="url(#g441)"/>
<path d="M1329.9,879.2l23.2-4.1 11.9-1.6 11.8-1.1 11.9-0.3 17.8,0.9 32.4,3.8 32.5,3.2 11.8,0.8 8.9,0.2" stroke="url(#g442)"/>
<path d="M1329.9,881.9l8.7-1.9 8.7-1.6 8.9-0.9 5.9-0.1 11.9,0.9 26.4,3.9 11.8,1 14.8-0.2 23.7-1.8 11.8-0.4 11.9,0.4 17.7,1.3" stroke="url(#g443)"/>
<path d="M1329.9,884.6l59-2.1 23.6-0.3 26.5,0.7 35.4,2.1 17.7,0.6" stroke="url(#g444)"/>
<path d="M1329.9,887.3l23.2,0.7 81.1,4 13.9,0.4 11.9-0.4 8.8-0.9 11.7-1.8 11.6-2.3" stroke="url(#g445)"/>
<path d="M1329.9,889.9l20.7,1.8 29.7,1.4 30.7,3 7.8,0.2 8.9-0.4 5.9-0.9 26-6.4 8.8-1.4 5.9-0.3 6,0.1 11.8,1.3" stroke="url(#g446)"/>
<path d="M1329.9,892.5l50.2,0.2 32.4-2.1 10.1-0.4 10.5,0.2 29.5,1.2 11.8-0.1 17.7-0.9" stroke="url(#g447)"/>
<path d="M1329.9,894.6l11.6,2.4 11.7,2 8.8,1.1 11.8,0.6 8.9,0 11.8-0.4 41.4-3.1 11.8-0.5 9.6,0.1 25.9,1.3 8.9,0.1" stroke="url(#g448)"/>
<path d="M1329.9,896.6l20.6,1.7 14.8,0.3 14.7-0.3 56.1-2.3 14.8-0.2 14.7,1 26.5,2.7" stroke="url(#g449)"/>
<path d="M1329.9,898.6l17.7-0.7 32.5-1.8 14.7-0.1 27.8,0.9 25.4,0.1 11.8,0.3 9.1,0.7 23.2,2.8" stroke="url(#g450)"/>
<path d="M1329.9,900.4l14.8,0 14.8-0.4 14.8-1.2 26.5-2.8 11.8-0.4 8.9,0.3 8.9,0.9 26.9,4.6 8.2,1 11.8,0.5 14.8-0.9" stroke="url(#g451)"/>
<path d="M1329.9,902.3l14.7,1.6 14.8,0.5 32.4-2.2 14.8-0.1 35.3,2.6 15.4,0.6 17.1-0.5 17.7-1.5" stroke="url(#g452)"/>
<path d="M1329.9,904.1l26.3,4.3 11.9,1.1 8.1,0.2 6.7-0.2 8.8-0.8 30.9-4.8 13.2-1.1 14.8,0 26.7,1.4 14.8,0.4" stroke="url(#g453)"/>
<path d="M1329.9,905.9l32.6-0.4 38.6,0.8 17.8,1.5 26.9,3.6 11.5,0.7 5.8-0.2 8.9-1 8.7-1.8 11.4-3.2" stroke="url(#g454)"/>
<path d="M1329.9,907.1l11.8-1 11.8-0.4 8.9,0.4 25.4,2.1 10,0.1 11.8-1 26.5-3.2 14.7-0.6 14.8,0.8 26.5,2.8" stroke="url(#g455)"/>
<path d="M1329.9,908.4l20.6,2 17.7,0.6 14.7-0.3 35.4-1.6 50.6-0.1 23.2-0.6" stroke="url(#g456)"/>
<path d="M1329.9,909.7l14.7,1.5 11.8,0.5 8.3-0.2 30.1-1.7 35.4-0.1 32.4-1.8 14.8,0.4 14.7,1.4" stroke="url(#g457)"/>
<path d="M1329.9,911l20.8,0 29.6,1.5 14.8,0.1 14.7-1.2 29.4-4.4 8.8-0.8 6-0.2 8.8,0.3 6.1,0.6 11.6,1.8 11.6,2.3" stroke="url(#g458)"/>
<path d="M1329.9,912.2l20.7,0.5 26.6-1.6 10.6-0.3 10,0.5 20.7,1.6 8.9,0.3 8.8-0.6 23.5-2.6 8.9-0.3 11.8,0.8 11.7,1.7" stroke="url(#g459)"/>
<path d="M1329.9,913.5l20.7,0.4 14.7-0.1 38.3-2 14.8-0.5 14.7,0.3 35.8,1.9 23.2,0" stroke="url(#g460)"/>
<path d="M1329.9,914.8l20.7-0.9 32.4-2.4 14.7-0.4 32.5,0.7 32.5,0.1 11.8,0.8 17.6,2.1" stroke="url(#g461)"/>
<path d="M1329.9,916.1l29.5,1.8 32.5,0.7 26.5-0.7 32.4-2.6 11.8-0.6 11.8,0.2 17.7,1.2" stroke="url(#g462)"/>
<path d="M1329.9,917.3l41.4-4.4 11.8-1 38.7-0.7 29.7-1.7 8.9,0.2 8.8,1.1 11.3,2.7 11.6,3.8" stroke="url(#g463)"/>
<path d="M1329.9,918.6l23.2,2.5 18,0.6 59-2.1 62-1" stroke="url(#g464)"/>
<path d="M1329.9,919.9l14.7-0.9 14.8-0.3 32.4,0.6 35.4-0.4 41.3,1.6 23.6-0.6" stroke="url(#g465)"/>
<path d="M1329.9,921.2l29.4-2.2 26.6-0.7 106.2,2.9" stroke="url(#g466)"/>
<path d="M1329.9,922.4l11.6,0.3 9.1-0.2 29.4-3.2 11.8-0.7 7.6,0.2 30.7,2.6 11.8,0 27-0.9 11.4,0.6 11.8,1.3" stroke="url(#g467)"/>
<path d="M1329.9,923.7l11.7,2.1 11.5,0.9 9.2-0.4 20.6-2.1 11.9-0.3 8.8,0.9 20.6,2.9 10,0.5 10.7-0.6 26.5-3.5 11.8-0.5 8.9,0.1" stroke="url(#g468)"/>
<path d="M1329.9,925l11.6,1.6 9,0.9 5.9,0.3 8.3,0 11.5-0.9 36.1-4.7 11.8-0.8 11.9-0.2 23.7,0.8 32.4,3" stroke="url(#g469)"/>
<path d="M1329.9,926.3l17.6,2 14.8,1.3 37.1,2.1 13.2,0.3 8.9-0.4 8.8-0.8 27-4.2 8.2-0.8 11.8-0.3 14.8,0.8" stroke="url(#g470)"/>
<path d="M1329.9,927.5l29.5,1.2 51.6,0.5 13.4-0.6 29.4-2.8 11.8-0.4 11.8,0.5 14.7,1.6" stroke="url(#g471)"/>
<path d="M1329.9,929l14.6,2.1 14.8,0.9 14.8-0.6 35.3-3.7 20.7-1 15.7-0.1 16.8,0.2 14.8,0.8 14.7,1.2" stroke="url(#g472)"/>
<path d="M1329.9,930.6l41.3,4.1 8.8,0.7 8.9,0.2 8.9-0.3 8.8-0.7 32.3-4.6 14.8-1.2 17.7-0.1 20.7,1.4" stroke="url(#g473)"/>
<path d="M1329.9,932.2l20.6-1 37.3,0.6 33.6-0.6 11.8,0.4 24.1,1.7 8.3,0.2 11.8-0.6 14.7-1.5" stroke="url(#g474)"/>
<path d="M1329.9,933.8l11.6-2.7 11.6-1.7 9-0.3 17.9,0.4 11.8-0.2 26.6-3.4 8.9-0.8 6.9,0.2 7.9,0.8 29.2,5.2 9.2,0.8 11.6,0.5" stroke="url(#g475)"/>
<path d="M1329.9,935.5l14.3-3.9 8.8-1.5 5.9-0.4 11.9,0.7 20.6,2.9 11.8,1.1 11.9-0.3 30.7-2.4 11.5-0.4 17.1,0.7 17.7,1.9" stroke="url(#g476)"/>
<path d="M1329.9,937.7l53.1,4.5 14.8,0.6 17.8,0 20.7-0.4 14.8-1 14.7-1.8 26.3-4.4" stroke="url(#g477)"/>
<path d="M1329.9,939.8l26.5-2.3 20.7-0.9 17.7,0.6 35.3,3.7 14.8,0.8 8.8,0.1 11.9-0.5 26.5-2" stroke="url(#g478)"/>
<path d="M1329.9,942l23.6-1.6 17.8,0 14.8,1.3 29.3,4.4 14.7,0.9 11.9-0.7 29.4-3.3 20.7-1.1" stroke="url(#g479)"/>
<path d="M1329.9,944.1l29.6-2 14.8-0.3 11.8,0.6 29.4,3.5 11.8,0.4 6.9-0.5 25.4-3.7 8.9-0.7 11.8,0.2 11.8,1.4" stroke="url(#g480)"/>
<path d="M1329.9,946.6l8.7,1.9 8.7,1.5 8.9,0.9 5.9,0.1 11.8-0.7 26.5-2.4 35.6-0.9 35.4-2.7 11.8-0.1 8.9,0.4" stroke="url(#g481)"/>
<path d="M1329.9,949l14.6-2.5 8.6-0.8 6.2-0.1 14.7,1.3 26.4,3.8 8.9,0.7 8.9,0.1 14.8-0.6 35.9-2.9 23.2-0.7" stroke="url(#g482)"/>
<path d="M1329.9,951.5l11.6,1.4 9,0.6 11.9-0.3 17.7-1 11.8,0.2 7.5,0.9 24.7,4.1 8.9,0.6 8.9-0.1 29.5-2.7 20.7-0.9" stroke="url(#g483)"/>
<path d="M1329.9,953.9l14.6-2.2 14.8-0.9 38.3,2.1 29.6-0.4 11.8,0.1 32.4,2.6 11.8,0.4 8.9-0.1" stroke="url(#g484)"/>
<path d="M1329.9,956.9l14.8-2 11.8-1.2 8.9-0.2 9,0.3 13.4,1.6 24.7,5 11.7,2 8.9,0.9 9,0.4 8.9-0.3 11.8-1.4 29.3-5.5" stroke="url(#g485)"/>
<path d="M1329.9,959.7l20.8,1.1 29.4,3.8 11.9,0.9 7.4,0.1 25.2-0.6 23.8,0.2 8.9-0.3 8.9-1 11.6-2.6 14.3-3.9" stroke="url(#g486)"/>
<path d="M1329.9,962.6l14.6,2 14.8,0.8 32.5-1 35.4,0.8 32.4-2.1 8.9-0.3 8.9,0.1 14.7,0.8" stroke="url(#g487)"/>
<path d="M1329.9,965.4l11.6,0.2 9.1,0.5 29.3,4.3 7.9,0.8 6.9,0.2 8.9-0.4 29.5-2.4 26.7,0 8.8-0.3 11.8-1.3 11.7-2" stroke="url(#g488)"/>
<path d="M1329.9,968.5l17.7-2.2 8.8-0.5 6,0 11.8,0.9 26.4,3.6 11.8,1.3 11.9,0.7 9.9,0.1 7.9-0.2 11.8-1 38.2-5.2" stroke="url(#g489)"/>
<path d="M1329.9,971.2l14.8-0.6 14.8,0 44.3,3.1 14.8,0.4 14.8-0.1 14.7-1.1 32.4-4.9 11.6-1.2" stroke="url(#g490)"/>
<path d="M1329.9,974.6l17.7,1.9 8.8,0.5 8.3,0 48-2 33.1-2.7 11.2-0.2 11.8,1 23.3,4.4" stroke="url(#g491)"/>
<path d="M1329.9,978.2l41.3-1.3 41.3-2.3 14.8-0.2 17.7,0.7 32.4,2.9 14.7,1" stroke="url(#g492)"/>
<path d="M1329.9,982.1l8.6-2.5 8.7-1.9 5.9-0.8 8.9-0.6 26.8,0.6 23.8-0.8 10,0.3 10.8,1.4 23.9,5 8.3,0.8 6-0.1 5.9-0.7 14.6-2.8" stroke="url(#g493)"/>
<path d="M1329.9,985.8l11.8-0.5 11.4,0.1 9.4,0.7 23.6,2.5 8.8,0.5 50.9-1.1 8.4-0.5 8.8-1.1 29.1-5.7" stroke="url(#g494)"/>
<path d="M1329.9,989.8l11.6,1.5 9.1,0.8 35.6-0.4 8.9,0.7 17.7,2 11.9,0.5 5.9-0.4 5.9-0.9 23.1-5.5 9.3-1.6 5.5-0.3 5.9,0.1 5.9,0.6 5.9,0.9" stroke="url(#g495)"/>
<path d="M1329.9,994l11.6-1.2 9.2-0.3 8.9,0.7 20.6,2.9 8.9,0.8 8.9-0.1 26.7-2 8.9,0.4 17.8,1.7 8.9,0.3 5.9-0.4 8.8-1.6 8.6-2.4 8.5-2.8" stroke="url(#g496)"/>
<path d="M1329.9,998.5l17.5,3.1 11.7,1.7 11.8,1.1 11.8,0.3 14.8-0.4 32.6-2 35.5-0.8 11.8-0.9 14.7-1.6" stroke="url(#g497)"/>
<path d="M1329.9,1002.5l11.3,3.6 8.7,2.2 8.8,1.3 8.9,0.4 35.6-1.8 26.7,0 11.9-0.3 14.8-1 35.5-3.5" stroke="url(#g498)"/>
<path d="M1492.1,837l12.4-1.4 11.3-0.5 29.8,1.9 29.7-0.9 9,0.3 23.8,1.6 11.9,0 8.9-0.4" stroke="url(#g499)"/>
<path d="M1492.1,838.5l20.1-4.2 8.8-1.2 5.8-0.3 5.9,0.1 5.9,0.6 28.7,6 8.8,1.1 11.7-0.2 16.2-1.3 7.3-0.3 8.8,0 8.8,0.6" stroke="url(#g500)"/>
<path d="M1492.1,839.6l29.7,2.1 23.9,0.8 17.9-0.9 29.7-2.7 8.9-0.2 11.9,0.6 14.8,2" stroke="url(#g501)"/>
<path d="M1492.1,842.7l44.6,2.2 8.9-0.2 26.8-1.5 35.7,1.2 11.9-0.4 8.9-0.8" stroke="url(#g502)"/>
<path d="M1492.1,844l17.8,1.3 17.9,0.1 20.9-0.7 42.9-2.3 7.7-0.2 14.8,0.8 14.8,2.1" stroke="url(#g503)"/>
<path d="M1492.1,845.4l20.8,1.5 20.8,1 59.6,1.6 14.8-0.4 20.8-1.8" stroke="url(#g504)"/>
<path d="M1492.1,850.8l26.8-1.2 11.9-0.1 8.9,0.3 35.7,2.3 16.2,0.3 16.6-0.7 20.7-2.2" stroke="url(#g505)"/>
<path d="M1492.1,852l11.9,0.9 11.9,0.2 56.5-0.7 35.7-1.1 20.8,0.4" stroke="url(#g506)"/>
<path d="M1492.1,853.9l8.8,1.6 11.9,1 27-0.2 29.8,1.3 9-0.8 23.5-4.1 6-0.7 11.9,0.5 8.9,1.4" stroke="url(#g507)"/>
<path d="M1492.1,855.5l17.9-0.7 11.9,0 26.7,2.1 11.9,0.5 14.9-0.4 29.7-1.7 11.4,0.2 12.4,0.7" stroke="url(#g508)"/>
<path d="M1492.1,857l44.7,1 29.9-3 5.8-0.2 8.9,0.5 26.6,3.2 12,0.3 8.9-0.5" stroke="url(#g509)"/>
<path d="M1492.1,862.9l8.9,0.4 9-0.4 5.9-0.5 26.6-3.7 8.9-0.7 9-0.3 11.9,0.4 31.7,2.1 24.9,0.8" stroke="url(#g510)"/>
<path d="M1492.1,864l11.8,1.5 11.9,0.5 11.9-0.4 35.7-2.5 65.5,0.7" stroke="url(#g511)"/>
<path d="M1492.1,865.5l23.8,0.1 26.7,1.8 9,0.3 11.9-0.3 35.6-1.7 14.9,0 14.9,0.5" stroke="url(#g512)"/>
<path d="M1492.1,867.8l11.9-1.2 11.9-0.3 11.9,0.8 26.7,2.4 38.7,0.9 17.9-0.3 17.8-1.3" stroke="url(#g513)"/>
<path d="M1492.1,869l17.6,3.6 7.3,0.9 7.5,0.4 32.9-0.7 26.9,1.3 11.9,0.1 14.9-1 17.8-2.2" stroke="url(#g514)"/>
<path d="M1492.1,870l5.8,1.7 5.8,1.3 6,1 6,0.4 29.8-2.6 9,0.1 21,1.2 28.5-3.2 4.3-0.1 6,0.6 5.9,1 8.7,2.5" stroke="url(#g515)"/>
<path d="M1492.1,879.8l12-0.8 25.3-4.1 7.3-0.5 5.1,0.2 6.8,0.7 23.6,4.3 12,1 8.9-0.4 35.8-3.7" stroke="url(#g516)"/>
<path d="M1492.1,881l32.8,0.2 41.7-0.8 11.9,0.6 14.9,1.3 11.9,0.4 11.2-1.1 12.4-2.4" stroke="url(#g517)"/>
<path d="M1492.1,882.5l14.9-1 12,0.1 8.9,0.9 23.6,3.7 6,0.6 6,0.1 11.9-0.8 29.6-4.1 11.5-0.4 12.4,0.3" stroke="url(#g518)"/>
<path d="M1492.1,885.6l8.9,0.2 9-0.3 32.7-2.7 8.9-0.4 11.9,0.3 29.7,3.2 8.9,0.4 12-0.2 14.8-1.5" stroke="url(#g519)"/>
<path d="M1492.1,887l23.9,0.8 29.6,3.3 12,0.6 5.9-0.1 9-0.8 20.7-3 11.8-1.2 11.5-0.1 12.4,0.8" stroke="url(#g520)"/>
<path d="M1492.1,888.3l8.8-1.7 8.9-1.1 11.9-0.5 29.8,2.1 32.8-0.1 11.9,0.3 32.7,2.6" stroke="url(#g521)"/>
<path d="M1492.1,890.6l8.9,0.4 12-0.2 23.7-2.5 11.9-0.6 8.9,0.5 26.7,2.9 32.3,0.7 12.4,0.7" stroke="url(#g522)"/>
<path d="M1492.1,898.2l11.9-0.7 26.5-4.5 11.9-1.2 9,0 27.8,1.7 28.8-0.1 12,0.5 8.9,0.7" stroke="url(#g523)"/>
<path d="M1492.1,899.5l8.9,0.6 12-0.5 32.4-5.4 11.9-0.6 9,0.2 32.8,2 29.8,0.8" stroke="url(#g524)"/>
<path d="M1492.1,900.8l9,0.6 11.9-0.4 8.9-1.4 23.5-4.3 8.9-1 9-0.5 12,0.3 11.9,0.7 41.7,3.8" stroke="#5b00a4"/>
<path d="M1492.1,902l8.7-2.2 8.8-1.7 7.4-1 7.5-0.5 47.8,1.5 26.8,3 8.9,0.7 12-0.4 8.9-1" stroke="url(#g525)"/>
<path d="M1492.1,903.3l5.7,1.9 5.9,1.3 5.9,0.9 6,0.2 29.7-3.5 6,0.2 18,1.6 9.9,0.4 8-0.6 16.8-2.5 6.9-0.8 9-0.4 9,0.3" stroke="url(#g526)"/>
<path d="M1492.1,904.6l9-0.4 8.9,0.2 7,0.6 16.8,2 8,0.4 9.9-1 17.6-3.3 9.9-1.1 11,0.3 13.8,1.7 7,0.5 8.9,0.1 9-0.5" stroke="url(#g527)"/>
<path d="M1492.1,905.9l11.6-2.8 8.9-1.5 5.9-0.6 9-0.4 41.8,0.9 9,0.7 29.7,3.7 11.9,0.3 9-0.3" stroke="url(#g528)"/>
<path d="M1492.1,907.1l17.4,3 8.8,0.7 5.9,0.1 11.8-1.2 20.3-3.7 5.8-0.6 5.9-0.2 8.8,0.8 17.3,3.7 11.7,1.6 5.9-0.3 5.8-0.8 5.7-1.3 5.7-1.8" stroke="url(#g529)"/>
<path d="M1492.1,908.4l5.7-2 8.7-2.3 5.9-1 5.9-0.4 9,0.4 20.8,3 11.9,1.2 36-0.5 32.9,1.6" stroke="url(#g530)"/>
<path d="M1492.1,909.7l12.4-0.2 26.3-2.7 6-0.3 6,0.1 5.9,0.7 20.6,3.8 11.9,1.4 8.9-0.2 26.8-2.4 12-0.2" stroke="url(#g531)"/>
<path d="M1492.1,911l29.9,0.1 11.9-0.4 7.9-0.8 24.9-3.4 8.7-0.5 11.9,0.8 26.7,3.4 14.9,0.8" stroke="url(#g532)"/>
<path d="M1492.1,912.2l9-0.4 11.9-1.1 29.6-5 6-0.6 8.9-0.4 6,0.3 6,0.7 23.6,4.5 11.8,1.7 11.6,0.6 12.4-0.3" stroke="url(#g533)"/>
<path d="M1492.1,913.5l20.8-0.6 26.8,0.5 29.8-0.2 35.7,2.1 11.9-0.4 11.8-1.4" stroke="url(#g534)"/>
<path d="M1492.1,914.8l8.9,1 11.9,0.4 23.8-1.1 8.9-0.1 23.8,1.5 8.9,0.3 9-0.3 23.7-1.7 9-0.2 8.9,0.2" stroke="url(#g535)"/>
<path d="M1492.1,916.1l8.8,0.1 5.9,0.5 23.3,3.1 8.8,0.6 8.8-0.6 20.5-2.5 5.9-0.1 5.1,0.5 18.1,2.9 8.8,1 5.9-0.5 5.8-1.2 5.6-1.6 5.5-2.2" stroke="url(#g536)"/>
<path d="M1492.1,917.3l5.6,2.1 5.6,1.5 5.8,1.1 5.9,0.3 29.3-3.7 10,0.3 13.5,1.3 8.8,0.1 8.8-1.4 18.6-3.8 4.5-0.5 5.9,0.1 5.9,0.6 8.6,2" stroke="url(#g537)"/>
<path d="M1492.1,918.6l8.9,0.5 9-0.1 7-0.5 16.7-1.8 9-0.4 8.9,0.5 17.7,2.5 11.9,0.9 9-0.2 23.8-1.6 14.9,0.2" stroke="url(#g538)"/>
<path d="M1492.1,919.9l8.7,2.4 8.8,1.7 7.4,0.9 7.5,0.2 29.9-1.3 29.9,0.7 12-0.3 14.9-1.5 17.7-2.8" stroke="url(#g539)"/>
<path d="M1492.1,921.2l38.6-3.6 11.9-0.4 11.7,0.4 29.9,3 11.9,0.7 14.9,0.2 17.9-0.3" stroke="url(#g540)"/>
<path d="M1492.1,922.4l8.9-1.5 8.9-0.5 7.1,0.4 16.7,2.5 8.9,1 9-0.4 14.8-2.1 8.9-0.9 9,0.3 23.8,2.9 11.9-0.3 8.9-1.4" stroke="url(#g541)"/>
<path d="M1492.1,923.7l17.9,0.4 29.8-0.8 29.7,0.9 9-0.4 20.7-1.9 9-0.4 11.9,0.9 8.8,1.3" stroke="url(#g542)"/>
<path d="M1492.1,925l14.6,3.3 10.3,1.8 10.5,1 9,0.2 29.9-0.8 27-0.2 6-0.4 14.8-1.8 14.7-3.1" stroke="url(#g543)"/>
<path d="M1492.1,926.3l11.9-0.9 26.7-3.1 9-0.5 11.9,0.8 20.6,3.5 11.9,1.5 12,0 32.8-1.3" stroke="url(#g544)"/>
<path d="M1492.1,927.5l27,1.1 18-0.2 14.9-1.7 27.2-4.6 5.3-0.6 7.1-0.2 7.9,0.3 9,1.2 8.8,1.8 11.6,2.9" stroke="url(#g545)"/>
<path d="M1492.1,928.8l8.8-1.2 11.7-0.2 5.9,0.6 14.5,2.2 8.8,0.8 8.9-0.5 16-1.7 7.4-0.2 5.1,0.6 18.1,3.6 8.7,1.4 5.9-0.3 5.8-1.1 5.7-1.6 5.5-2.2" stroke="url(#g546)"/>
<path d="M1492.1,930.1l8.3,2.9 8.6,2.2 8,1.2 6.6,0.2 5.8-0.4 5.9-0.8 23.1-4.1 11.7-1.2 8.9-0.1 29.3,0.9 20.6-0.3" stroke="url(#g547)"/>
<path d="M1492.1,931.4l23.7-3 13.6-0.6 10.3,0.5 29.5,4.1 9,0.7 11.9,0 26.4-1 12.4,0.1" stroke="url(#g548)"/>
<path d="M1492.1,932.6l9,0.1 8.9,0.6 23.6,3.2 11.9,0.8 8.8-0.2 24-1.7 25.7,0.4 7.1-0.2 8.9-0.7 8.9-1.1" stroke="url(#g549)"/>
<path d="M1492.1,933.9l8.7-2.1 6-0.8 6-0.4 4.2,0.2 28.5,3.6 29.9-0.3 28.6,3.6 4.1,0.2 11.9-0.8 8.9-1.6" stroke="url(#g550)"/>
<path d="M1492.1,935.2l8.9-0.5 12,0.2 11.9,0.9 20.7,2.2 14.9,0.8 11.9-0.3 20.8-2.1 11.9-0.7 11.4,0.5 12.4,1.5" stroke="url(#g551)"/>
<path d="M1492.1,939.3l14.7,2.9 11.9,1.6 11.9,0.8 26.9,1.1 9.2-0.2 8.8-0.7 23.6-4.1 8.9-1.2 11.9-0.2 9,0.5" stroke="url(#g552)"/>
<path d="M1492.1,941.9l11.9,0.3 29.8,1.5 11.9-0.3 26.7-2.4 11.9-0.6 44.6,1.6" stroke="url(#g553)"/>
<path d="M1492.1,943l8.7,2.3 8.8,1.7 6,0.7 5.9,0.2 7.9-0.5 27.7-4.1 12-0.8 12-0.2 17.9,0.2 29.9,1.6" stroke="url(#g554)"/>
<path d="M1492.1,944.6l11.7,2.7 11.8,1.6 27-0.3 26.8,1.4 9-0.3 29.6-4.5 12,0.2 8.9,1.2" stroke="url(#g555)"/>
<path d="M1492.1,947.3l8.7-2.2 8.8-1.6 7.4-0.7 7.5-0.1 35.7,3.4 43.8,1.1 24.9,1.8" stroke="url(#g556)"/>
<path d="M1492.1,954.3l26.6-3 9-0.5 11.9,0 27.1,1.2 17.5,0.4 19.8-0.1 24.9-0.8" stroke="url(#g557)"/>
<path d="M1492.1,955.5l8.9-1.5 11.9-1 8.9,0.6 20.8,2.5 9,0.1 8.9-1.1 20.7-3.4 8.9-0.6 12,0.3 26.8,2.5" stroke="url(#g558)"/>
<path d="M1492.1,956.5l29.6-4.3 14.9-1 11.9,0.6 26.8,2.4 32.9-0.2 11.9,1.3 8.8,1.6" stroke="url(#g559)"/>
<path d="M1492.1,957.4l20.8,0.9 32.7-0.7 35.7,2.3 32.7-0.6 14.9,0.4" stroke="url(#g560)"/>
<path d="M1492.1,963.7l9,0.4 11.9-0.4 29.7-3.8 5.9-0.4 6,0.1 9,0.7 23.6,3.6 11.9,1 15-0.5 14.8-1.8" stroke="url(#g561)"/>
<path d="M1492.1,965l17.9-1.1 31.8-4.6 9.7-0.5 11.9,0.7 32.7,4 32.8,1.9" stroke="url(#g562)"/>
<path d="M1492.1,966l26.7,3 8.9,0.5 12-0.3 17.8-1.2 9.2-0.2 11.7,0.5 20.8,1.9 8.9,0.3 11.9-0.8 8.9-1.2" stroke="url(#g563)"/>
<path d="M1492.1,966.8l17.8,2 8.9,0.5 35.5-0.7 35.9,2.6 38.7,0" stroke="url(#g564)"/>
<path d="M1492.1,977.5l20.5-4.3 6-0.9 6-0.4 12,0.5 20.8,2.3 9,0.2 9-0.6 20.8-2.8 9-0.5 6,0.4 5.3,0.6 12.4,2.6" stroke="url(#g565)"/>
<path d="M1492.1,979l14.8-2 11.9-0.4 9,0.7 26.6,4.1 5.9,0.6 9,0.2 17.9-0.8 41.7-3.2" stroke="url(#g566)"/>
<path d="M1492.1,980l5.9-0.8 5.8-0.3 5.9,0 5.9,0.6 11.5,2.6 20,5.3 8.7,1.4 8.8,0.6 14.6-0.4 17.7-1.5 14.6-2.1 17.4-3.3" stroke="url(#g567)"/>
<path d="M1492.1,980.7l17.5,4 5.9,0.9 6,0.5 29.9-0.6 23.9,0.5 32.8-2.6 11.9,0.9 8.9,1.5" stroke="url(#g568)"/>
<path d="M1492.1,987.8l8.4-3 5.8-1.2 5.9-0.5 3,0.1 5.8,1.1 8.4,2.2 14.4,4.2 5.8,1.2 4.7,0.4 24.9,0.5 14.7,1 11.8,0.4 5.9-0.5 5.9-0.9 11.4-3" stroke="url(#g569)"/>
<path d="M1492.1,990l14.7,2.7 6,0.7 6,0 8.9-0.8 23.7-4.1 5.9-0.5 6-0.1 41.8,2.9 12,1.4 11.8,1.8" stroke="url(#g570)"/>
<path d="M1492.1,999l9,0.2 8.9-0.5 7-0.6 16.7-2.4 11.9-0.7 8.7,0.7 18,2.5 8.9,0.9 8.9,0.1 26.4-1 12.4,0.3" stroke="url(#g571)"/>
<path d="M1492.1,1003.4l26.9,2.3 9,0.4 9-0.2 21-1.3 9,0 11.9,1.2 14.8,2.2 10.3,0.5 4.7-0.3 7.8-1.5 6.8-2 5.6-2.2" stroke="url(#g572)"/>
</g>
<rect x="360" y="360" width="1275" height="790" fill="url(#sp)" mask="url(#bm)"/>
<clipPath id="dc"><rect x="1714.0" y="295.0" width="448.0" height="924.0"/></clipPath>
<g clip-path="url(#dc)" fill="none" stroke-linejoin="round" stroke-linecap="butt">
<path d="M1734.4,334.0 1734.4,367.4 1741.2,379.8 1749.5,392.2 1768.0,398.4 1776.3,403.5 1768.0,406.6 1781.4,412.4 1759.8,419.0 1775.3,422.1 1772.2,427.2 1807.2,431.3 1846.4,437.9 1815.5,441.6 1796.9,444.7 1815.5,449.9 1819.6,452.0 1867.0,457.1 1844.3,460.2 1815.5,466.4 1782.5,468.5 1751.5,471.5 1772.2,474.6 1823.7,478.8 1887.6,481.9 1848.5,484.9 1908.2,488.5 1844.3,491.1 1807.2,494.2 1842.3,496.3 1823.7,500.4 1782.5,501.9 1751.5,504.5 1744.3,511.8 1734.4,513.8 1739.2,519.0 1761.9,522.1 1799.0,525.2 1782.5,528.7 1754.6,530.3 1752.6,536.5 1755.7,544.7 1771.1,549.3 1757.7,553.0 1737.1,555.1 1751.5,558.1 1803.1,559.2 1897.9,561.2 1895.9,564.3 1803.1,565.4 1734.4,567.4 1761.9,570.5 1844.3,574.0 1943.3,577.7 1885.6,580.2 1844.3,580.8 1792.8,583.5 1801.0,587.0 1761.9,588.0 1734.4,589.1 1734.4,620.0 1734.6,680.0 1734.6,708.1 1764.8,712.4 1803.7,718.5 1786.4,723.2 1829.6,726.0 1779.9,730.1 1947.4,732.5 1894.4,737.2 1849.1,743.7 1913.9,752.4 1877.1,756.0 1897.7,761.0 1851.2,764.3 1764.8,766.4 1900.9,769.0 1851.2,773.3 1902.0,779.8 1872.8,782.6 2142.9,785.9 1980.8,789.1 1851.2,793.4 1734.6,799.9 1932.2,803.1 1872.8,807.5 1786.4,813.9 1736.7,818.3 1754.0,824.7 1782.1,828.0 1916.0,832.3 1927.9,836.5 1851.2,841.9 1904.1,848.4 1827.5,853.8 1885.8,859.2 1846.9,862.0 1958.2,867.8 1900.9,873.2 1950.6,876.0 1996.0,881.8 1931.2,884.0 1989.5,887.2 1918.2,889.4 1936.6,893.1 1864.2,895.9 1933.3,904.5 1923.6,906.7 1999.2,909.9 1920.3,915.3 1950.6,917.5 1971.1,924.0 1924.7,929.4 1920.3,932.6 1869.6,934.8 1913.9,937.4 1860.9,940.6 1925.8,942.8 1932.2,948.8 1895.5,952.1 1937.6,954.6 1873.9,957.9 1924.7,966.1 1863.1,968.7 1883.6,974.3 1844.7,979.1 1853.4,982.9 1822.1,987.7 1865.3,990.9 1835.0,996.3 1859.9,999.6 1803.7,1003.9 1848.0,1008.2 1813.4,1010.4 1833.9,1015.8 1788.6,1021.2 1791.8,1025.5 1773.4,1030.0 1769.6,1032.5 1766.5,1039.3 1760.5,1045.4 1751.4,1052.2 1746.9,1060.5 1745.4,1071.8 1745.7,1081.7 1748.4,1090.7 1752.9,1100.6 1748.1,1108.1 1754.4,1114.2 1754.4,1118.7 1748.4,1123.2 1749.1,1126.3 1740.8,1132.3 1736.3,1137.6 1734.5,1141.4 1734.5,1178.7" stroke="#000000" stroke-width="6.00"/>
<path d="M1734.4,334.0 1734.4,367.4 1735.1,402.5 1735.5,443.7 1735.1,484.9 1734.4,513.8 1734.6,567.4 1734.4,590.1 1734.4,620.0 1734.6,680.0 1734.6,712.4 1736.7,718.9 1741.0,740.5 1745.4,749.1 1740.0,754.5 1743.2,761.0 1734.6,766.0 1738.9,775.1 1754.0,786.9 1741.0,792.3 1734.6,799.9 1756.2,804.2 1741.0,811.8 1736.7,818.3 1756.2,831.2 1785.3,836.5 1756.2,841.9 1781.0,847.3 1761.6,852.7 1790.7,859.2 1779.9,862.0 1836.1,867.8 1812.3,873.2 1821.0,876.0 1838.3,881.4 1812.3,884.0 1842.6,887.2 1821.0,890.5 1789.7,894.8 1823.1,904.5 1825.3,906.7 1851.2,915.3 1849.1,918.6 1862.0,924.0 1838.3,929.4 1827.5,933.7 1805.9,935.9 1829.6,937.4 1808.0,940.6 1842.6,942.8 1859.9,948.8 1835.0,952.1 1860.9,954.6 1818.8,957.9 1848.0,966.1 1806.9,968.7 1813.4,974.3 1792.9,979.1 1800.5,982.9 1786.4,987.7 1812.3,990.9 1790.7,996.3 1804.8,999.6 1777.8,1003.9 1809.1,1008.2 1786.4,1010.4 1795.1,1015.8 1768.0,1021.2 1769.1,1025.5 1758.3,1030.0 1756.0,1032.5 1752.2,1039.3 1745.4,1048.4 1740.8,1060.5 1740.1,1071.8 1740.5,1081.7 1741.6,1090.7 1743.1,1100.6 1741.6,1108.1 1743.9,1114.2 1743.9,1118.7 1742.0,1123.2 1741.1,1128.5 1737.8,1133.1 1734.5,1138.4 1734.5,1178.7" stroke="#1f77b4" stroke-width="4.17"/>
<path d="M1734.4,334.0 1734.4,367.4 1738.1,381.9 1743.3,392.2 1750.5,402.5 1748.5,408.7 1750.5,412.8 1742.3,419.0 1746.4,427.2 1748.5,437.5 1756.7,449.9 1746.4,460.2 1755.7,464.3 1739.2,470.5 1751.5,476.7 1772.2,481.9 1790.7,483.9 1777.3,484.9 1796.9,488.0 1763.9,493.2 1776.3,495.3 1761.9,497.3 1743.3,501.4 1737.1,509.7 1734.4,514.8 1736.1,526.2 1735.5,546.8 1736.7,557.1 1735.1,567.4 1737.1,577.7 1735.5,588.0 1734.4,590.1 1734.4,620.0 1734.6,680.0 1734.6,712.4 1740.0,718.9 1737.8,726.4 1748.6,732.5 1743.2,739.4 1747.5,747.0 1760.5,751.9 1748.6,755.6 1758.3,760.4 1736.7,766.0 1761.6,769.0 1740.0,775.1 1743.2,781.5 1775.6,785.9 1743.2,792.3 1734.6,799.9 1757.2,803.6 1743.2,809.6 1734.6,818.3 1741.0,831.2 1741.0,836.5 1738.9,843.0 1742.1,858.1 1744.3,873.2 1746.4,888.3 1743.2,899.1 1748.6,909.9 1744.3,916.4 1745.4,927.2 1741.0,940.2 1747.5,947.7 1744.3,955.3 1748.6,966.1 1744.3,979.1 1741.0,987.7 1744.3,1000.7 1740.0,1009.3 1743.2,1015.8 1740.0,1024.4 1738.9,1030.0 1737.5,1034.8 1736.3,1045.4 1735.1,1060.5 1735.7,1075.6 1736.3,1090.7 1736.7,1105.9 1736.3,1114.9 1737.0,1121.0 1735.5,1128.5 1734.5,1136.9 1734.5,1178.7" stroke="#ff7f0e" stroke-width="4.17"/>
<path d="M1734.4,334.0 1734.4,367.4 1738.1,377.7 1743.3,390.1 1749.5,396.3 1758.8,402.5 1755.7,406.6 1761.9,411.8 1750.5,419.0 1760.8,423.1 1761.9,428.2 1778.4,432.4 1803.1,434.4 1832.0,437.9 1811.3,440.6 1782.5,443.7 1794.8,455.1 1823.7,456.1 1853.6,457.1 1832.0,460.2 1792.8,465.4 1757.7,467.4 1743.3,471.5 1753.6,475.7 1782.5,479.8 1815.5,483.9 1829.9,484.9 1807.2,486.2 1844.3,488.0 1815.5,490.3 1778.4,494.8 1799.0,496.5 1786.6,499.4 1761.9,501.0 1744.3,502.5 1740.2,508.7 1734.4,513.8 1739.2,519.0 1761.9,522.1 1799.0,525.2 1782.5,528.7 1754.6,530.3 1752.6,536.5 1755.7,544.7 1771.1,549.3 1757.7,553.0 1737.1,555.1 1751.5,558.1 1803.1,559.2 1895.9,561.2 1893.8,564.3 1803.1,565.4 1734.4,567.4 1761.9,570.5 1844.3,574.0 1943.3,577.7 1885.6,580.2 1844.3,580.8 1792.8,583.5 1799.0,587.0 1761.9,588.0 1734.4,589.1 1734.4,620.0 1734.6,680.0 1734.6,708.1 1754.0,712.4 1792.9,717.8 1776.7,724.3 1816.7,726.4 1773.4,730.1 1918.2,732.5 1872.8,736.6 1829.6,743.7 1851.2,748.0 1875.0,750.9 1816.7,755.2 1866.3,760.4 1797.2,763.2 1746.4,766.4 1865.3,769.2 1777.8,774.4 1838.3,777.6 1885.8,781.1 1853.4,783.3 2082.4,785.9 1916.0,789.1 1808.0,793.4 1734.6,799.9 1885.8,803.1 1829.6,806.4 1775.6,810.7 1736.7,817.2 1743.2,824.7 1760.5,829.1 1808.0,831.2 1868.5,836.5 1795.1,841.9 1851.2,847.3 1792.9,854.8 1821.0,859.2 1795.1,862.4 1849.1,867.8 1816.7,873.2 1851.2,876.0 1880.4,881.4 1846.9,884.0 1870.7,887.2 1827.5,892.6 1800.5,894.8 1833.9,904.5 1825.3,906.7 1862.0,909.9 1821.0,915.3 1831.8,924.0 1812.3,929.4 1791.8,934.8 1810.2,936.9 1785.3,940.6 1803.7,944.5 1786.4,952.1 1799.4,954.6 1782.1,957.9 1797.2,966.1 1781.0,968.7 1790.7,974.3 1775.6,979.1 1776.7,982.9 1764.8,987.7 1777.8,990.9 1770.2,996.3 1776.7,999.6 1756.2,1003.9 1764.8,1008.2 1755.1,1010.4 1763.7,1015.8 1750.8,1021.2 1750.8,1025.5 1746.4,1030.0 1746.1,1032.5 1744.6,1039.3 1740.1,1051.4 1737.8,1063.5 1737.8,1075.6 1738.6,1084.7 1739.6,1096.8 1740.5,1105.9 1739.6,1110.4 1741.6,1116.4 1740.1,1124.0 1737.8,1130.0 1734.5,1137.6 1734.5,1178.7" stroke="#2ca02c" stroke-width="4.17"/>
</g>
<path d="M366.0 295.0v20.0M366.0 1219.0v-20.0M452.0 295.0v20.0M452.0 1219.0v-20.0M538.0 295.0v20.0M538.0 1219.0v-20.0M798.0 295.0v20.0M798.0 1219.0v-20.0M1071.0 295.0v20.0M1071.0 1219.0v-20.0M1157.0 295.0v20.0M1157.0 1219.0v-20.0M1243.0 295.0v20.0M1243.0 1219.0v-20.0M1330.0 295.0v20.0M1330.0 1219.0v-20.0M1492.0 295.0v20.0M1492.0 1219.0v-20.0M1629.0 295.0v20.0M1629.0 1219.0v-20.0M302.0 1072.0h20.0M1692.0 1072.0h-20.0M1714.0 1072.0h20.0M2162.0 1072.0h-20.0M302.0 835.0h20.0M1692.0 835.0h-20.0M1714.0 835.0h20.0M2162.0 835.0h-20.0M302.0 598.0h20.0M1692.0 598.0h-20.0M1714.0 598.0h20.0M2162.0 598.0h-20.0M302.0 362.0h20.0M1692.0 362.0h-20.0M1714.0 362.0h20.0M2162.0 362.0h-20.0M1735.0 295.0v20.0M1735.0 1219.0v-20.0M2125.0 295.0v20.0M2125.0 1219.0v-20.0" stroke="#000" stroke-width="4.00" fill="none"/>
<path d="M302.0 1072.6H1692.0" stroke="#808080" stroke-width="2.4" fill="none"/>
<rect x="302.0" y="295.0" width="1390.0" height="924.0" fill="none" stroke="#000" stroke-width="4.00"/>
<rect x="1714.0" y="295.0" width="448.0" height="924.0" fill="none" stroke="#000" stroke-width="4.00"/>
<rect x="1934.8" y="319.9" width="202.4" height="276.8" fill="#fff" stroke="#000" stroke-width="1.3"/>
<path d="M1952.4 360.1H1982.6" stroke="#000000" stroke-width="6.25" fill="none"/>
<text x="2002.0" y="378.9" font-size="50">Total</text>
<path d="M1953.0 423.0H1982.0" stroke="#1f77b4" stroke-width="4.17" fill="none"/>
<text x="2002.0" y="441.7" font-size="50">Rb</text>
<path d="M1953.0 485.9H1982.0" stroke="#ff7f0e" stroke-width="4.17" fill="none"/>
<text x="2002.0" y="504.4" font-size="50">Y</text>
<path d="M1953.0 548.7H1982.0" stroke="#2ca02c" stroke-width="4.17" fill="none"/>
<text x="2002.0" y="567.3" font-size="50">Cl</text>
<text x="272.6" y="1096.3" font-size="58.33" text-anchor="end">0</text>
<text x="272.6" y="859.3" font-size="58.33" text-anchor="end">100</text>
<text x="272.6" y="622.3" font-size="58.33" text-anchor="end">200</text>
<text x="272.6" y="386.3" font-size="58.33" text-anchor="end">300</text>
<text x="1735.0" y="1293.3" font-size="58.33" text-anchor="middle">0</text>
<text x="2125.0" y="1293.3" font-size="58.33" text-anchor="middle">2</text>
<text x="1938.2" y="1384.4" font-size="58.33" text-anchor="middle">DOS (a.u.)</text>
<text transform="translate(111.7 1016.8) rotate(-90)" font-size="58.33"><tspan letter-spacing="0.5">Frequency </tspan>(cm<tspan font-size="40.83" dy="-21.2" dx="1">−1</tspan></text>
<text transform="translate(111.7 522.5) rotate(-90) scale(1.29 1)" font-size="58.33">)</text>
<text x="349.8" y="1293.2" font-size="58.33">Γ</text>
<text x="403.5" y="1279.7" font-size="40.83">C</text>
<text x="435.2" y="1303.2" font-size="58.33">/</text>
<text x="453.8" y="1311.7" font-size="40.83">C</text>
<text x="483.5" y="1318.0" font-size="28.58">2</text>
<text x="509.2" y="1293.2" font-size="58.33">Y</text>
<text x="544.7" y="1302.0" font-size="40.83">2</text>
<text x="782.0" y="1293.2" font-size="58.33">Γ</text>
<text x="1033.2" y="1293.2" font-size="58.33">M</text>
<text x="1083.8" y="1302.0" font-size="40.83">2</text>
<text x="1106.3" y="1279.7" font-size="40.83">D</text>
<text x="1140.2" y="1303.2" font-size="58.33">/</text>
<text x="1158.9" y="1311.7" font-size="40.83">D</text>
<text x="1191.0" y="1318.0" font-size="28.58">2</text>
<text x="1223.8" y="1293.2" font-size="58.33">A</text>
<text x="1287.6" y="1279.7" font-size="40.83">Γ</text>
<text x="1312.4" y="1303.2" font-size="58.33">/</text>
<text x="1333.0" y="1311.7" font-size="40.83">L</text>
<text x="1355.8" y="1318.0" font-size="28.58">2</text>
<text x="1476.2" y="1293.2" font-size="58.33">Γ</text>
<text x="1597.3" y="1293.2" font-size="58.33">V</text>
<text x="1636.7" y="1302.0" font-size="40.83">2</text>
</svg></body></html>
